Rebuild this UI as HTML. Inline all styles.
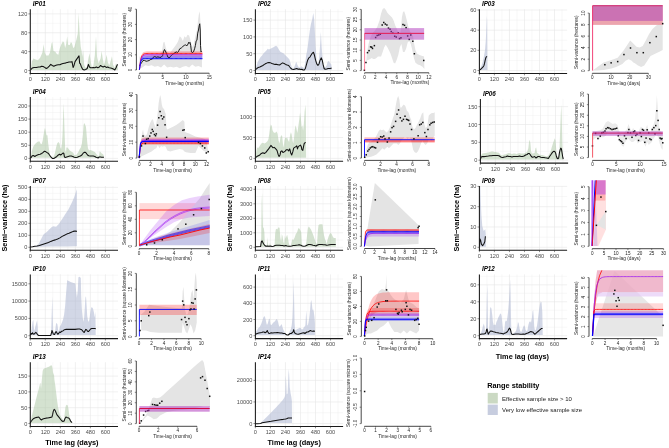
<!DOCTYPE html>
<html><head><meta charset="utf-8"><style>
html,body{margin:0;padding:0;background:#fff;overflow:hidden}
svg{display:block}
text{font-family:"Liberation Sans",sans-serif}
.gmaj{stroke:#e6e6e6;stroke-width:0.6}
.gmin{stroke:#f0f0f0;stroke-width:0.45}
.axl{stroke:#1a1a1a;stroke-width:1.05}
.tk{stroke:#333;stroke-width:0.55}
.tl{font-size:5.6px;fill:#4d4d4d}
.ttl{font-size:6.3px;font-weight:bold;font-style:italic;fill:#000}
.rax{stroke:#333;stroke-width:0.9}
.rtk{stroke:#333;stroke-width:0.6}
.rtl{font-size:4.6px;fill:#222}
.ral{font-size:4.8px;fill:#2a2a2a}
.big{font-size:7.35px;font-weight:bold;fill:#000}
.lgt{font-size:7.35px;font-weight:bold;fill:#000}
.lgl{font-size:6.0px;fill:#1a1a1a}
</style></head><body>
<svg width="669" height="448" viewBox="0 0 669 448" style="will-change:transform">
<rect width="669" height="448" fill="#fff"/>
<g>
<line x1="30.3" y1="61.07" x2="118" y2="61.07" class="gmin"/>
<line x1="30.3" y1="42.2" x2="118" y2="42.2" class="gmin"/>
<line x1="30.3" y1="23.33" x2="118" y2="23.33" class="gmin"/>
<line x1="37.81" y1="9.2" x2="37.81" y2="73.4" class="gmin"/>
<line x1="52.84" y1="9.2" x2="52.84" y2="73.4" class="gmin"/>
<line x1="67.86" y1="9.2" x2="67.86" y2="73.4" class="gmin"/>
<line x1="82.88" y1="9.2" x2="82.88" y2="73.4" class="gmin"/>
<line x1="97.91" y1="9.2" x2="97.91" y2="73.4" class="gmin"/>
<line x1="112.93" y1="9.2" x2="112.93" y2="73.4" class="gmin"/>
<line x1="30.3" y1="70.5" x2="118" y2="70.5" class="gmaj"/>
<line x1="30.3" y1="51.63" x2="118" y2="51.63" class="gmaj"/>
<line x1="30.3" y1="32.76" x2="118" y2="32.76" class="gmaj"/>
<line x1="30.3" y1="13.9" x2="118" y2="13.9" class="gmaj"/>
<line x1="30.3" y1="9.2" x2="30.3" y2="73.4" class="gmaj"/>
<line x1="45.32" y1="9.2" x2="45.32" y2="73.4" class="gmaj"/>
<line x1="60.35" y1="9.2" x2="60.35" y2="73.4" class="gmaj"/>
<line x1="75.37" y1="9.2" x2="75.37" y2="73.4" class="gmaj"/>
<line x1="90.4" y1="9.2" x2="90.4" y2="73.4" class="gmaj"/>
<line x1="105.42" y1="9.2" x2="105.42" y2="73.4" class="gmaj"/>
<polygon points="30.73,70 31.8,61.65 33.31,58.62 35.59,59.38 37.87,60.13 40.15,57.86 42.42,52.54 43.64,44.19 44.7,52.54 46.22,55.58 48.49,55.58 50.01,52.54 51.53,43.44 52.29,41.92 53.5,51.03 55.33,51.79 56.84,54.06 58.36,54.82 59.88,47.99 61.4,44.19 62.92,41.16 64.13,42.68 65.19,47.99 66.26,43.44 67.17,36.6 68.23,44.95 69.75,44.95 70.96,41.92 72.03,43.44 73.24,47.99 74.3,47.23 75.37,43.44 76.58,38.88 77.8,33.57 78.55,13.07 79.62,33.57 80.68,46.47 81.59,51.03 82.35,57.1 83.11,50.27 84.17,64.69 85.39,67.73 86.9,66.97 88.42,58.62 89.48,53.3 90.55,60.13 91.76,66.97 93.28,66.21 94.8,55.58 96.01,36.6 97.08,57.1 98.59,63.17 100.57,58.62 101.63,51.03 102.69,58.62 103.91,64.69 105.43,60.13 106.64,54.82 107.7,61.65 109.22,65.45 110.74,60.89 111.95,56.34 113.02,64.69 114.53,67.73 116.05,63.17 117.27,67.73 117.87,64.69 118.03,70 118.03,69.9 30.73,69.9" fill="#a9c5a1" fill-opacity="0.5"/>
<polyline points="30.73,69.55 32.25,68.03 34.07,67.42 36.35,67.42 38.63,66.97 40.15,66.97 41.66,66.21 43.18,66.51 44.7,67.42 46.22,68.48 47.74,67.73 49.25,66.21 50.77,64.39 52.29,65.45 53.81,66.21 55.33,65.45 56.84,64.99 58.36,64.69 59.88,64.69 61.4,63.93 62.92,63.47 64.44,63.17 65.95,62.87 67.47,62.41 68.99,61.96 70.51,61.96 72.03,61.65 73.09,67.42 74,65.45 75.06,61.65 76.58,59.38 78.1,57.1 79.01,55.88 79.62,63.17 80.38,63.93 81.13,66.21 81.89,67.73 82.65,69.24 84.17,70 85.69,69.55 87.21,68.48 88.42,64.39 89.48,66.97 90.55,67.73 91.76,67.73 93.28,67.42 94.8,67.73 96.32,66.97 97.83,67.73 99.35,66.97 100.57,65.45 101.63,66.21 103.15,66.97 104.67,66.21 106.18,67.42 107.7,66.97 109.22,67.73 110.74,68.03 112.26,68.48 113.78,69.24 114.84,70 116.05,67.73 117.27,64.69 117.87,64.99" fill="none" stroke="#111" stroke-width="1.05" stroke-linejoin="round"/>
<line x1="30.3" y1="9.2" x2="30.3" y2="73.9" class="axl"/>
<line x1="29.8" y1="73.4" x2="118" y2="73.4" class="axl"/>
<line x1="28.4" y1="70.5" x2="30.3" y2="70.5" class="tk"/>
<text x="27.3" y="72.5" class="tl" text-anchor="end">0</text>
<line x1="28.4" y1="51.63" x2="30.3" y2="51.63" class="tk"/>
<text x="27.3" y="53.63" class="tl" text-anchor="end">40</text>
<line x1="28.4" y1="32.76" x2="30.3" y2="32.76" class="tk"/>
<text x="27.3" y="34.76" class="tl" text-anchor="end">80</text>
<line x1="28.4" y1="13.9" x2="30.3" y2="13.9" class="tk"/>
<text x="27.3" y="15.9" class="tl" text-anchor="end">120</text>
<line x1="30.3" y1="73.4" x2="30.3" y2="75.3" class="tk"/>
<text x="30.3" y="81" class="tl" text-anchor="middle">0</text>
<line x1="45.32" y1="73.4" x2="45.32" y2="75.3" class="tk"/>
<text x="45.32" y="81" class="tl" text-anchor="middle">120</text>
<line x1="60.35" y1="73.4" x2="60.35" y2="75.3" class="tk"/>
<text x="60.35" y="81" class="tl" text-anchor="middle">240</text>
<line x1="75.37" y1="73.4" x2="75.37" y2="75.3" class="tk"/>
<text x="75.37" y="81" class="tl" text-anchor="middle">360</text>
<line x1="90.4" y1="73.4" x2="90.4" y2="75.3" class="tk"/>
<text x="90.4" y="81" class="tl" text-anchor="middle">480</text>
<line x1="105.42" y1="73.4" x2="105.42" y2="75.3" class="tk"/>
<text x="105.42" y="81" class="tl" text-anchor="middle">600</text>
<text x="32.8" y="5.8" class="ttl">IP01</text>
<polygon points="139.44,56.56 145.38,56.56 151.62,55 157.88,55 161.78,51.88 163.34,42.5 164.44,41.72 165.69,47.19 167.25,51.88 169.59,53.44 171.94,50.31 174.28,47.19 176.62,44.06 178.19,40.94 179.75,36.25 181.31,37.81 182.88,40.94 184.44,36.25 186,37.81 187.56,34.69 189.12,35.47 190.69,40.94 192.25,47.19 193.81,44.06 195.38,36.25 196.94,30 198.03,20.62 198.81,14.38 199.75,11.25 200.53,23.75 201.31,48.75 201.94,55 201.94,67.5 198.5,65.94 195.38,66.72 192.25,64.38 189.12,67.5 186,65.94 182.88,66.72 179.75,68.28 176.62,66.72 173.5,67.5 170.38,66.72 167.25,67.5 164.12,64.38 161,67.5 157.88,65.94 154.75,66.72 151.62,65.16 148.5,65.94 145.38,65.16 142.25,67.5 139.44,69.06" fill="#e4e4e4" />
<polygon points="139.4,69.8 140.66,58.32 141.92,53.96 143.18,52.31 144.44,51.68 145.7,51.45 146.96,51.36 148.22,51.32 149.48,51.31 150.74,51.3 152,51.3 153.26,51.3 154.52,51.3 155.78,51.3 157.04,51.3 158.3,51.3 159.56,51.3 160.82,51.3 162.08,51.3 163.34,51.3 164.6,51.3 165.86,51.3 167.12,51.3 168.38,51.3 169.64,51.3 170.9,51.3 172.16,51.3 173.42,51.3 174.68,51.3 175.94,51.3 177.2,51.3 178.46,51.3 179.72,51.3 180.98,51.3 182.24,51.3 183.5,51.3 184.76,51.3 186.02,51.3 187.28,51.3 188.54,51.3 189.8,51.3 191.06,51.3 192.32,51.3 193.58,51.3 194.84,51.3 196.1,51.3 197.36,51.3 198.62,51.3 199.88,51.3 201.14,51.3 202.4,51.3 202.4,55.5 201.14,55.5 199.88,55.5 198.62,55.5 197.36,55.5 196.1,55.5 194.84,55.5 193.58,55.5 192.32,55.5 191.06,55.5 189.8,55.5 188.54,55.5 187.28,55.5 186.02,55.5 184.76,55.5 183.5,55.5 182.24,55.5 180.98,55.5 179.72,55.5 178.46,55.5 177.2,55.5 175.94,55.5 174.68,55.5 173.42,55.5 172.16,55.5 170.9,55.5 169.64,55.5 168.38,55.5 167.12,55.5 165.86,55.5 164.6,55.5 163.34,55.5 162.08,55.5 160.82,55.5 159.56,55.5 158.3,55.5 157.04,55.5 155.78,55.5 154.52,55.5 153.26,55.5 152,55.5 150.74,55.5 149.48,55.51 148.22,55.52 146.96,55.54 145.7,55.61 144.44,55.8 143.18,56.28 141.92,57.56 140.66,60.93 139.4,69.8" fill="#ff0000" fill-opacity="0.22" />
<polygon points="139.4,69.8 140.66,59.93 141.92,56.19 143.18,54.77 144.44,54.23 145.7,54.02 146.96,53.95 148.22,53.92 149.48,53.91 150.74,53.9 152,53.9 153.26,53.9 154.52,53.9 155.78,53.9 157.04,53.9 158.3,53.9 159.56,53.9 160.82,53.9 162.08,53.9 163.34,53.9 164.6,53.9 165.86,53.9 167.12,53.9 168.38,53.9 169.64,53.9 170.9,53.9 172.16,53.9 173.42,53.9 174.68,53.9 175.94,53.9 177.2,53.9 178.46,53.9 179.72,53.9 180.98,53.9 182.24,53.9 183.5,53.9 184.76,53.9 186.02,53.9 187.28,53.9 188.54,53.9 189.8,53.9 191.06,53.9 192.32,53.9 193.58,53.9 194.84,53.9 196.1,53.9 197.36,53.9 198.62,53.9 199.88,53.9 201.14,53.9 202.4,53.9 202.4,57.1 201.14,57.1 199.88,57.1 198.62,57.1 197.36,57.1 196.1,57.1 194.84,57.1 193.58,57.1 192.32,57.1 191.06,57.1 189.8,57.1 188.54,57.1 187.28,57.1 186.02,57.1 184.76,57.1 183.5,57.1 182.24,57.1 180.98,57.1 179.72,57.1 178.46,57.1 177.2,57.1 175.94,57.1 174.68,57.1 173.42,57.1 172.16,57.1 170.9,57.1 169.64,57.1 168.38,57.1 167.12,57.1 165.86,57.1 164.6,57.1 163.34,57.1 162.08,57.1 160.82,57.1 159.56,57.1 158.3,57.1 157.04,57.1 155.78,57.1 154.52,57.1 153.26,57.1 152,57.1 150.74,57.1 149.48,57.11 148.22,57.11 146.96,57.14 145.7,57.2 144.44,57.36 143.18,57.79 141.92,58.93 140.66,61.92 139.4,69.8" fill="#a020f0" fill-opacity="0.3" />
<polygon points="139.4,69.8 140.66,60.06 141.92,57.29 143.18,56.51 144.44,56.29 145.7,56.22 146.96,56.21 148.22,56.2 149.48,56.2 150.74,56.2 152,56.2 153.26,56.2 154.52,56.2 155.78,56.2 157.04,56.2 158.3,56.2 159.56,56.2 160.82,56.2 162.08,56.2 163.34,56.2 164.6,56.2 165.86,56.2 167.12,56.2 168.38,56.2 169.64,56.2 170.9,56.2 172.16,56.2 173.42,56.2 174.68,56.2 175.94,56.2 177.2,56.2 178.46,56.2 179.72,56.2 180.98,56.2 182.24,56.2 183.5,56.2 184.76,56.2 186.02,56.2 187.28,56.2 188.54,56.2 189.8,56.2 191.06,56.2 192.32,56.2 193.58,56.2 194.84,56.2 196.1,56.2 197.36,56.2 198.62,56.2 199.88,56.2 201.14,56.2 202.4,56.2 202.4,59.7 201.14,59.7 199.88,59.7 198.62,59.7 197.36,59.7 196.1,59.7 194.84,59.7 193.58,59.7 192.32,59.7 191.06,59.7 189.8,59.7 188.54,59.7 187.28,59.7 186.02,59.7 184.76,59.7 183.5,59.7 182.24,59.7 180.98,59.7 179.72,59.7 178.46,59.7 177.2,59.7 175.94,59.7 174.68,59.7 173.42,59.7 172.16,59.7 170.9,59.7 169.64,59.7 168.38,59.7 167.12,59.7 165.86,59.7 164.6,59.7 163.34,59.7 162.08,59.7 160.82,59.7 159.56,59.7 158.3,59.7 157.04,59.7 155.78,59.7 154.52,59.7 153.26,59.7 152,59.7 150.74,59.7 149.48,59.7 148.22,59.7 146.96,59.71 145.7,59.72 144.44,59.77 143.18,59.93 141.92,60.51 140.66,62.56 139.4,69.8" fill="#0000ff" fill-opacity="0.3" />
<polyline points="139.44,65.94 140.38,64.38 141.47,62.81 143.03,60.47 144.59,60.47 146.16,61.25 147.72,60.94 149.28,60.47 150.84,59.38 152.41,58.91 153.19,57.34 154.75,56.56 156.31,57.34 157.88,56.88 159.44,57.34 161,57.34 162.56,55.78 163.5,51.88 164.44,49.53 165.38,51.09 166.47,53.44 168.03,57.34 169.12,58.12 170.38,56.56 171.94,54.69 173.5,53.75 175.06,52.66 176.31,51.88 177.41,52.66 178.19,51.88 178.97,50.31 179.75,48.75 181.31,47.97 182.88,46.41 184.44,45.31 185.69,44.84 186.78,45.94 188.03,44.06 188.81,42.19 189.44,43.28 190.06,42.5 190.69,45.62 191.47,51.88 192.25,52.66 193.5,51.88 194.59,48.75 195.38,45.62 196.16,40.94 196.94,40.16 197.72,33.12 198.5,30 199.28,25.31 199.75,23.75 200.22,30 200.53,45.62 201,51.88 201.62,51.09" fill="none" stroke="#111" stroke-width="0.95" stroke-linejoin="round"/>
<polyline points="139.4,69.8 140.66,59.62 141.92,55.76 143.18,54.3 144.44,53.74 145.7,53.53 146.96,53.45 148.22,53.42 149.48,53.41 150.74,53.4 152,53.4 153.26,53.4 154.52,53.4 155.78,53.4 157.04,53.4 158.3,53.4 159.56,53.4 160.82,53.4 162.08,53.4 163.34,53.4 164.6,53.4 165.86,53.4 167.12,53.4 168.38,53.4 169.64,53.4 170.9,53.4 172.16,53.4 173.42,53.4 174.68,53.4 175.94,53.4 177.2,53.4 178.46,53.4 179.72,53.4 180.98,53.4 182.24,53.4 183.5,53.4 184.76,53.4 186.02,53.4 187.28,53.4 188.54,53.4 189.8,53.4 191.06,53.4 192.32,53.4 193.58,53.4 194.84,53.4 196.1,53.4 197.36,53.4 198.62,53.4 199.88,53.4 201.14,53.4 202.4,53.4" fill="none" stroke="#ff0000" stroke-width="0.8" stroke-linejoin="round"/>
<polyline points="139.4,69.8 140.66,60.49 141.92,56.96 143.18,55.62 144.44,55.11 145.7,54.92 146.96,54.84 148.22,54.82 149.48,54.81 150.74,54.8 152,54.8 153.26,54.8 154.52,54.8 155.78,54.8 157.04,54.8 158.3,54.8 159.56,54.8 160.82,54.8 162.08,54.8 163.34,54.8 164.6,54.8 165.86,54.8 167.12,54.8 168.38,54.8 169.64,54.8 170.9,54.8 172.16,54.8 173.42,54.8 174.68,54.8 175.94,54.8 177.2,54.8 178.46,54.8 179.72,54.8 180.98,54.8 182.24,54.8 183.5,54.8 184.76,54.8 186.02,54.8 187.28,54.8 188.54,54.8 189.8,54.8 191.06,54.8 192.32,54.8 193.58,54.8 194.84,54.8 196.1,54.8 197.36,54.8 198.62,54.8 199.88,54.8 201.14,54.8 202.4,54.8" fill="none" stroke="#a020f0" stroke-width="0.8" stroke-linejoin="round"/>
<polyline points="139.4,69.8 140.66,61.63 141.92,59.32 143.18,58.66 144.44,58.47 145.7,58.42 146.96,58.41 148.22,58.4 149.48,58.4 150.74,58.4 152,58.4 153.26,58.4 154.52,58.4 155.78,58.4 157.04,58.4 158.3,58.4 159.56,58.4 160.82,58.4 162.08,58.4 163.34,58.4 164.6,58.4 165.86,58.4 167.12,58.4 168.38,58.4 169.64,58.4 170.9,58.4 172.16,58.4 173.42,58.4 174.68,58.4 175.94,58.4 177.2,58.4 178.46,58.4 179.72,58.4 180.98,58.4 182.24,58.4 183.5,58.4 184.76,58.4 186.02,58.4 187.28,58.4 188.54,58.4 189.8,58.4 191.06,58.4 192.32,58.4 193.58,58.4 194.84,58.4 196.1,58.4 197.36,58.4 198.62,58.4 199.88,58.4 201.14,58.4 202.4,58.4" fill="none" stroke="#0000ff" stroke-width="0.9" stroke-linejoin="round"/>
<line x1="136.4" y1="70" x2="136.4" y2="9.2" class="rax"/>
<line x1="134.9" y1="70" x2="136.4" y2="70" class="rtk"/>
<text transform="translate(132.1,70) rotate(-90)" class="rtl" text-anchor="middle">0</text>
<line x1="134.9" y1="54.8" x2="136.4" y2="54.8" class="rtk"/>
<text transform="translate(132.1,54.8) rotate(-90)" class="rtl" text-anchor="middle">10</text>
<line x1="134.9" y1="39.6" x2="136.4" y2="39.6" class="rtk"/>
<text transform="translate(132.1,39.6) rotate(-90)" class="rtl" text-anchor="middle">20</text>
<line x1="134.9" y1="24.4" x2="136.4" y2="24.4" class="rtk"/>
<text transform="translate(132.1,24.4) rotate(-90)" class="rtl" text-anchor="middle">30</text>
<line x1="134.9" y1="9.2" x2="136.4" y2="9.2" class="rtk"/>
<text transform="translate(132.1,9.2) rotate(-90)" class="rtl" text-anchor="middle">40</text>
<line x1="139.4" y1="73.2" x2="209.2" y2="73.2" class="rax"/>
<line x1="139.4" y1="73.2" x2="139.4" y2="74.6" class="rtk"/>
<text x="139.4" y="79.1" class="rtl" text-anchor="middle">0</text>
<line x1="162.67" y1="73.2" x2="162.67" y2="74.6" class="rtk"/>
<text x="162.67" y="79.1" class="rtl" text-anchor="middle">5</text>
<line x1="185.93" y1="73.2" x2="185.93" y2="74.6" class="rtk"/>
<text x="185.93" y="79.1" class="rtl" text-anchor="middle">10</text>
<line x1="209.2" y1="73.2" x2="209.2" y2="74.6" class="rtk"/>
<text x="209.2" y="79.1" class="rtl" text-anchor="middle">15</text>
<text x="184.7" y="84.6" class="ral" text-anchor="middle">Time-lag (months)</text>
<text transform="translate(125.6,39.7) rotate(-90)" class="ral" text-anchor="middle">Semi-variance (hectares)</text>
</g>
<g>
<line x1="255.4" y1="62.1" x2="343.1" y2="62.1" class="gmin"/>
<line x1="255.4" y1="45.3" x2="343.1" y2="45.3" class="gmin"/>
<line x1="255.4" y1="28.5" x2="343.1" y2="28.5" class="gmin"/>
<line x1="255.4" y1="11.7" x2="343.1" y2="11.7" class="gmin"/>
<line x1="262.91" y1="9.2" x2="262.91" y2="73.4" class="gmin"/>
<line x1="277.94" y1="9.2" x2="277.94" y2="73.4" class="gmin"/>
<line x1="292.96" y1="9.2" x2="292.96" y2="73.4" class="gmin"/>
<line x1="307.98" y1="9.2" x2="307.98" y2="73.4" class="gmin"/>
<line x1="323.01" y1="9.2" x2="323.01" y2="73.4" class="gmin"/>
<line x1="338.03" y1="9.2" x2="338.03" y2="73.4" class="gmin"/>
<line x1="255.4" y1="70.5" x2="343.1" y2="70.5" class="gmaj"/>
<line x1="255.4" y1="53.7" x2="343.1" y2="53.7" class="gmaj"/>
<line x1="255.4" y1="36.9" x2="343.1" y2="36.9" class="gmaj"/>
<line x1="255.4" y1="20.1" x2="343.1" y2="20.1" class="gmaj"/>
<line x1="255.4" y1="9.2" x2="255.4" y2="73.4" class="gmaj"/>
<line x1="270.42" y1="9.2" x2="270.42" y2="73.4" class="gmaj"/>
<line x1="285.45" y1="9.2" x2="285.45" y2="73.4" class="gmaj"/>
<line x1="300.47" y1="9.2" x2="300.47" y2="73.4" class="gmaj"/>
<line x1="315.5" y1="9.2" x2="315.5" y2="73.4" class="gmaj"/>
<line x1="330.52" y1="9.2" x2="330.52" y2="73.4" class="gmaj"/>
<polygon points="255.43,70 256.34,66.21 257.55,62.41 259.07,59.38 260.59,57.1 262.11,55.58 263.63,53.3 265.15,51.79 266.66,50.27 267.73,48.75 268.94,49.51 270.46,48.75 271.98,47.99 273.49,47.23 275.01,46.17 276.08,45.71 277.29,46.78 278.81,49.51 280.33,51.79 281.84,52.54 283.36,53.3 284.88,54.82 286.4,56.34 287.92,57.86 289.44,59.38 290.65,63.17 291.71,66.97 292.78,68.48 293.99,67.73 295.2,64.39 296.27,61.65 297.33,64.69 298.54,66.97 300.06,67.73 301.28,66.21 302.34,66.97 303.4,67.73 304.31,67.73 305.38,61.65 306.13,55.58 307.05,51.03 307.96,44.95 308.87,37.36 309.93,29.77 310.99,23.7 312.21,19.15 313.27,13.07 314.18,19.15 314.94,32.81 315.55,46.47 316.46,58.62 317.52,63.93 318.74,61.65 319.8,49.51 320.86,32.05 321.62,46.47 322.38,55.58 323.14,63.93 324.35,66.97 325.57,66.97 326.63,65.45 327.69,61.65 328.91,60.89 330.12,63.17 331.18,63.93 331.64,66.97 331.64,69.24 331.64,69.9 255.43,69.9" fill="#a5afcd" fill-opacity="0.5"/>
<polyline points="255.43,70 256.8,68.48 258.31,67.42 259.83,66.97 261.35,66.21 262.87,65.45 264.39,64.39 265.9,63.47 267.42,62.87 268.94,62.41 270.46,62.87 271.98,63.47 273.49,63.93 275.01,64.39 276.53,64.39 278.05,64.69 279.57,64.99 281.09,63.93 282.6,62.87 284.12,63.47 285.64,64.39 287.16,64.99 288.68,65.45 289.74,66.97 290.95,68.48 292.17,69.24 293.69,69.55 295.2,68.94 296.72,68.48 298.24,69.24 299.3,68.94 300.82,69.55 301.88,69.24 303.1,70 304.31,70 305.38,68.48 306.44,64.69 307.65,60.13 308.87,57.86 309.93,57.1 310.99,55.28 312.21,53.3 313.42,52.24 314.48,55.28 315.55,60.13 316.76,63.93 317.98,65.45 319.04,63.93 320.1,60.13 321.32,57.86 322.23,60.13 323.14,64.69 324.05,68.48 325.11,69.24 326.63,68.94 328.15,68.48 329.67,68.48 331.18,68.18 331.64,68.33" fill="none" stroke="#111" stroke-width="1.05" stroke-linejoin="round"/>
<line x1="255.4" y1="9.2" x2="255.4" y2="73.9" class="axl"/>
<line x1="254.9" y1="73.4" x2="343.1" y2="73.4" class="axl"/>
<line x1="253.5" y1="70.5" x2="255.4" y2="70.5" class="tk"/>
<text x="252.4" y="72.5" class="tl" text-anchor="end">0</text>
<line x1="253.5" y1="53.7" x2="255.4" y2="53.7" class="tk"/>
<text x="252.4" y="55.7" class="tl" text-anchor="end">50</text>
<line x1="253.5" y1="36.9" x2="255.4" y2="36.9" class="tk"/>
<text x="252.4" y="38.9" class="tl" text-anchor="end">100</text>
<line x1="253.5" y1="20.1" x2="255.4" y2="20.1" class="tk"/>
<text x="252.4" y="22.1" class="tl" text-anchor="end">150</text>
<line x1="255.4" y1="73.4" x2="255.4" y2="75.3" class="tk"/>
<text x="255.4" y="81" class="tl" text-anchor="middle">0</text>
<line x1="270.42" y1="73.4" x2="270.42" y2="75.3" class="tk"/>
<text x="270.42" y="81" class="tl" text-anchor="middle">120</text>
<line x1="285.45" y1="73.4" x2="285.45" y2="75.3" class="tk"/>
<text x="285.45" y="81" class="tl" text-anchor="middle">240</text>
<line x1="300.47" y1="73.4" x2="300.47" y2="75.3" class="tk"/>
<text x="300.47" y="81" class="tl" text-anchor="middle">360</text>
<line x1="315.5" y1="73.4" x2="315.5" y2="75.3" class="tk"/>
<text x="315.5" y="81" class="tl" text-anchor="middle">480</text>
<line x1="330.52" y1="73.4" x2="330.52" y2="75.3" class="tk"/>
<text x="330.52" y="81" class="tl" text-anchor="middle">600</text>
<text x="257.9" y="5.8" class="ttl">IP02</text>
<polygon points="366.25,61.25 367.03,51.88 368.59,44.06 369.69,39.38 370.94,36.25 372.5,33.12 374.84,30.78 377.19,26.88 379.53,20.62 381.09,13.59 382.66,8.91 384.22,8.12 385.78,9.69 387.34,12.81 388.91,14.38 390.47,15.94 392.03,17.5 393.59,20.62 395.16,25.31 396.72,28.44 398.28,32.34 399.84,36.25 400.94,28.44 401.88,17.5 402.97,12.03 404.22,11.25 405.31,14.38 406.88,20.62 408.44,26.88 410,31.56 411.56,33.12 413.12,36.25 413.91,42.5 415.47,50.31 417.03,53.44 419.38,55 421.72,55.78 424.06,56.56 424.38,67.5 424.38,69.06 422.5,66.72 420.16,65.16 417.81,64.38 415.47,62.81 413.91,58.12 412.34,50.31 410.78,44.06 409.22,40.94 407.66,42.5 406.09,48.75 404.53,51.88 402.97,51.88 401.41,44.06 399.84,47.19 398.28,55 396.72,59.69 395.16,63.59 393.59,62.81 392.03,58.12 390.47,53.44 388.91,50.31 387.34,47.19 385.78,44.84 384.22,47.19 382.66,51.88 381.09,56.56 379.53,56.56 377.97,56.56 376.41,58.12 374.84,58.91 373.28,58.91 371.72,58.12 370.16,58.91 368.59,59.69 367.03,60.47" fill="#e4e4e4" />
<rect x="363.62" y="69.56" width="1.5" height="1.5" fill="#111"/>
<rect x="365.19" y="61.75" width="1.5" height="1.5" fill="#111"/>
<rect x="366.75" y="51.91" width="1.5" height="1.5" fill="#111"/>
<rect x="368.31" y="49.88" width="1.5" height="1.5" fill="#111"/>
<rect x="369.88" y="46.12" width="1.5" height="1.5" fill="#111"/>
<rect x="370.97" y="46.44" width="1.5" height="1.5" fill="#111"/>
<rect x="371.75" y="47.69" width="1.5" height="1.5" fill="#111"/>
<rect x="373.62" y="44.88" width="1.5" height="1.5" fill="#111"/>
<rect x="374.88" y="36.75" width="1.5" height="1.5" fill="#111"/>
<rect x="376.44" y="34.72" width="1.5" height="1.5" fill="#111"/>
<rect x="378" y="34.25" width="1.5" height="1.5" fill="#111"/>
<rect x="379.56" y="33.47" width="1.5" height="1.5" fill="#111"/>
<rect x="381.44" y="24.25" width="1.5" height="1.5" fill="#111"/>
<rect x="383" y="21.75" width="1.5" height="1.5" fill="#111"/>
<rect x="384.56" y="23.31" width="1.5" height="1.5" fill="#111"/>
<rect x="386.12" y="24.25" width="1.5" height="1.5" fill="#111"/>
<rect x="387.69" y="27.38" width="1.5" height="1.5" fill="#111"/>
<rect x="389.25" y="28.47" width="1.5" height="1.5" fill="#111"/>
<rect x="390.5" y="30.81" width="1.5" height="1.5" fill="#111"/>
<rect x="392.06" y="32.38" width="1.5" height="1.5" fill="#111"/>
<rect x="393.94" y="35.5" width="1.5" height="1.5" fill="#111"/>
<rect x="395.5" y="36.28" width="1.5" height="1.5" fill="#111"/>
<rect x="397.53" y="32.06" width="1.5" height="1.5" fill="#111"/>
<rect x="398.78" y="37.84" width="1.5" height="1.5" fill="#111"/>
<rect x="400.19" y="37.06" width="1.5" height="1.5" fill="#111"/>
<rect x="402.22" y="23.78" width="1.5" height="1.5" fill="#111"/>
<rect x="403.78" y="24.56" width="1.5" height="1.5" fill="#111"/>
<rect x="405.34" y="26.91" width="1.5" height="1.5" fill="#111"/>
<rect x="406.91" y="35.19" width="1.5" height="1.5" fill="#111"/>
<rect x="408.47" y="38.62" width="1.5" height="1.5" fill="#111"/>
<rect x="410.03" y="34.25" width="1.5" height="1.5" fill="#111"/>
<rect x="412.06" y="40.5" width="1.5" height="1.5" fill="#111"/>
<rect x="413.62" y="53" width="1.5" height="1.5" fill="#111"/>
<rect x="423" y="59.72" width="1.5" height="1.5" fill="#111"/>
<rect x="364.4" y="28.1" width="59.7" height="11.6" fill="#b03cbe" fill-opacity="0.52"/>
<polyline points="364.6,70.6 364.6,33.4 424.1,33.4" fill="none" stroke="#ff2050" stroke-width="0.55" stroke-linejoin="round"/>
<polyline points="364.9,33.4 424.1,33.4" fill="none" stroke="#e0205a" stroke-width="0.9" stroke-linejoin="round"/>
<line x1="361.2" y1="70.6" x2="361.2" y2="9.4" class="rax"/>
<line x1="359.7" y1="70.6" x2="361.2" y2="70.6" class="rtk"/>
<text transform="translate(356.9,70.6) rotate(-90)" class="rtl" text-anchor="middle">0</text>
<line x1="359.7" y1="60.4" x2="361.2" y2="60.4" class="rtk"/>
<text transform="translate(356.9,60.4) rotate(-90)" class="rtl" text-anchor="middle">5</text>
<line x1="359.7" y1="50.2" x2="361.2" y2="50.2" class="rtk"/>
<text transform="translate(356.9,50.2) rotate(-90)" class="rtl" text-anchor="middle">10</text>
<line x1="359.7" y1="40" x2="361.2" y2="40" class="rtk"/>
<text transform="translate(356.9,40) rotate(-90)" class="rtl" text-anchor="middle">15</text>
<line x1="359.7" y1="29.8" x2="361.2" y2="29.8" class="rtk"/>
<text transform="translate(356.9,29.8) rotate(-90)" class="rtl" text-anchor="middle">20</text>
<line x1="359.7" y1="19.6" x2="361.2" y2="19.6" class="rtk"/>
<text transform="translate(356.9,19.6) rotate(-90)" class="rtl" text-anchor="middle">25</text>
<line x1="359.7" y1="9.4" x2="361.2" y2="9.4" class="rtk"/>
<text transform="translate(356.9,9.4) rotate(-90)" class="rtl" text-anchor="middle">30</text>
<line x1="364.6" y1="72.8" x2="428.9" y2="72.8" class="rax"/>
<line x1="364.6" y1="72.8" x2="364.6" y2="74.2" class="rtk"/>
<text x="364.6" y="78.7" class="rtl" text-anchor="middle">0</text>
<line x1="375.32" y1="72.8" x2="375.32" y2="74.2" class="rtk"/>
<text x="375.32" y="78.7" class="rtl" text-anchor="middle">2</text>
<line x1="386.03" y1="72.8" x2="386.03" y2="74.2" class="rtk"/>
<text x="386.03" y="78.7" class="rtl" text-anchor="middle">4</text>
<line x1="396.75" y1="72.8" x2="396.75" y2="74.2" class="rtk"/>
<text x="396.75" y="78.7" class="rtl" text-anchor="middle">6</text>
<line x1="407.47" y1="72.8" x2="407.47" y2="74.2" class="rtk"/>
<text x="407.47" y="78.7" class="rtl" text-anchor="middle">8</text>
<line x1="418.18" y1="72.8" x2="418.18" y2="74.2" class="rtk"/>
<text x="418.18" y="78.7" class="rtl" text-anchor="middle">10</text>
<line x1="428.9" y1="72.8" x2="428.9" y2="74.2" class="rtk"/>
<text x="428.9" y="78.7" class="rtl" text-anchor="middle">12</text>
<text x="409.9" y="84.2" class="ral" text-anchor="middle">Time-lag (months)</text>
<text transform="translate(350.4,43.7) rotate(-90)" class="ral" text-anchor="middle">Semi-variance (hectares)</text>
</g>
<g>
<line x1="479.4" y1="60.42" x2="567.1" y2="60.42" class="gmin"/>
<line x1="479.4" y1="40.26" x2="567.1" y2="40.26" class="gmin"/>
<line x1="479.4" y1="20.1" x2="567.1" y2="20.1" class="gmin"/>
<line x1="486.91" y1="9.2" x2="486.91" y2="73.4" class="gmin"/>
<line x1="501.94" y1="9.2" x2="501.94" y2="73.4" class="gmin"/>
<line x1="516.96" y1="9.2" x2="516.96" y2="73.4" class="gmin"/>
<line x1="531.98" y1="9.2" x2="531.98" y2="73.4" class="gmin"/>
<line x1="547.01" y1="9.2" x2="547.01" y2="73.4" class="gmin"/>
<line x1="562.03" y1="9.2" x2="562.03" y2="73.4" class="gmin"/>
<line x1="479.4" y1="70.5" x2="567.1" y2="70.5" class="gmaj"/>
<line x1="479.4" y1="50.34" x2="567.1" y2="50.34" class="gmaj"/>
<line x1="479.4" y1="30.18" x2="567.1" y2="30.18" class="gmaj"/>
<line x1="479.4" y1="10.02" x2="567.1" y2="10.02" class="gmaj"/>
<line x1="479.4" y1="9.2" x2="479.4" y2="73.4" class="gmaj"/>
<line x1="494.42" y1="9.2" x2="494.42" y2="73.4" class="gmaj"/>
<line x1="509.45" y1="9.2" x2="509.45" y2="73.4" class="gmaj"/>
<line x1="524.47" y1="9.2" x2="524.47" y2="73.4" class="gmaj"/>
<line x1="539.5" y1="9.2" x2="539.5" y2="73.4" class="gmaj"/>
<line x1="554.52" y1="9.2" x2="554.52" y2="73.4" class="gmaj"/>
<polygon points="479.43,70 480.34,68.48 481.55,65.45 482.77,61.65 483.83,57.1 484.89,51.03 485.81,40.4 486.41,26.74 486.87,16.11 487.17,20.66 487.32,44.95 487.48,69.24 487.48,69.9 479.43,69.9" fill="#a5afcd" fill-opacity="0.5"/>
<polyline points="479.43,70 480.8,69.24 481.86,68.03 483.07,66.97 483.98,65.45 484.59,63.17 485.2,60.13 485.81,57.86 486.41,56.8 487.02,56.34" fill="none" stroke="#111" stroke-width="1.05" stroke-linejoin="round"/>
<line x1="479.4" y1="9.2" x2="479.4" y2="73.9" class="axl"/>
<line x1="478.9" y1="73.4" x2="567.1" y2="73.4" class="axl"/>
<line x1="477.5" y1="70.5" x2="479.4" y2="70.5" class="tk"/>
<text x="476.4" y="72.5" class="tl" text-anchor="end">0</text>
<line x1="477.5" y1="50.34" x2="479.4" y2="50.34" class="tk"/>
<text x="476.4" y="52.34" class="tl" text-anchor="end">20</text>
<line x1="477.5" y1="30.18" x2="479.4" y2="30.18" class="tk"/>
<text x="476.4" y="32.18" class="tl" text-anchor="end">40</text>
<line x1="477.5" y1="10.02" x2="479.4" y2="10.02" class="tk"/>
<text x="476.4" y="12.02" class="tl" text-anchor="end">60</text>
<line x1="479.4" y1="73.4" x2="479.4" y2="75.3" class="tk"/>
<text x="479.4" y="81" class="tl" text-anchor="middle">0</text>
<line x1="494.42" y1="73.4" x2="494.42" y2="75.3" class="tk"/>
<text x="494.42" y="81" class="tl" text-anchor="middle">120</text>
<line x1="509.45" y1="73.4" x2="509.45" y2="75.3" class="tk"/>
<text x="509.45" y="81" class="tl" text-anchor="middle">240</text>
<line x1="524.47" y1="73.4" x2="524.47" y2="75.3" class="tk"/>
<text x="524.47" y="81" class="tl" text-anchor="middle">360</text>
<line x1="539.5" y1="73.4" x2="539.5" y2="75.3" class="tk"/>
<text x="539.5" y="81" class="tl" text-anchor="middle">480</text>
<line x1="554.52" y1="73.4" x2="554.52" y2="75.3" class="tk"/>
<text x="554.52" y="81" class="tl" text-anchor="middle">600</text>
<text x="481.9" y="5.8" class="ttl">IP03</text>
<polygon points="592.69,70.5 597.38,67.06 603.62,62.38 611.44,60.03 617.69,57.69 623.94,49.88 627.06,45.19 630.19,40.5 633.31,43.62 636.44,46.75 639.56,47.53 642.69,45.97 645.81,40.5 648.94,34.25 652.06,29.56 655.19,26.44 659.09,23.31 662.22,22.53 662.69,23.31 662.69,49.88 659.88,51.44 656.75,53 653.62,54.56 650.5,56.12 647.38,60.81 644.25,65.5 641.12,67.06 638,65.5 634.88,63.16 633.31,62.38 631.75,60.81 628.62,59.25 625.5,60.81 622.38,63.94 619.25,65.5 616.12,67.06 611.44,68.62 603.62,69.88 597.38,70.5" fill="#e4e4e4" />
<rect x="592.4" y="5.3" width="70.3" height="19.6" fill="#eba0aa" fill-opacity="0.95"/>
<rect x="592.4" y="6.2" width="70.3" height="14.7" fill="#c96fb3" fill-opacity="0.95"/>
<polyline points="592.6,70.6 592.6,5.8" fill="none" stroke="#f0306a" stroke-width="0.9" stroke-linejoin="round"/>
<polyline points="592.6,5.8 662.7,5.8" fill="none" stroke="#c8186a" stroke-width="1.1" stroke-linejoin="round"/>
<rect x="604.12" y="63.97" width="1.5" height="1.5" fill="#111"/>
<rect x="610.38" y="62.09" width="1.5" height="1.5" fill="#111"/>
<rect x="616.94" y="60.84" width="1.5" height="1.5" fill="#111"/>
<rect x="623.19" y="53.81" width="1.5" height="1.5" fill="#111"/>
<rect x="629.75" y="47.25" width="1.5" height="1.5" fill="#111"/>
<rect x="636.16" y="51.94" width="1.5" height="1.5" fill="#111"/>
<rect x="642.56" y="51.94" width="1.5" height="1.5" fill="#111"/>
<rect x="649.12" y="41.94" width="1.5" height="1.5" fill="#111"/>
<rect x="655.53" y="35.84" width="1.5" height="1.5" fill="#111"/>
<rect x="661.94" y="22.88" width="1.5" height="1.5" fill="#111"/>
<line x1="589.2" y1="70.7" x2="589.2" y2="13.1" class="rax"/>
<line x1="587.7" y1="70.7" x2="589.2" y2="70.7" class="rtk"/>
<text transform="translate(584.9,70.7) rotate(-90)" class="rtl" text-anchor="middle">0</text>
<line x1="587.7" y1="59.18" x2="589.2" y2="59.18" class="rtk"/>
<text transform="translate(584.9,59.18) rotate(-90)" class="rtl" text-anchor="middle">2</text>
<line x1="587.7" y1="47.66" x2="589.2" y2="47.66" class="rtk"/>
<text transform="translate(584.9,47.66) rotate(-90)" class="rtl" text-anchor="middle">4</text>
<line x1="587.7" y1="36.14" x2="589.2" y2="36.14" class="rtk"/>
<text transform="translate(584.9,36.14) rotate(-90)" class="rtl" text-anchor="middle">6</text>
<line x1="587.7" y1="24.62" x2="589.2" y2="24.62" class="rtk"/>
<text transform="translate(584.9,24.62) rotate(-90)" class="rtl" text-anchor="middle">8</text>
<line x1="587.7" y1="13.1" x2="589.2" y2="13.1" class="rtk"/>
<text transform="translate(584.9,13.1) rotate(-90)" class="rtl" text-anchor="middle">10</text>
<line x1="592.3" y1="73.3" x2="648.4" y2="73.3" class="rax"/>
<line x1="592.3" y1="73.3" x2="592.3" y2="74.7" class="rtk"/>
<text x="592.3" y="79.2" class="rtl" text-anchor="middle">0</text>
<line x1="611" y1="73.3" x2="611" y2="74.7" class="rtk"/>
<text x="611" y="79.2" class="rtl" text-anchor="middle">10</text>
<line x1="629.7" y1="73.3" x2="629.7" y2="74.7" class="rtk"/>
<text x="629.7" y="79.2" class="rtl" text-anchor="middle">20</text>
<line x1="648.4" y1="73.3" x2="648.4" y2="74.7" class="rtk"/>
<text x="648.4" y="79.2" class="rtl" text-anchor="middle">30</text>
<text x="623.9" y="84.7" class="ral" text-anchor="middle">Time-lag (days)</text>
<text transform="translate(578.4,42.2) rotate(-90)" class="ral" text-anchor="middle">Semi-variance (hectares)</text>
</g>
<g>
<line x1="30.3" y1="151.85" x2="118" y2="151.85" class="gmin"/>
<line x1="30.3" y1="138.75" x2="118" y2="138.75" class="gmin"/>
<line x1="30.3" y1="125.65" x2="118" y2="125.65" class="gmin"/>
<line x1="30.3" y1="112.55" x2="118" y2="112.55" class="gmin"/>
<line x1="30.3" y1="99.45" x2="118" y2="99.45" class="gmin"/>
<line x1="37.81" y1="97.1" x2="37.81" y2="161.3" class="gmin"/>
<line x1="52.84" y1="97.1" x2="52.84" y2="161.3" class="gmin"/>
<line x1="67.86" y1="97.1" x2="67.86" y2="161.3" class="gmin"/>
<line x1="82.88" y1="97.1" x2="82.88" y2="161.3" class="gmin"/>
<line x1="97.91" y1="97.1" x2="97.91" y2="161.3" class="gmin"/>
<line x1="112.93" y1="97.1" x2="112.93" y2="161.3" class="gmin"/>
<line x1="30.3" y1="158.4" x2="118" y2="158.4" class="gmaj"/>
<line x1="30.3" y1="145.3" x2="118" y2="145.3" class="gmaj"/>
<line x1="30.3" y1="132.2" x2="118" y2="132.2" class="gmaj"/>
<line x1="30.3" y1="119.1" x2="118" y2="119.1" class="gmaj"/>
<line x1="30.3" y1="106" x2="118" y2="106" class="gmaj"/>
<line x1="30.3" y1="97.1" x2="30.3" y2="161.3" class="gmaj"/>
<line x1="45.32" y1="97.1" x2="45.32" y2="161.3" class="gmaj"/>
<line x1="60.35" y1="97.1" x2="60.35" y2="161.3" class="gmaj"/>
<line x1="75.37" y1="97.1" x2="75.37" y2="161.3" class="gmaj"/>
<line x1="90.4" y1="97.1" x2="90.4" y2="161.3" class="gmaj"/>
<line x1="105.42" y1="97.1" x2="105.42" y2="161.3" class="gmaj"/>
<polygon points="30.43,158 31.34,154.21 32.25,149.65 33.31,146.62 34.83,144.34 36.35,142.82 37.87,141.76 39.39,141.3 40.45,143.58 41.66,144.34 42.73,140.54 43.64,134.47 44.4,129.92 45,127.64 45.76,131.44 46.52,135.23 47.43,135.23 48.19,143.58 49.25,151.17 50.01,154.97 50.77,156.48 52.29,156.94 53.81,156.48 55.02,152.69 56.09,147.38 57.15,143.58 58.36,142.06 59.43,143.28 60.18,147.38 61.1,148.89 62.01,143.58 62.61,132.95 63.22,113.22 63.68,103.35 64.13,119.29 64.74,137.51 65.19,149.65 65.95,152.69 66.41,147.38 67.47,147.38 68.69,148.89 69.75,150.41 70.81,151.17 72.03,151.93 73.24,152.69 74.3,154.97 75.37,154.97 76.28,154.97 77.34,153.45 78.4,151.93 79.62,149.35 80.83,147.38 81.89,143.58 82.96,134.47 83.56,125.36 84.17,123.09 85.08,124.6 85.99,126.88 86.6,134.47 87.21,142.06 87.97,148.13 89.03,150.41 90.24,149.96 91.76,150.41 93.28,151.17 94.8,151.93 96.01,153.45 97.08,154.97 98.14,156.03 99.05,155.73 99.66,151.17 100.57,151.93 101.63,153.45 102.84,153.9 103.6,154.97 103.91,157.24 103.91,157.8 30.43,157.8" fill="#a9c5a1" fill-opacity="0.5"/>
<polyline points="30.43,158 31.34,157.24 32.25,155.73 33.31,155.42 34.83,156.48 36.35,155.42 37.41,154.97 38.63,154.51 40.15,154.21 41.66,153.45 43.18,152.39 44.4,151.17 45.46,151.47 46.52,152.39 47.74,152.99 48.95,154.21 50.01,155.73 51.08,157.24 52.29,158.46 53.81,158.46 55.33,157.55 56.84,156.48 58.36,154.97 59.58,154.21 60.64,154.97 61.7,154.21 62.61,153.45 63.22,152.99 63.83,153.45 64.44,156.94 65.19,157.55 66.71,156.94 68.23,156.48 69.75,156.03 71.27,156.03 72.79,156.48 74.3,157.24 75.82,157.55 77.34,157.24 78.86,156.48 80.38,156.03 81.89,154.97 82.96,153.45 84.17,152.39 85.39,152.39 86.45,153.45 87.51,154.97 88.73,155.73 90.24,156.03 91.76,156.03 93.28,156.03 94.8,156.48 96.01,157.24 97.08,157.55 98.14,158 99.35,156.94 100.57,156.94 101.63,157.24 103.15,157.24 103.91,157.24" fill="none" stroke="#111" stroke-width="1.05" stroke-linejoin="round"/>
<line x1="30.3" y1="97.1" x2="30.3" y2="161.8" class="axl"/>
<line x1="29.8" y1="161.3" x2="118" y2="161.3" class="axl"/>
<line x1="28.4" y1="158.4" x2="30.3" y2="158.4" class="tk"/>
<text x="27.3" y="160.4" class="tl" text-anchor="end">0</text>
<line x1="28.4" y1="145.3" x2="30.3" y2="145.3" class="tk"/>
<text x="27.3" y="147.3" class="tl" text-anchor="end">50</text>
<line x1="28.4" y1="132.2" x2="30.3" y2="132.2" class="tk"/>
<text x="27.3" y="134.2" class="tl" text-anchor="end">100</text>
<line x1="28.4" y1="119.1" x2="30.3" y2="119.1" class="tk"/>
<text x="27.3" y="121.1" class="tl" text-anchor="end">150</text>
<line x1="28.4" y1="106" x2="30.3" y2="106" class="tk"/>
<text x="27.3" y="108" class="tl" text-anchor="end">200</text>
<line x1="30.3" y1="161.3" x2="30.3" y2="163.2" class="tk"/>
<text x="30.3" y="168.9" class="tl" text-anchor="middle">0</text>
<line x1="45.32" y1="161.3" x2="45.32" y2="163.2" class="tk"/>
<text x="45.32" y="168.9" class="tl" text-anchor="middle">120</text>
<line x1="60.35" y1="161.3" x2="60.35" y2="163.2" class="tk"/>
<text x="60.35" y="168.9" class="tl" text-anchor="middle">240</text>
<line x1="75.37" y1="161.3" x2="75.37" y2="163.2" class="tk"/>
<text x="75.37" y="168.9" class="tl" text-anchor="middle">360</text>
<line x1="90.4" y1="161.3" x2="90.4" y2="163.2" class="tk"/>
<text x="90.4" y="168.9" class="tl" text-anchor="middle">480</text>
<line x1="105.42" y1="161.3" x2="105.42" y2="163.2" class="tk"/>
<text x="105.42" y="168.9" class="tl" text-anchor="middle">600</text>
<text x="32.8" y="93.7" class="ttl">IP04</text>
<polygon points="139.44,157.62 140.69,142 142.25,132.62 143.03,129.5 143.81,134.19 145.38,135.75 146.94,134.19 148.5,127.94 150.06,123.25 151.62,120.12 152.88,119.34 153.97,123.25 155.53,127.94 157.09,118.56 157.88,110.75 158.66,102.94 159.44,98.25 160.22,95.12 161,98.25 161.78,104.5 162.56,107.62 164.12,109.19 165.69,113.88 166.47,127.94 167.25,129.5 170.38,127.94 173.5,126.38 176.62,124.81 179.75,122.47 182.88,120.12 184.44,121.69 184.75,131.84 186,132.62 189.12,133.41 192.25,134.97 195.38,136.53 198.5,137.31 201.62,138.09 204.75,138.88 206.31,140.44 207.09,143.56 207.88,149.81 208.81,151.38 208.81,152.94 206.31,152.16 203.19,150.59 198.5,145.91 195.38,152.94 190.69,152.94 186,152.16 184.44,151.38 182.88,149.81 179.75,149.03 176.62,149.81 173.5,150.59 170.38,151.38 167.25,150.59 165.69,146.69 164.12,145.91 162.56,146.69 161,145.91 159.44,148.25 157.88,145.12 156.31,148.25 154.75,149.03 151.62,151.38 148.5,152.94 145.38,154.5 142.25,156.06 139.44,157.62" fill="#e4e4e4" />
<polygon points="139.1,158.1 140.49,141.19 141.89,138.23 143.28,137.71 144.68,137.62 146.07,137.6 147.46,137.6 148.86,137.6 150.25,137.6 151.65,137.6 153.04,137.6 154.43,137.6 155.83,137.6 157.22,137.6 158.62,137.6 160.01,137.6 161.4,137.6 162.8,137.6 164.19,137.6 165.59,137.6 166.98,137.6 168.37,137.6 169.77,137.6 171.16,137.6 172.56,137.6 173.95,137.6 175.34,137.6 176.74,137.6 178.13,137.6 179.53,137.6 180.92,137.6 182.31,137.6 183.71,137.6 185.1,137.6 186.5,137.6 187.89,137.6 189.28,137.6 190.68,137.6 192.07,137.6 193.47,137.6 194.86,137.6 196.25,137.6 197.65,137.6 199.04,137.6 200.44,137.6 201.83,137.6 203.22,137.6 204.62,137.6 206.01,137.6 207.41,137.6 208.8,137.6 208.8,144.8 207.41,144.8 206.01,144.8 204.62,144.8 203.22,144.8 201.83,144.8 200.44,144.8 199.04,144.8 197.65,144.8 196.25,144.8 194.86,144.8 193.47,144.8 192.07,144.8 190.68,144.8 189.28,144.8 187.89,144.8 186.5,144.8 185.1,144.8 183.71,144.8 182.31,144.8 180.92,144.8 179.53,144.8 178.13,144.8 176.74,144.8 175.34,144.8 173.95,144.8 172.56,144.8 171.16,144.8 169.77,144.8 168.37,144.8 166.98,144.8 165.59,144.8 164.19,144.8 162.8,144.8 161.4,144.8 160.01,144.8 158.62,144.8 157.22,144.8 155.83,144.8 154.43,144.8 153.04,144.8 151.65,144.8 150.25,144.8 148.86,144.8 147.46,144.8 146.07,144.8 144.68,144.81 143.28,144.87 141.89,145.21 140.49,147.13 139.1,158.1" fill="#ff0000" fill-opacity="0.25" />
<polygon points="139.1,158.1 140.49,142.1 141.89,139.29 143.28,138.8 144.68,138.72 146.07,138.7 147.46,138.7 148.86,138.7 150.25,138.7 151.65,138.7 153.04,138.7 154.43,138.7 155.83,138.7 157.22,138.7 158.62,138.7 160.01,138.7 161.4,138.7 162.8,138.7 164.19,138.7 165.59,138.7 166.98,138.7 168.37,138.7 169.77,138.7 171.16,138.7 172.56,138.7 173.95,138.7 175.34,138.7 176.74,138.7 178.13,138.7 179.53,138.7 180.92,138.7 182.31,138.7 183.71,138.7 185.1,138.7 186.5,138.7 187.89,138.7 189.28,138.7 190.68,138.7 192.07,138.7 193.47,138.7 194.86,138.7 196.25,138.7 197.65,138.7 199.04,138.7 200.44,138.7 201.83,138.7 203.22,138.7 204.62,138.7 206.01,138.7 207.41,138.7 208.8,138.7 208.8,142.6 207.41,142.6 206.01,142.6 204.62,142.6 203.22,142.6 201.83,142.6 200.44,142.6 199.04,142.6 197.65,142.6 196.25,142.6 194.86,142.6 193.47,142.6 192.07,142.6 190.68,142.6 189.28,142.6 187.89,142.6 186.5,142.6 185.1,142.6 183.71,142.6 182.31,142.6 180.92,142.6 179.53,142.6 178.13,142.6 176.74,142.6 175.34,142.6 173.95,142.6 172.56,142.6 171.16,142.6 169.77,142.6 168.37,142.6 166.98,142.6 165.59,142.6 164.19,142.6 162.8,142.6 161.4,142.6 160.01,142.6 158.62,142.6 157.22,142.6 155.83,142.6 154.43,142.6 153.04,142.6 151.65,142.6 150.25,142.6 148.86,142.6 147.46,142.6 146.07,142.6 144.68,142.61 143.28,142.68 141.89,143.08 140.49,145.31 139.1,158.1" fill="#a020f0" fill-opacity="0.3" />
<polygon points="139.1,158.1 140.49,142.82 141.89,140.73 143.28,140.45 144.68,140.41 146.07,140.4 147.46,140.4 148.86,140.4 150.25,140.4 151.65,140.4 153.04,140.4 154.43,140.4 155.83,140.4 157.22,140.4 158.62,140.4 160.01,140.4 161.4,140.4 162.8,140.4 164.19,140.4 165.59,140.4 166.98,140.4 168.37,140.4 169.77,140.4 171.16,140.4 172.56,140.4 173.95,140.4 175.34,140.4 176.74,140.4 178.13,140.4 179.53,140.4 180.92,140.4 182.31,140.4 183.71,140.4 185.1,140.4 186.5,140.4 187.89,140.4 189.28,140.4 190.68,140.4 192.07,140.4 193.47,140.4 194.86,140.4 196.25,140.4 197.65,140.4 199.04,140.4 200.44,140.4 201.83,140.4 203.22,140.4 204.62,140.4 206.01,140.4 207.41,140.4 208.8,140.4 208.8,142.3 207.41,142.3 206.01,142.3 204.62,142.3 203.22,142.3 201.83,142.3 200.44,142.3 199.04,142.3 197.65,142.3 196.25,142.3 194.86,142.3 193.47,142.3 192.07,142.3 190.68,142.3 189.28,142.3 187.89,142.3 186.5,142.3 185.1,142.3 183.71,142.3 182.31,142.3 180.92,142.3 179.53,142.3 178.13,142.3 176.74,142.3 175.34,142.3 173.95,142.3 172.56,142.3 171.16,142.3 169.77,142.3 168.37,142.3 166.98,142.3 165.59,142.3 164.19,142.3 162.8,142.3 161.4,142.3 160.01,142.3 158.62,142.3 157.22,142.3 155.83,142.3 154.43,142.3 153.04,142.3 151.65,142.3 150.25,142.3 148.86,142.3 147.46,142.3 146.07,142.3 144.68,142.31 143.28,142.34 141.89,142.59 140.49,144.46 139.1,158.1" fill="#0000ff" fill-opacity="0.3" />
<polyline points="139.1,158.1 140.49,145.73 141.89,143.56 143.28,143.18 144.68,143.11 146.07,143.1 147.46,143.1 148.86,143.1 150.25,143.1 151.65,143.1 153.04,143.1 154.43,143.1 155.83,143.1 157.22,143.1 158.62,143.1 160.01,143.1 161.4,143.1 162.8,143.1 164.19,143.1 165.59,143.1 166.98,143.1 168.37,143.1 169.77,143.1 171.16,143.1 172.56,143.1 173.95,143.1 175.34,143.1 176.74,143.1 178.13,143.1 179.53,143.1 180.92,143.1 182.31,143.1 183.71,143.1 185.1,143.1 186.5,143.1 187.89,143.1 189.28,143.1 190.68,143.1 192.07,143.1 193.47,143.1 194.86,143.1 196.25,143.1 197.65,143.1 199.04,143.1 200.44,143.1 201.83,143.1 203.22,143.1 204.62,143.1 206.01,143.1 207.41,143.1 208.8,143.1" fill="none" stroke="#ff0000" stroke-width="0.9" stroke-linejoin="round"/>
<polyline points="139.1,158.1 140.49,143.33 141.89,140.75 143.28,140.3 144.68,140.22 146.07,140.2 147.46,140.2 148.86,140.2 150.25,140.2 151.65,140.2 153.04,140.2 154.43,140.2 155.83,140.2 157.22,140.2 158.62,140.2 160.01,140.2 161.4,140.2 162.8,140.2 164.19,140.2 165.59,140.2 166.98,140.2 168.37,140.2 169.77,140.2 171.16,140.2 172.56,140.2 173.95,140.2 175.34,140.2 176.74,140.2 178.13,140.2 179.53,140.2 180.92,140.2 182.31,140.2 183.71,140.2 185.1,140.2 186.5,140.2 187.89,140.2 189.28,140.2 190.68,140.2 192.07,140.2 193.47,140.2 194.86,140.2 196.25,140.2 197.65,140.2 199.04,140.2 200.44,140.2 201.83,140.2 203.22,140.2 204.62,140.2 206.01,140.2 207.41,140.2 208.8,140.2" fill="none" stroke="#a020f0" stroke-width="0.8" stroke-linejoin="round"/>
<polyline points="139.1,158.1 140.49,143.68 141.89,141.71 143.28,141.44 144.68,141.41 146.07,141.4 147.46,141.4 148.86,141.4 150.25,141.4 151.65,141.4 153.04,141.4 154.43,141.4 155.83,141.4 157.22,141.4 158.62,141.4 160.01,141.4 161.4,141.4 162.8,141.4 164.19,141.4 165.59,141.4 166.98,141.4 168.37,141.4 169.77,141.4 171.16,141.4 172.56,141.4 173.95,141.4 175.34,141.4 176.74,141.4 178.13,141.4 179.53,141.4 180.92,141.4 182.31,141.4 183.71,141.4 185.1,141.4 186.5,141.4 187.89,141.4 189.28,141.4 190.68,141.4 192.07,141.4 193.47,141.4 194.86,141.4 196.25,141.4 197.65,141.4 199.04,141.4 200.44,141.4 201.83,141.4 203.22,141.4 204.62,141.4 206.01,141.4 207.41,141.4 208.8,141.4" fill="none" stroke="#0000ff" stroke-width="1.1" stroke-linejoin="round"/>
<rect x="138.69" y="156.09" width="1.5" height="1.5" fill="#111"/>
<rect x="140.72" y="145.16" width="1.5" height="1.5" fill="#111"/>
<rect x="142.28" y="135.31" width="1.5" height="1.5" fill="#111"/>
<rect x="144.62" y="142.81" width="1.5" height="1.5" fill="#111"/>
<rect x="145.88" y="138.44" width="1.5" height="1.5" fill="#111"/>
<rect x="147.44" y="137.81" width="1.5" height="1.5" fill="#111"/>
<rect x="149" y="135.31" width="1.5" height="1.5" fill="#111"/>
<rect x="150.25" y="132.19" width="1.5" height="1.5" fill="#111"/>
<rect x="151.5" y="128.75" width="1.5" height="1.5" fill="#111"/>
<rect x="152.44" y="130.62" width="1.5" height="1.5" fill="#111"/>
<rect x="153.69" y="133.75" width="1.5" height="1.5" fill="#111"/>
<rect x="154.78" y="135" width="1.5" height="1.5" fill="#111"/>
<rect x="155.56" y="133.12" width="1.5" height="1.5" fill="#111"/>
<rect x="156.81" y="124.38" width="1.5" height="1.5" fill="#111"/>
<rect x="158.06" y="117.03" width="1.5" height="1.5" fill="#111"/>
<rect x="159.31" y="110.78" width="1.5" height="1.5" fill="#111"/>
<rect x="160.56" y="115" width="1.5" height="1.5" fill="#111"/>
<rect x="161.81" y="118.12" width="1.5" height="1.5" fill="#111"/>
<rect x="163.06" y="116.25" width="1.5" height="1.5" fill="#111"/>
<rect x="164.31" y="124.06" width="1.5" height="1.5" fill="#111"/>
<rect x="165.88" y="136.56" width="1.5" height="1.5" fill="#111"/>
<rect x="182.12" y="129.53" width="1.5" height="1.5" fill="#111"/>
<rect x="183.38" y="129.06" width="1.5" height="1.5" fill="#111"/>
<rect x="184.47" y="136.88" width="1.5" height="1.5" fill="#111"/>
<rect x="197.75" y="141.56" width="1.5" height="1.5" fill="#111"/>
<rect x="199.62" y="142.81" width="1.5" height="1.5" fill="#111"/>
<rect x="201.66" y="145.16" width="1.5" height="1.5" fill="#111"/>
<rect x="204" y="147.19" width="1.5" height="1.5" fill="#111"/>
<rect x="205.56" y="152.19" width="1.5" height="1.5" fill="#111"/>
<rect x="207.44" y="150.94" width="1.5" height="1.5" fill="#111"/>
<line x1="136.9" y1="158.1" x2="136.9" y2="94.5" class="rax"/>
<line x1="135.4" y1="158.1" x2="136.9" y2="158.1" class="rtk"/>
<text transform="translate(132.6,158.1) rotate(-90)" class="rtl" text-anchor="middle">0</text>
<line x1="135.4" y1="142.2" x2="136.9" y2="142.2" class="rtk"/>
<text transform="translate(132.6,142.2) rotate(-90)" class="rtl" text-anchor="middle">10</text>
<line x1="135.4" y1="126.3" x2="136.9" y2="126.3" class="rtk"/>
<text transform="translate(132.6,126.3) rotate(-90)" class="rtl" text-anchor="middle">20</text>
<line x1="135.4" y1="110.4" x2="136.9" y2="110.4" class="rtk"/>
<text transform="translate(132.6,110.4) rotate(-90)" class="rtl" text-anchor="middle">30</text>
<line x1="135.4" y1="94.5" x2="136.9" y2="94.5" class="rtk"/>
<text transform="translate(132.6,94.5) rotate(-90)" class="rtl" text-anchor="middle">40</text>
<line x1="139.3" y1="160.4" x2="206.5" y2="160.4" class="rax"/>
<line x1="139.3" y1="160.4" x2="139.3" y2="161.8" class="rtk"/>
<text x="139.3" y="166.3" class="rtl" text-anchor="middle">0</text>
<line x1="150.5" y1="160.4" x2="150.5" y2="161.8" class="rtk"/>
<text x="150.5" y="166.3" class="rtl" text-anchor="middle">2</text>
<line x1="161.7" y1="160.4" x2="161.7" y2="161.8" class="rtk"/>
<text x="161.7" y="166.3" class="rtl" text-anchor="middle">4</text>
<line x1="172.9" y1="160.4" x2="172.9" y2="161.8" class="rtk"/>
<text x="172.9" y="166.3" class="rtl" text-anchor="middle">6</text>
<line x1="184.1" y1="160.4" x2="184.1" y2="161.8" class="rtk"/>
<text x="184.1" y="166.3" class="rtl" text-anchor="middle">8</text>
<line x1="195.3" y1="160.4" x2="195.3" y2="161.8" class="rtk"/>
<text x="195.3" y="166.3" class="rtl" text-anchor="middle">10</text>
<line x1="206.5" y1="160.4" x2="206.5" y2="161.8" class="rtk"/>
<text x="206.5" y="166.3" class="rtl" text-anchor="middle">12</text>
<text x="172.6" y="171.8" class="ral" text-anchor="middle">Time-lag (months)</text>
<text transform="translate(126.1,129.4) rotate(-90)" class="ral" text-anchor="middle">Semi-variance (hectares)</text>
</g>
<g>
<line x1="255.4" y1="147.95" x2="343.1" y2="147.95" class="gmin"/>
<line x1="255.4" y1="127.05" x2="343.1" y2="127.05" class="gmin"/>
<line x1="255.4" y1="106.15" x2="343.1" y2="106.15" class="gmin"/>
<line x1="262.91" y1="97.1" x2="262.91" y2="161.3" class="gmin"/>
<line x1="277.94" y1="97.1" x2="277.94" y2="161.3" class="gmin"/>
<line x1="292.96" y1="97.1" x2="292.96" y2="161.3" class="gmin"/>
<line x1="307.98" y1="97.1" x2="307.98" y2="161.3" class="gmin"/>
<line x1="323.01" y1="97.1" x2="323.01" y2="161.3" class="gmin"/>
<line x1="338.03" y1="97.1" x2="338.03" y2="161.3" class="gmin"/>
<line x1="255.4" y1="158.4" x2="343.1" y2="158.4" class="gmaj"/>
<line x1="255.4" y1="137.5" x2="343.1" y2="137.5" class="gmaj"/>
<line x1="255.4" y1="116.6" x2="343.1" y2="116.6" class="gmaj"/>
<line x1="255.4" y1="97.1" x2="255.4" y2="161.3" class="gmaj"/>
<line x1="270.42" y1="97.1" x2="270.42" y2="161.3" class="gmaj"/>
<line x1="285.45" y1="97.1" x2="285.45" y2="161.3" class="gmaj"/>
<line x1="300.47" y1="97.1" x2="300.47" y2="161.3" class="gmaj"/>
<line x1="315.5" y1="97.1" x2="315.5" y2="161.3" class="gmaj"/>
<line x1="330.52" y1="97.1" x2="330.52" y2="161.3" class="gmaj"/>
<polygon points="255.43,158 256.34,151.17 257.25,147.38 258.31,148.13 259.83,145.86 261.35,143.58 262.87,142.82 264.39,143.58 265.9,142.82 267.42,141.3 268.49,139.03 269.4,132.95 270.16,126.88 270.91,124.6 271.82,126.12 272.43,129.92 273.49,132.19 275.01,132.95 276.53,131.44 277.59,133.71 278.5,140.54 279.57,143.58 280.33,138.27 281.09,135.23 282.15,135.99 282.91,143.58 283.67,147.38 284.43,140.54 285.18,137.51 286.1,138.27 287.16,137.51 288.22,140.54 289.13,142.06 290.19,134.47 290.95,132.19 291.71,134.47 292.47,140.54 293.23,143.58 293.99,139.03 294.75,129.92 295.51,125.36 296.27,127.64 297.33,132.95 298.24,126.88 299.3,119.29 300.06,112.46 300.82,117.77 301.58,126.88 302.34,125.36 303.1,130.68 303.86,123.84 304.62,111.7 305.38,104.87 305.83,111.7 306.13,157.24 306.13,157.8 255.43,157.8" fill="#a9c5a1" fill-opacity="0.5"/>
<polyline points="255.43,158 256.8,156.48 258.31,155.73 259.83,154.97 261.35,153.45 262.87,152.69 264.39,153.45 265.9,152.39 267.42,150.41 268.64,148.89 269.7,147.38 270.91,145.4 271.98,146.62 273.04,147.83 274.25,147.38 275.77,148.89 276.99,150.41 278.05,154.21 279.11,156.48 280.02,154.97 280.78,151.47 281.84,150.87 282.91,152.39 284.12,151.93 285.18,151.17 286.4,149.65 287.61,149.65 288.68,150.87 289.74,148.89 290.65,152.69 291.71,154.97 292.78,151.93 293.69,148.13 294.75,147.38 295.81,146.62 296.72,145.86 297.48,148.89 298.24,146.62 299.3,145.86 300.37,145.1 301.28,146.62 301.88,149.65 302.8,150.41 303.4,147.38 304.16,143.58 304.92,142.82 305.68,142.37" fill="none" stroke="#111" stroke-width="1.05" stroke-linejoin="round"/>
<line x1="255.4" y1="97.1" x2="255.4" y2="161.8" class="axl"/>
<line x1="254.9" y1="161.3" x2="343.1" y2="161.3" class="axl"/>
<line x1="253.5" y1="158.4" x2="255.4" y2="158.4" class="tk"/>
<text x="252.4" y="160.4" class="tl" text-anchor="end">0</text>
<line x1="253.5" y1="137.5" x2="255.4" y2="137.5" class="tk"/>
<text x="252.4" y="139.5" class="tl" text-anchor="end">500</text>
<line x1="253.5" y1="116.6" x2="255.4" y2="116.6" class="tk"/>
<text x="252.4" y="118.6" class="tl" text-anchor="end">1000</text>
<line x1="255.4" y1="161.3" x2="255.4" y2="163.2" class="tk"/>
<text x="255.4" y="168.9" class="tl" text-anchor="middle">0</text>
<line x1="270.42" y1="161.3" x2="270.42" y2="163.2" class="tk"/>
<text x="270.42" y="168.9" class="tl" text-anchor="middle">120</text>
<line x1="285.45" y1="161.3" x2="285.45" y2="163.2" class="tk"/>
<text x="285.45" y="168.9" class="tl" text-anchor="middle">240</text>
<line x1="300.47" y1="161.3" x2="300.47" y2="163.2" class="tk"/>
<text x="300.47" y="168.9" class="tl" text-anchor="middle">360</text>
<line x1="315.5" y1="161.3" x2="315.5" y2="163.2" class="tk"/>
<text x="315.5" y="168.9" class="tl" text-anchor="middle">480</text>
<line x1="330.52" y1="161.3" x2="330.52" y2="163.2" class="tk"/>
<text x="330.52" y="168.9" class="tl" text-anchor="middle">600</text>
<text x="257.9" y="93.7" class="ttl">IP05</text>
<polygon points="364.69,156.06 366.25,149.81 367.81,145.12 369.38,142 370.94,142 372.5,140.44 374.06,138.88 375.62,137.31 377.19,134.19 378.75,131.06 380.31,129.5 381.88,130.28 383.44,129.5 385,131.06 386.56,132.62 388.12,131.06 389.69,127.94 391.25,123.25 392.81,118.56 394.38,113.88 395.94,104.5 397.19,98.25 398.28,95.91 399.38,99.81 400.31,107.62 401.41,107.62 402.5,106.06 403.75,104.5 405.31,106.06 406.88,110.75 408.44,112.31 410,117 411.25,120.12 412.34,126.38 413.91,129.5 415.47,127.94 417.03,124.81 418.59,121.69 420.16,118.56 421.72,113.88 423.28,112.31 424.06,123.25 425.62,127.94 427.19,126.38 428.75,115.44 430.31,113.88 431.88,113.09 433.44,113.09 434.69,112.31 434.69,135.75 433.44,137.31 431.88,140.44 430.31,138.88 428.75,138.88 427.19,143.56 425.62,145.12 424.06,143.56 422.5,140.44 420.94,143.56 419.38,148.25 417.81,151.38 416.25,152.94 414.69,152.16 413.12,149.81 411.88,143.56 410.78,138.88 409.22,137.31 407.66,138.88 406.09,137.31 404.53,137.31 402.97,138.88 401.41,140.44 399.84,143.56 398.28,145.12 396.72,143.56 395.16,143.56 393.59,143.56 392.03,145.12 390.47,146.69 388.91,148.25 387.34,146.69 385.78,148.25 384.22,149.81 382.66,148.25 381.09,149.81 379.53,151.38 377.97,152.94 376.41,154.5 374.84,155.28 373.28,156.06 370.94,156.84 368.59,157.31 366.25,157.62 364.69,157.62" fill="#e4e4e4" />
<rect x="364.4" y="137.3" width="70.3" height="5.5" fill="#ff0000" fill-opacity="0.25"/>
<polyline points="364.4,141 434.7,141" fill="none" stroke="#ff0000" stroke-width="0.7" stroke-linejoin="round"/>
<polyline points="364.5,157.6 364.5,139.7 434.7,139.7" fill="none" stroke="#0000ff" stroke-width="0.9" stroke-linejoin="round"/>
<rect x="363.94" y="156.56" width="1.5" height="1.5" fill="#111"/>
<rect x="365.5" y="154.06" width="1.5" height="1.5" fill="#111"/>
<rect x="367.06" y="150.31" width="1.5" height="1.5" fill="#111"/>
<rect x="368.31" y="148.75" width="1.5" height="1.5" fill="#111"/>
<rect x="369.56" y="147.19" width="1.5" height="1.5" fill="#111"/>
<rect x="370.81" y="146.25" width="1.5" height="1.5" fill="#111"/>
<rect x="372.06" y="145.94" width="1.5" height="1.5" fill="#111"/>
<rect x="373.62" y="146.72" width="1.5" height="1.5" fill="#111"/>
<rect x="374.88" y="147.19" width="1.5" height="1.5" fill="#111"/>
<rect x="376.75" y="141.56" width="1.5" height="1.5" fill="#111"/>
<rect x="378.31" y="138.12" width="1.5" height="1.5" fill="#111"/>
<rect x="379.88" y="135.94" width="1.5" height="1.5" fill="#111"/>
<rect x="381.44" y="136.25" width="1.5" height="1.5" fill="#111"/>
<rect x="383" y="135.31" width="1.5" height="1.5" fill="#111"/>
<rect x="384.25" y="138.12" width="1.5" height="1.5" fill="#111"/>
<rect x="386.59" y="141.25" width="1.5" height="1.5" fill="#111"/>
<rect x="388.31" y="137.34" width="1.5" height="1.5" fill="#111"/>
<rect x="389.88" y="131.09" width="1.5" height="1.5" fill="#111"/>
<rect x="391.28" y="126.88" width="1.5" height="1.5" fill="#111"/>
<rect x="392.84" y="125.62" width="1.5" height="1.5" fill="#111"/>
<rect x="394.88" y="120.62" width="1.5" height="1.5" fill="#111"/>
<rect x="396.28" y="113.44" width="1.5" height="1.5" fill="#111"/>
<rect x="397.84" y="109.22" width="1.5" height="1.5" fill="#111"/>
<rect x="399.56" y="117.03" width="1.5" height="1.5" fill="#111"/>
<rect x="401.12" y="120.16" width="1.5" height="1.5" fill="#111"/>
<rect x="402.69" y="118.59" width="1.5" height="1.5" fill="#111"/>
<rect x="404.25" y="115.47" width="1.5" height="1.5" fill="#111"/>
<rect x="405.81" y="118.59" width="1.5" height="1.5" fill="#111"/>
<rect x="406.91" y="119.06" width="1.5" height="1.5" fill="#111"/>
<rect x="408" y="119.69" width="1.5" height="1.5" fill="#111"/>
<rect x="409.25" y="123.28" width="1.5" height="1.5" fill="#111"/>
<rect x="410.81" y="128.75" width="1.5" height="1.5" fill="#111"/>
<rect x="413.16" y="138.12" width="1.5" height="1.5" fill="#111"/>
<rect x="417.38" y="135" width="1.5" height="1.5" fill="#111"/>
<rect x="418.94" y="124.06" width="1.5" height="1.5" fill="#111"/>
<rect x="420.5" y="123.28" width="1.5" height="1.5" fill="#111"/>
<rect x="422.06" y="121.72" width="1.5" height="1.5" fill="#111"/>
<rect x="424.09" y="131.88" width="1.5" height="1.5" fill="#111"/>
<rect x="425.66" y="135.78" width="1.5" height="1.5" fill="#111"/>
<rect x="427.22" y="128.75" width="1.5" height="1.5" fill="#111"/>
<rect x="429.09" y="124.06" width="1.5" height="1.5" fill="#111"/>
<rect x="430.34" y="122.5" width="1.5" height="1.5" fill="#111"/>
<rect x="431.91" y="121.72" width="1.5" height="1.5" fill="#111"/>
<rect x="433.47" y="121.25" width="1.5" height="1.5" fill="#111"/>
<line x1="361.4" y1="158.1" x2="361.4" y2="96.7" class="rax"/>
<line x1="359.9" y1="158.1" x2="361.4" y2="158.1" class="rtk"/>
<text transform="translate(357.1,158.1) rotate(-90)" class="rtl" text-anchor="middle">0</text>
<line x1="359.9" y1="142.75" x2="361.4" y2="142.75" class="rtk"/>
<text transform="translate(357.1,142.75) rotate(-90)" class="rtl" text-anchor="middle">1</text>
<line x1="359.9" y1="127.4" x2="361.4" y2="127.4" class="rtk"/>
<text transform="translate(357.1,127.4) rotate(-90)" class="rtl" text-anchor="middle">2</text>
<line x1="359.9" y1="112.05" x2="361.4" y2="112.05" class="rtk"/>
<text transform="translate(357.1,112.05) rotate(-90)" class="rtl" text-anchor="middle">3</text>
<line x1="359.9" y1="96.7" x2="361.4" y2="96.7" class="rtk"/>
<text transform="translate(357.1,96.7) rotate(-90)" class="rtl" text-anchor="middle">4</text>
<line x1="364.5" y1="160.4" x2="428.7" y2="160.4" class="rax"/>
<line x1="364.5" y1="160.4" x2="364.5" y2="161.8" class="rtk"/>
<text x="364.5" y="166.3" class="rtl" text-anchor="middle">0</text>
<line x1="380.55" y1="160.4" x2="380.55" y2="161.8" class="rtk"/>
<text x="380.55" y="166.3" class="rtl" text-anchor="middle">2</text>
<line x1="396.6" y1="160.4" x2="396.6" y2="161.8" class="rtk"/>
<text x="396.6" y="166.3" class="rtl" text-anchor="middle">4</text>
<line x1="412.65" y1="160.4" x2="412.65" y2="161.8" class="rtk"/>
<text x="412.65" y="166.3" class="rtl" text-anchor="middle">6</text>
<line x1="428.7" y1="160.4" x2="428.7" y2="161.8" class="rtk"/>
<text x="428.7" y="166.3" class="rtl" text-anchor="middle">8</text>
<text x="396.8" y="171.8" class="ral" text-anchor="middle">Time-lag (months)</text>
<text transform="translate(350.6,125.3) rotate(-90)" class="ral" text-anchor="middle">Semi-variance (square kilometers)</text>
</g>
<g>
<line x1="480.4" y1="151.27" x2="568.1" y2="151.27" class="gmin"/>
<line x1="480.4" y1="133.42" x2="568.1" y2="133.42" class="gmin"/>
<line x1="480.4" y1="115.57" x2="568.1" y2="115.57" class="gmin"/>
<line x1="487.91" y1="98.9" x2="487.91" y2="163.1" class="gmin"/>
<line x1="502.94" y1="98.9" x2="502.94" y2="163.1" class="gmin"/>
<line x1="517.96" y1="98.9" x2="517.96" y2="163.1" class="gmin"/>
<line x1="532.98" y1="98.9" x2="532.98" y2="163.1" class="gmin"/>
<line x1="548.01" y1="98.9" x2="548.01" y2="163.1" class="gmin"/>
<line x1="563.03" y1="98.9" x2="563.03" y2="163.1" class="gmin"/>
<line x1="480.4" y1="160.2" x2="568.1" y2="160.2" class="gmaj"/>
<line x1="480.4" y1="142.35" x2="568.1" y2="142.35" class="gmaj"/>
<line x1="480.4" y1="124.5" x2="568.1" y2="124.5" class="gmaj"/>
<line x1="480.4" y1="106.65" x2="568.1" y2="106.65" class="gmaj"/>
<line x1="480.4" y1="98.9" x2="480.4" y2="163.1" class="gmaj"/>
<line x1="495.42" y1="98.9" x2="495.42" y2="163.1" class="gmaj"/>
<line x1="510.45" y1="98.9" x2="510.45" y2="163.1" class="gmaj"/>
<line x1="525.47" y1="98.9" x2="525.47" y2="163.1" class="gmaj"/>
<line x1="540.5" y1="98.9" x2="540.5" y2="163.1" class="gmaj"/>
<line x1="555.52" y1="98.9" x2="555.52" y2="163.1" class="gmaj"/>
<polygon points="480.34,158 481.25,154.97 482.31,153.45 483.83,153.14 485.35,152.99 486.87,152.69 488.39,152.39 489.9,151.93 491.42,151.47 492.94,151.47 494.46,151.93 495.98,151.93 497.49,152.39 499.01,152.69 500.08,154.21 500.99,154.97 502.05,155.42 503.11,154.97 504.33,154.51 505.84,154.21 507.36,153.45 508.88,152.99 510.4,153.45 511.92,153.9 513.44,153.45 514.95,153.45 516.47,153.9 517.99,153.45 519.51,152.99 521.03,153.45 522.54,153.45 524.06,153.45 525.58,152.69 527.1,151.93 528.31,148.13 529.07,142.06 529.68,139.79 530.44,143.58 531.05,151.17 531.96,153.45 533.17,153.45 534.69,152.69 535.45,148.13 536.21,147.38 536.97,152.69 538.03,153.45 539.24,154.51 540.76,154.97 542.28,154.97 543.8,155.42 545.32,156.03 546.83,156.48 548.35,155.73 549.57,153.45 550.63,151.17 551.69,147.38 552.91,143.58 553.97,140.54 554.73,138.27 555.49,140.54 556.25,149.65 557.01,156.48 557.77,156.94 558.68,155.73 559.44,149.65 560.19,129.92 560.8,114.74 561.26,104.87 561.71,116.25 562.32,143.58 562.93,156.48 563.23,159.52 563.23,159.6 480.34,159.6" fill="#a9c5a1" fill-opacity="0.5"/>
<polyline points="480.34,159.52 481.25,156.94 482.31,156.48 483.83,156.64 485.35,156.48 486.87,156.18 488.39,156.03 489.9,155.73 491.42,155.73 492.94,155.42 494.46,155.42 495.98,155.42 497.49,155.42 499.01,155.73 500.08,156.48 501.29,157.24 502.81,157.55 504.33,156.94 505.84,156.64 507.36,156.03 508.88,156.48 510.4,156.48 511.92,156.94 513.44,156.48 514.95,156.48 516.47,156.48 517.99,156.48 519.51,156.03 521.03,156.48 522.54,156.48 524.06,156.03 525.58,154.97 527.1,154.51 528.31,153.45 529.38,153.45 530.44,154.97 531.35,156.48 532.41,157.24 533.47,156.94 534.69,156.48 535.9,158 536.97,157.24 538.03,156.48 539.24,156.48 540.76,157.24 542.28,157.55 543.8,157.55 545.32,157.85 546.83,158 548.35,158.46 549.57,156.48 550.63,154.97 551.69,153.45 552.91,151.93 553.97,151.17 554.73,151.47 555.49,152.69 556.25,155.73 557.01,158 557.92,158.76 558.68,158 559.44,152.69 560.19,149.65 560.8,148.13 561.41,148.89 562.02,152.69 562.78,157.24 563.23,159.07" fill="none" stroke="#111" stroke-width="1.05" stroke-linejoin="round"/>
<line x1="480.4" y1="98.9" x2="480.4" y2="163.6" class="axl"/>
<line x1="479.9" y1="163.1" x2="568.1" y2="163.1" class="axl"/>
<line x1="478.5" y1="160.2" x2="480.4" y2="160.2" class="tk"/>
<text x="477.4" y="162.2" class="tl" text-anchor="end">0</text>
<line x1="478.5" y1="142.35" x2="480.4" y2="142.35" class="tk"/>
<text x="477.4" y="144.35" class="tl" text-anchor="end">50</text>
<line x1="478.5" y1="124.5" x2="480.4" y2="124.5" class="tk"/>
<text x="477.4" y="126.5" class="tl" text-anchor="end">100</text>
<line x1="478.5" y1="106.65" x2="480.4" y2="106.65" class="tk"/>
<text x="477.4" y="108.65" class="tl" text-anchor="end">150</text>
<line x1="480.4" y1="163.1" x2="480.4" y2="165" class="tk"/>
<text x="480.4" y="170.7" class="tl" text-anchor="middle">0</text>
<line x1="495.42" y1="163.1" x2="495.42" y2="165" class="tk"/>
<text x="495.42" y="170.7" class="tl" text-anchor="middle">120</text>
<line x1="510.45" y1="163.1" x2="510.45" y2="165" class="tk"/>
<text x="510.45" y="170.7" class="tl" text-anchor="middle">240</text>
<line x1="525.47" y1="163.1" x2="525.47" y2="165" class="tk"/>
<text x="525.47" y="170.7" class="tl" text-anchor="middle">360</text>
<line x1="540.5" y1="163.1" x2="540.5" y2="165" class="tk"/>
<text x="540.5" y="170.7" class="tl" text-anchor="middle">480</text>
<line x1="555.52" y1="163.1" x2="555.52" y2="165" class="tk"/>
<text x="555.52" y="170.7" class="tl" text-anchor="middle">600</text>
<text x="482.9" y="95.5" class="ttl">IP06</text>
<polygon points="592.47,131.06 596.38,131.06 599.5,130.28 602.62,128.72 605.75,122.47 608.09,120.91 610.44,122.47 612.78,124.03 615.12,123.25 617.47,124.81 619.03,131.06 620.59,134.19 622.16,135.75 623.72,134.19 625.28,131.06 626.84,129.5 628.41,124.03 629.97,127.94 631.53,131.06 633.09,127.94 634.66,130.28 636.22,131.06 637.78,134.19 639.34,129.5 640.91,126.38 642.47,127.94 644.03,131.06 645.59,128.72 647.16,124.81 648.72,131.06 650.28,132.62 651.84,127.94 653.41,124.81 654.97,120.12 656.06,107.62 656.84,95.12 657.62,104.5 658.56,121.69 659.66,129.5 661.22,132.62 662.78,134.19 662.78,149.81 661.22,148.25 659.66,143.56 658.09,137.31 656.53,134.19 654.97,136.53 653.41,138.88 651.84,142 650.28,143.56 648.72,145.12 647.16,142 645.59,146.69 644.03,143.56 642.47,140.44 640.91,142 639.34,142 637.78,143.56 636.22,139.66 634.66,140.44 633.09,142 631.53,142 629.97,140.44 628.41,138.88 626.84,139.66 625.28,142 623.72,146.69 622.16,145.91 620.59,143.56 619.03,140.44 617.47,132.62 615.91,131.84 614.34,131.84 612.78,131.84 611.22,131.06 609.66,131.84 608.09,131.84 605.75,135.75 603.41,137.31 601.06,137.31 598.72,139.66 596.38,137.31 594.03,138.88 592.47,140.44" fill="#ebebeb" />
<rect x="591.72" y="145.16" width="1.5" height="1.5" fill="#111"/>
<rect x="594.84" y="132.66" width="1.5" height="1.5" fill="#111"/>
<rect x="597.19" y="137.81" width="1.5" height="1.5" fill="#111"/>
<rect x="599.53" y="135.31" width="1.5" height="1.5" fill="#111"/>
<rect x="601.09" y="132.19" width="1.5" height="1.5" fill="#111"/>
<rect x="602.66" y="131.56" width="1.5" height="1.5" fill="#111"/>
<rect x="604.22" y="130.31" width="1.5" height="1.5" fill="#111"/>
<rect x="605.31" y="127.97" width="1.5" height="1.5" fill="#111"/>
<rect x="606.88" y="126.88" width="1.5" height="1.5" fill="#111"/>
<rect x="608.12" y="127.19" width="1.5" height="1.5" fill="#111"/>
<rect x="609.69" y="127.97" width="1.5" height="1.5" fill="#111"/>
<rect x="611.25" y="128.75" width="1.5" height="1.5" fill="#111"/>
<rect x="612.81" y="128.44" width="1.5" height="1.5" fill="#111"/>
<rect x="614.38" y="127.97" width="1.5" height="1.5" fill="#111"/>
<rect x="615.94" y="127.5" width="1.5" height="1.5" fill="#111"/>
<rect x="617.5" y="135" width="1.5" height="1.5" fill="#111"/>
<rect x="618.59" y="138.91" width="1.5" height="1.5" fill="#111"/>
<rect x="619.84" y="140" width="1.5" height="1.5" fill="#111"/>
<rect x="620.94" y="140.94" width="1.5" height="1.5" fill="#111"/>
<rect x="622.19" y="142.5" width="1.5" height="1.5" fill="#111"/>
<rect x="623.75" y="135" width="1.5" height="1.5" fill="#111"/>
<rect x="625.31" y="137.81" width="1.5" height="1.5" fill="#111"/>
<rect x="627.19" y="131.88" width="1.5" height="1.5" fill="#111"/>
<rect x="628.12" y="128.75" width="1.5" height="1.5" fill="#111"/>
<rect x="629.69" y="132.19" width="1.5" height="1.5" fill="#111"/>
<rect x="631.25" y="136.56" width="1.5" height="1.5" fill="#111"/>
<rect x="632.81" y="131.09" width="1.5" height="1.5" fill="#111"/>
<rect x="633.91" y="130.31" width="1.5" height="1.5" fill="#111"/>
<rect x="635" y="134.69" width="1.5" height="1.5" fill="#111"/>
<rect x="636.25" y="133.44" width="1.5" height="1.5" fill="#111"/>
<rect x="637.81" y="139.69" width="1.5" height="1.5" fill="#111"/>
<rect x="639.38" y="132.19" width="1.5" height="1.5" fill="#111"/>
<rect x="640.62" y="135.78" width="1.5" height="1.5" fill="#111"/>
<rect x="641.72" y="128.75" width="1.5" height="1.5" fill="#111"/>
<rect x="642.81" y="129.53" width="1.5" height="1.5" fill="#111"/>
<rect x="644.06" y="141.56" width="1.5" height="1.5" fill="#111"/>
<rect x="645.31" y="137.34" width="1.5" height="1.5" fill="#111"/>
<rect x="646.41" y="129.06" width="1.5" height="1.5" fill="#111"/>
<rect x="647.97" y="132.19" width="1.5" height="1.5" fill="#111"/>
<rect x="649.06" y="138.12" width="1.5" height="1.5" fill="#111"/>
<rect x="650.31" y="138.91" width="1.5" height="1.5" fill="#111"/>
<rect x="651.56" y="128.75" width="1.5" height="1.5" fill="#111"/>
<rect x="653.12" y="126.88" width="1.5" height="1.5" fill="#111"/>
<rect x="654.22" y="133.12" width="1.5" height="1.5" fill="#111"/>
<rect x="655" y="124.84" width="1.5" height="1.5" fill="#111"/>
<rect x="656.09" y="110" width="1.5" height="1.5" fill="#111"/>
<rect x="657.34" y="119.69" width="1.5" height="1.5" fill="#111"/>
<rect x="658.44" y="128.75" width="1.5" height="1.5" fill="#111"/>
<rect x="659.38" y="137.34" width="1.5" height="1.5" fill="#111"/>
<rect x="660.47" y="138.12" width="1.5" height="1.5" fill="#111"/>
<rect x="661.25" y="137.81" width="1.5" height="1.5" fill="#111"/>
<rect x="662.03" y="142.03" width="1.5" height="1.5" fill="#111"/>
<rect x="592.5" y="131.3" width="70.3" height="4.5" fill="#b03cbe" fill-opacity="0.52"/>
<polyline points="592.6,157.6 592.6,133.1" fill="none" stroke="#f03040" stroke-width="0.8" stroke-linejoin="round"/>
<polyline points="592.6,133.1 662.8,133.1" fill="none" stroke="#c8145a" stroke-width="0.95" stroke-linejoin="round"/>
<line x1="588.4" y1="157.6" x2="588.4" y2="94.1" class="rax"/>
<line x1="586.9" y1="157.6" x2="588.4" y2="157.6" class="rtk"/>
<text transform="translate(584.1,157.6) rotate(-90)" class="rtl" text-anchor="middle">0</text>
<line x1="586.9" y1="147.02" x2="588.4" y2="147.02" class="rtk"/>
<text transform="translate(584.1,147.02) rotate(-90)" class="rtl" text-anchor="middle">5</text>
<line x1="586.9" y1="136.43" x2="588.4" y2="136.43" class="rtk"/>
<text transform="translate(584.1,136.43) rotate(-90)" class="rtl" text-anchor="middle">10</text>
<line x1="586.9" y1="125.85" x2="588.4" y2="125.85" class="rtk"/>
<text transform="translate(584.1,125.85) rotate(-90)" class="rtl" text-anchor="middle">15</text>
<line x1="586.9" y1="115.27" x2="588.4" y2="115.27" class="rtk"/>
<text transform="translate(584.1,115.27) rotate(-90)" class="rtl" text-anchor="middle">20</text>
<line x1="586.9" y1="104.68" x2="588.4" y2="104.68" class="rtk"/>
<text transform="translate(584.1,104.68) rotate(-90)" class="rtl" text-anchor="middle">25</text>
<line x1="586.9" y1="94.1" x2="588.4" y2="94.1" class="rtk"/>
<text transform="translate(584.1,94.1) rotate(-90)" class="rtl" text-anchor="middle">30</text>
<line x1="592.5" y1="160.4" x2="664" y2="160.4" class="rax"/>
<line x1="592.5" y1="160.4" x2="592.5" y2="161.8" class="rtk"/>
<text x="592.5" y="166.3" class="rtl" text-anchor="middle">0</text>
<line x1="616.33" y1="160.4" x2="616.33" y2="161.8" class="rtk"/>
<text x="616.33" y="166.3" class="rtl" text-anchor="middle">5</text>
<line x1="640.17" y1="160.4" x2="640.17" y2="161.8" class="rtk"/>
<text x="640.17" y="166.3" class="rtl" text-anchor="middle">10</text>
<line x1="664" y1="160.4" x2="664" y2="161.8" class="rtk"/>
<text x="664" y="166.3" class="rtl" text-anchor="middle">15</text>
<text x="625.6" y="171.8" class="ral" text-anchor="middle">Time-lag (months)</text>
<text transform="translate(577.6,129.2) rotate(-90)" class="ral" text-anchor="middle">Semi-variance (hectares)</text>
</g>
<g>
<line x1="30.3" y1="241.31" x2="118" y2="241.31" class="gmin"/>
<line x1="30.3" y1="229.33" x2="118" y2="229.33" class="gmin"/>
<line x1="30.3" y1="217.35" x2="118" y2="217.35" class="gmin"/>
<line x1="30.3" y1="205.37" x2="118" y2="205.37" class="gmin"/>
<line x1="30.3" y1="193.39" x2="118" y2="193.39" class="gmin"/>
<line x1="37.81" y1="186" x2="37.81" y2="250.2" class="gmin"/>
<line x1="52.84" y1="186" x2="52.84" y2="250.2" class="gmin"/>
<line x1="67.86" y1="186" x2="67.86" y2="250.2" class="gmin"/>
<line x1="82.88" y1="186" x2="82.88" y2="250.2" class="gmin"/>
<line x1="97.91" y1="186" x2="97.91" y2="250.2" class="gmin"/>
<line x1="112.93" y1="186" x2="112.93" y2="250.2" class="gmin"/>
<line x1="30.3" y1="247.3" x2="118" y2="247.3" class="gmaj"/>
<line x1="30.3" y1="235.32" x2="118" y2="235.32" class="gmaj"/>
<line x1="30.3" y1="223.34" x2="118" y2="223.34" class="gmaj"/>
<line x1="30.3" y1="211.36" x2="118" y2="211.36" class="gmaj"/>
<line x1="30.3" y1="199.38" x2="118" y2="199.38" class="gmaj"/>
<line x1="30.3" y1="187.4" x2="118" y2="187.4" class="gmaj"/>
<line x1="30.3" y1="186" x2="30.3" y2="250.2" class="gmaj"/>
<line x1="45.32" y1="186" x2="45.32" y2="250.2" class="gmaj"/>
<line x1="60.35" y1="186" x2="60.35" y2="250.2" class="gmaj"/>
<line x1="75.37" y1="186" x2="75.37" y2="250.2" class="gmaj"/>
<line x1="90.4" y1="186" x2="90.4" y2="250.2" class="gmaj"/>
<line x1="105.42" y1="186" x2="105.42" y2="250.2" class="gmaj"/>
<polygon points="30.13,247 32.55,246.7 35.59,245.94 37.87,244.73 39.39,242.45 40.9,239.41 42.42,236.38 43.94,234.1 45.46,232.88 46.98,231.82 48.49,230.3 50.01,228.79 51.53,227.27 53.05,226.2 54.57,226.51 56.09,226.81 57.6,225.29 59.12,223.78 60.64,221.19 62.16,218.92 63.68,216.64 65.19,214.36 66.71,212.09 68.23,209.81 69.75,206.77 71.27,203.74 72.79,200.4 74.3,196.9 75.82,192.35 76.58,189.31 76.88,193.11 76.88,246.24 65.95,246.4 50.77,246.55 40.15,246.85 30.13,247" fill="#a5afcd" fill-opacity="0.5"/>
<polyline points="30.13,247 32.55,246.7 34.83,246.24 37.11,245.94 39.39,245.48 41.66,244.73 43.94,243.97 46.22,243.21 48.49,242.45 50.77,241.39 53.05,240.47 55.33,239.87 57.6,238.96 59.88,237.89 62.16,236.38 64.44,235.31 66.71,234.1 68.99,233.34 71.27,232.28 73.24,231.37 75.06,231.06 76.88,231.37" fill="none" stroke="#111" stroke-width="1.05" stroke-linejoin="round"/>
<line x1="30.3" y1="186" x2="30.3" y2="250.7" class="axl"/>
<line x1="29.8" y1="250.2" x2="118" y2="250.2" class="axl"/>
<line x1="28.4" y1="247.3" x2="30.3" y2="247.3" class="tk"/>
<text x="27.3" y="249.3" class="tl" text-anchor="end">0</text>
<line x1="28.4" y1="235.32" x2="30.3" y2="235.32" class="tk"/>
<text x="27.3" y="237.32" class="tl" text-anchor="end">100</text>
<line x1="28.4" y1="223.34" x2="30.3" y2="223.34" class="tk"/>
<text x="27.3" y="225.34" class="tl" text-anchor="end">200</text>
<line x1="28.4" y1="211.36" x2="30.3" y2="211.36" class="tk"/>
<text x="27.3" y="213.36" class="tl" text-anchor="end">300</text>
<line x1="28.4" y1="199.38" x2="30.3" y2="199.38" class="tk"/>
<text x="27.3" y="201.38" class="tl" text-anchor="end">400</text>
<line x1="28.4" y1="187.4" x2="30.3" y2="187.4" class="tk"/>
<text x="27.3" y="189.4" class="tl" text-anchor="end">500</text>
<line x1="30.3" y1="250.2" x2="30.3" y2="252.1" class="tk"/>
<text x="30.3" y="257.8" class="tl" text-anchor="middle">0</text>
<line x1="45.32" y1="250.2" x2="45.32" y2="252.1" class="tk"/>
<text x="45.32" y="257.8" class="tl" text-anchor="middle">120</text>
<line x1="60.35" y1="250.2" x2="60.35" y2="252.1" class="tk"/>
<text x="60.35" y="257.8" class="tl" text-anchor="middle">240</text>
<line x1="75.37" y1="250.2" x2="75.37" y2="252.1" class="tk"/>
<text x="75.37" y="257.8" class="tl" text-anchor="middle">360</text>
<line x1="90.4" y1="250.2" x2="90.4" y2="252.1" class="tk"/>
<text x="90.4" y="257.8" class="tl" text-anchor="middle">480</text>
<line x1="105.42" y1="250.2" x2="105.42" y2="252.1" class="tk"/>
<text x="105.42" y="257.8" class="tl" text-anchor="middle">600</text>
<text x="32.8" y="182.6" class="ttl">IP07</text>
<rect x="139.4" y="203.1" width="70.3" height="16" fill="#ff0000" fill-opacity="0.15"/>
<polygon points="145,245.3 160,238 170,232 180,222 190,210 200,198 205,190 209.7,183 209.7,245.3" fill="#e4e4e4" />
<polygon points="139.38,245.31 150.62,230 158.44,220.62 166.25,211.25 174.06,205 181.88,200.31 189.69,197.97 197.5,196.41 209.69,194.84 209.69,215.94 197.5,216.72 189.69,217.5 181.88,219.06 174.06,222.19 166.25,226.88 158.44,232.34 150.62,237.81" fill="#a020f0" fill-opacity="0.2" />
<polygon points="139.4,245.3 150,239 170,232 190,226 209.7,220 209.7,245.3" fill="#0000ff" fill-opacity="0.13" />
<polygon points="139.4,245.3 160,236 180,231 209.7,224 209.7,233 180,239 160,242" fill="#ff0000" fill-opacity="0.2" />
<polyline points="139.4,245.3 145,241 150,236 155,231 160,226.5 165,222 170,218.5 175,215.5 180,213 185,211 190,209.5 195,208.5 200,207.8 205,207.3 209.7,207" fill="none" stroke="#a020f0" stroke-width="0.6" stroke-linejoin="round"/>
<polyline points="145,242.1 150,237.1 155,232.1 160,227.6 165,223.1 170,219.6 175,216.6 180,214.1 185,212.1 190,210.6 195,209.6 200,208.9 205,208.4 209.7,208.1" fill="none" stroke="#a020f0" stroke-width="0.6" stroke-linejoin="round"/>
<polyline points="139.4,244.4 150,240.6 160,237.6 170,234.6 180,232.1 190,229.6 200,227.6 209.7,225.6" fill="none" stroke="#0000ff" stroke-width="0.5" stroke-linejoin="round"/>
<polyline points="139.4,245.3 150,241.5 160,238.5 170,235.5 180,233 190,230.5 200,228.5 209.7,226.5" fill="none" stroke="#0000ff" stroke-width="0.5" stroke-linejoin="round"/>
<polyline points="139.4,246.2 150,242.4 160,239.4 170,236.4 180,233.9 190,231.4 200,229.4 209.7,227.4" fill="none" stroke="#0000ff" stroke-width="0.5" stroke-linejoin="round"/>
<polyline points="139.4,245.3 150,242 160,239.5 170,237 180,235 190,232.5 200,230 209.7,228" fill="none" stroke="#ff0000" stroke-width="0.9" stroke-linejoin="round"/>
<polyline points="139.4,245.6 139.4,210 209.7,210" fill="none" stroke="#ff0000" stroke-width="0.8" stroke-linejoin="round"/>
<rect x="145.95" y="244.05" width="1.5" height="1.5" fill="#111"/>
<rect x="153.75" y="242.25" width="1.5" height="1.5" fill="#111"/>
<rect x="161.55" y="239.05" width="1.5" height="1.5" fill="#111"/>
<rect x="177.25" y="228.15" width="1.5" height="1.5" fill="#111"/>
<rect x="185.05" y="223.45" width="1.5" height="1.5" fill="#111"/>
<rect x="192.85" y="214.05" width="1.5" height="1.5" fill="#111"/>
<rect x="200.65" y="207.85" width="1.5" height="1.5" fill="#111"/>
<rect x="208.45" y="198.75" width="1.5" height="1.5" fill="#111"/>
<line x1="136.3" y1="246.3" x2="136.3" y2="192.3" class="rax"/>
<line x1="134.8" y1="246.3" x2="136.3" y2="246.3" class="rtk"/>
<text transform="translate(132,246.3) rotate(-90)" class="rtl" text-anchor="middle">0</text>
<line x1="134.8" y1="232.8" x2="136.3" y2="232.8" class="rtk"/>
<text transform="translate(132,232.8) rotate(-90)" class="rtl" text-anchor="middle">20</text>
<line x1="134.8" y1="219.3" x2="136.3" y2="219.3" class="rtk"/>
<text transform="translate(132,219.3) rotate(-90)" class="rtl" text-anchor="middle">40</text>
<line x1="134.8" y1="205.8" x2="136.3" y2="205.8" class="rtk"/>
<text transform="translate(132,205.8) rotate(-90)" class="rtl" text-anchor="middle">60</text>
<line x1="134.8" y1="192.3" x2="136.3" y2="192.3" class="rtk"/>
<text transform="translate(132,192.3) rotate(-90)" class="rtl" text-anchor="middle">80</text>
<line x1="139.1" y1="248.7" x2="208.8" y2="248.7" class="rax"/>
<line x1="139.1" y1="248.7" x2="139.1" y2="250.1" class="rtk"/>
<text x="139.1" y="254.6" class="rtl" text-anchor="middle">0</text>
<line x1="156.53" y1="248.7" x2="156.53" y2="250.1" class="rtk"/>
<text x="156.53" y="254.6" class="rtl" text-anchor="middle">2</text>
<line x1="173.95" y1="248.7" x2="173.95" y2="250.1" class="rtk"/>
<text x="173.95" y="254.6" class="rtl" text-anchor="middle">4</text>
<line x1="191.38" y1="248.7" x2="191.38" y2="250.1" class="rtk"/>
<text x="191.38" y="254.6" class="rtl" text-anchor="middle">6</text>
<line x1="208.8" y1="248.7" x2="208.8" y2="250.1" class="rtk"/>
<text x="208.8" y="254.6" class="rtl" text-anchor="middle">8</text>
<text x="172.5" y="260.1" class="ral" text-anchor="middle">Time-lag (months)</text>
<text transform="translate(125.5,218.2) rotate(-90)" class="ral" text-anchor="middle">Semi-variance (hectares)</text>
</g>
<g>
<line x1="255.4" y1="240.05" x2="343.1" y2="240.05" class="gmin"/>
<line x1="255.4" y1="225.55" x2="343.1" y2="225.55" class="gmin"/>
<line x1="255.4" y1="211.05" x2="343.1" y2="211.05" class="gmin"/>
<line x1="255.4" y1="196.55" x2="343.1" y2="196.55" class="gmin"/>
<line x1="262.91" y1="186" x2="262.91" y2="250.2" class="gmin"/>
<line x1="277.94" y1="186" x2="277.94" y2="250.2" class="gmin"/>
<line x1="292.96" y1="186" x2="292.96" y2="250.2" class="gmin"/>
<line x1="307.98" y1="186" x2="307.98" y2="250.2" class="gmin"/>
<line x1="323.01" y1="186" x2="323.01" y2="250.2" class="gmin"/>
<line x1="338.03" y1="186" x2="338.03" y2="250.2" class="gmin"/>
<line x1="255.4" y1="247.3" x2="343.1" y2="247.3" class="gmaj"/>
<line x1="255.4" y1="232.8" x2="343.1" y2="232.8" class="gmaj"/>
<line x1="255.4" y1="218.3" x2="343.1" y2="218.3" class="gmaj"/>
<line x1="255.4" y1="203.8" x2="343.1" y2="203.8" class="gmaj"/>
<line x1="255.4" y1="189.3" x2="343.1" y2="189.3" class="gmaj"/>
<line x1="255.4" y1="186" x2="255.4" y2="250.2" class="gmaj"/>
<line x1="270.42" y1="186" x2="270.42" y2="250.2" class="gmaj"/>
<line x1="285.45" y1="186" x2="285.45" y2="250.2" class="gmaj"/>
<line x1="300.47" y1="186" x2="300.47" y2="250.2" class="gmaj"/>
<line x1="315.5" y1="186" x2="315.5" y2="250.2" class="gmaj"/>
<line x1="330.52" y1="186" x2="330.52" y2="250.2" class="gmaj"/>
<polygon points="255.13,246.7 260.59,246.55 261.2,237.13 261.65,202.22 262.11,193.11 262.56,214.36 263.02,228.03 263.63,227.27 264.39,232.58 264.84,244.73 265.9,246.24 266.97,244.73 267.42,237.13 267.88,243.21 268.49,246.24 269.4,245.48 270,242.45 270.61,246.24 271.52,246.55 273.49,246.55 274.56,245.48 275.16,234.1 275.77,229.54 276.53,228.79 277.29,229.54 278.05,228.03 278.81,227.27 279.57,228.03 280.33,237.13 281.09,241.69 281.84,234.1 282.6,236.38 283.36,241.69 284.12,243.97 284.88,235.62 285.64,238.65 286.4,236.38 287.16,234.86 287.92,237.89 288.68,242.45 289.44,245.48 290.65,246.24 291.71,241.69 292.17,238.65 292.78,240.17 293.69,239.41 294.75,237.13 295.81,234.1 297.03,232.58 297.94,229.54 298.54,228.03 299.46,228.79 300.37,230.3 301.28,232.58 301.88,243.97 303.1,246.24 305.38,246.24 306.44,241.69 307.35,232.58 307.96,228.03 308.87,226.51 309.93,228.03 310.99,229.54 312.21,232.58 313.42,235.62 314.48,238.65 315.55,241.69 316.46,243.97 317.07,243.21 317.98,229.54 318.58,224.99 319.8,224.23 321.32,224.23 322.53,224.23 323.14,229.54 324.05,235.62 325.11,239.41 325.87,240.93 326.63,243.97 327.39,240.17 328.6,236.38 329.67,234.1 330.73,232.88 331.64,234.1 332.7,236.38 333.77,237.89 334.98,237.89 335.74,237.89 335.89,246.55 335.89,246.7 255.13,246.7" fill="#a9c5a1" fill-opacity="0.5"/>
<polyline points="255.13,246.7 260.59,246.55 261.35,241.69 262.11,240.93 262.87,242.45 263.63,243.97 264.84,245.48 265.9,246.24 267.42,245.94 268.94,246.24 270.46,245.94 271.98,246.55 273.49,246.24 275.01,245.48 276.53,245.18 278.05,245.18 279.57,245.18 281.09,245.48 282.6,245.48 284.12,245.94 285.64,245.48 287.16,245.94 288.68,246.24 290.19,246.24 291.71,245.94 293.23,245.48 294.75,245.48 296.27,245.18 297.79,245.03 299.3,244.73 300.82,245.18 302.34,245.94 303.86,246.24 305.38,245.94 306.89,245.18 308.41,244.42 309.93,244.42 311.45,244.73 312.97,245.18 314.48,245.48 316,245.94 317.52,245.03 319.04,244.42 320.56,244.42 322.08,244.42 323.59,244.73 325.11,244.73 326.63,245.18 328.15,245.03 329.67,244.73 331.18,244.42 332.7,244.42 334.22,244.42 335.74,244.42" fill="none" stroke="#111" stroke-width="1.05" stroke-linejoin="round"/>
<line x1="255.4" y1="186" x2="255.4" y2="250.7" class="axl"/>
<line x1="254.9" y1="250.2" x2="343.1" y2="250.2" class="axl"/>
<line x1="253.5" y1="247.3" x2="255.4" y2="247.3" class="tk"/>
<text x="252.4" y="249.3" class="tl" text-anchor="end">0</text>
<line x1="253.5" y1="232.8" x2="255.4" y2="232.8" class="tk"/>
<text x="252.4" y="234.8" class="tl" text-anchor="end">1000</text>
<line x1="253.5" y1="218.3" x2="255.4" y2="218.3" class="tk"/>
<text x="252.4" y="220.3" class="tl" text-anchor="end">2000</text>
<line x1="253.5" y1="203.8" x2="255.4" y2="203.8" class="tk"/>
<text x="252.4" y="205.8" class="tl" text-anchor="end">3000</text>
<line x1="253.5" y1="189.3" x2="255.4" y2="189.3" class="tk"/>
<text x="252.4" y="191.3" class="tl" text-anchor="end">4000</text>
<line x1="255.4" y1="250.2" x2="255.4" y2="252.1" class="tk"/>
<text x="255.4" y="257.8" class="tl" text-anchor="middle">0</text>
<line x1="270.42" y1="250.2" x2="270.42" y2="252.1" class="tk"/>
<text x="270.42" y="257.8" class="tl" text-anchor="middle">120</text>
<line x1="285.45" y1="250.2" x2="285.45" y2="252.1" class="tk"/>
<text x="285.45" y="257.8" class="tl" text-anchor="middle">240</text>
<line x1="300.47" y1="250.2" x2="300.47" y2="252.1" class="tk"/>
<text x="300.47" y="257.8" class="tl" text-anchor="middle">360</text>
<line x1="315.5" y1="250.2" x2="315.5" y2="252.1" class="tk"/>
<text x="315.5" y="257.8" class="tl" text-anchor="middle">480</text>
<line x1="330.52" y1="250.2" x2="330.52" y2="252.1" class="tk"/>
<text x="330.52" y="257.8" class="tl" text-anchor="middle">600</text>
<text x="257.9" y="182.6" class="ttl">IP08</text>
<polygon points="364.69,245.62 374.84,183.12 418.59,225.31 418.59,244.06 369.38,246.41" fill="#e4e4e4" />
<polygon points="364.4,246.4 365.49,231.99 366.58,229.65 367.68,229.27 368.77,229.21 369.86,229.2 370.95,229.2 372.04,229.2 373.14,229.2 374.23,229.2 375.32,229.2 376.41,229.2 377.5,229.2 378.6,229.2 379.69,229.2 380.78,229.2 381.87,229.2 382.96,229.2 384.06,229.2 385.15,229.2 386.24,229.2 387.33,229.2 388.42,229.2 389.52,229.2 390.61,229.2 391.7,229.2 392.79,229.2 393.88,229.2 394.98,229.2 396.07,229.2 397.16,229.2 398.25,229.2 399.34,229.2 400.44,229.2 401.53,229.2 402.62,229.2 403.71,229.2 404.8,229.2 405.9,229.2 406.99,229.2 408.08,229.2 409.17,229.2 410.26,229.2 411.36,229.2 412.45,229.2 413.54,229.2 414.63,229.2 415.72,229.2 416.82,229.2 417.91,229.2 419,229.2 419,231.8 417.91,231.8 416.82,231.8 415.72,231.8 414.63,231.8 413.54,231.8 412.45,231.8 411.36,231.8 410.26,231.8 409.17,231.8 408.08,231.8 406.99,231.8 405.9,231.8 404.8,231.8 403.71,231.8 402.62,231.8 401.53,231.8 400.44,231.8 399.34,231.8 398.25,231.8 397.16,231.8 396.07,231.8 394.98,231.8 393.88,231.8 392.79,231.8 391.7,231.8 390.61,231.8 389.52,231.8 388.42,231.8 387.33,231.8 386.24,231.8 385.15,231.8 384.06,231.8 382.96,231.8 381.87,231.8 380.78,231.8 379.69,231.8 378.6,231.8 377.5,231.8 376.41,231.8 375.32,231.8 374.23,231.8 373.14,231.8 372.04,231.8 370.95,231.8 369.86,231.8 368.77,231.81 367.68,231.86 366.58,232.18 365.49,234.17 364.4,246.4" fill="#ff0000" fill-opacity="0.3" />
<polygon points="364.4,246.4 365.49,238.78 366.58,234.93 367.68,232.99 368.77,232 369.86,231.51 370.95,231.26 372.04,231.13 373.14,231.07 374.23,231.03 375.32,231.02 376.41,231.01 377.5,231 378.6,231 379.69,231 380.78,231 381.87,231 382.96,231 384.06,231 385.15,231 386.24,231 387.33,231 388.42,231 389.52,231 390.61,231 391.7,231 392.79,231 393.88,231 394.98,231 396.07,231 397.16,231 398.25,231 399.34,231 400.44,231 401.53,231 402.62,231 403.71,231 404.8,231 405.9,231 406.99,231 408.08,231 409.17,231 410.26,231 411.36,231 412.45,231 413.54,231 414.63,231 415.72,231 416.82,231 417.91,231 419,231 419,236.5 417.91,236.5 416.82,236.5 415.72,236.5 414.63,236.5 413.54,236.5 412.45,236.5 411.36,236.5 410.26,236.5 409.17,236.5 408.08,236.5 406.99,236.5 405.9,236.5 404.8,236.5 403.71,236.5 402.62,236.5 401.53,236.5 400.44,236.5 399.34,236.5 398.25,236.5 397.16,236.5 396.07,236.5 394.98,236.5 393.88,236.5 392.79,236.5 391.7,236.5 390.61,236.5 389.52,236.5 388.42,236.5 387.33,236.5 386.24,236.5 385.15,236.5 384.06,236.5 382.96,236.5 381.87,236.5 380.78,236.5 379.69,236.5 378.6,236.5 377.5,236.5 376.41,236.51 375.32,236.51 374.23,236.52 373.14,236.54 372.04,236.58 370.95,236.66 369.86,236.83 368.77,237.15 367.68,237.78 366.58,239.03 365.49,241.5 364.4,246.4" fill="#a020f0" fill-opacity="0.25" />
<polygon points="364.4,246.4 365.49,235.84 366.58,232.29 367.68,231.1 368.77,230.7 369.86,230.57 370.95,230.52 372.04,230.51 373.14,230.5 374.23,230.5 375.32,230.5 376.41,230.5 377.5,230.5 378.6,230.5 379.69,230.5 380.78,230.5 381.87,230.5 382.96,230.5 384.06,230.5 385.15,230.5 386.24,230.5 387.33,230.5 388.42,230.5 389.52,230.5 390.61,230.5 391.7,230.5 392.79,230.5 393.88,230.5 394.98,230.5 396.07,230.5 397.16,230.5 398.25,230.5 399.34,230.5 400.44,230.5 401.53,230.5 402.62,230.5 403.71,230.5 404.8,230.5 405.9,230.5 406.99,230.5 408.08,230.5 409.17,230.5 410.26,230.5 411.36,230.5 412.45,230.5 413.54,230.5 414.63,230.5 415.72,230.5 416.82,230.5 417.91,230.5 419,230.5 419,234 417.91,234 416.82,234 415.72,234 414.63,234 413.54,234 412.45,234 411.36,234 410.26,234 409.17,234 408.08,234 406.99,234 405.9,234 404.8,234 403.71,234 402.62,234 401.53,234 400.44,234 399.34,234 398.25,234 397.16,234 396.07,234 394.98,234 393.88,234 392.79,234 391.7,234 390.61,234 389.52,234 388.42,234 387.33,234 386.24,234 385.15,234 384.06,234 382.96,234 381.87,234 380.78,234 379.69,234 378.6,234 377.5,234 376.41,234 375.32,234 374.23,234 373.14,234 372.04,234.01 370.95,234.02 369.86,234.05 368.77,234.16 367.68,234.47 366.58,235.4 365.49,238.16 364.4,246.4" fill="#0000ff" fill-opacity="0.25" />
<polyline points="364.4,246.4 365.49,231.85 366.58,230.21 367.68,230.02 368.77,230 369.86,230 370.95,230 372.04,230 373.14,230 374.23,230 375.32,230 376.41,230 377.5,230 378.6,230 379.69,230 380.78,230 381.87,230 382.96,230 384.06,230 385.15,230 386.24,230 387.33,230 388.42,230 389.52,230 390.61,230 391.7,230 392.79,230 393.88,230 394.98,230 396.07,230 397.16,230 398.25,230 399.34,230 400.44,230 401.53,230 402.62,230 403.71,230 404.8,230 405.9,230 406.99,230 408.08,230 409.17,230 410.26,230 411.36,230 412.45,230 413.54,230 414.63,230 415.72,230 416.82,230 417.91,230 419,230" fill="none" stroke="#ff0000" stroke-width="0.7" stroke-linejoin="round"/>
<polyline points="364.4,246.4 365.49,240.44 366.58,237.19 367.68,235.42 368.77,234.46 369.86,233.93 370.95,233.64 372.04,233.49 373.14,233.4 374.23,233.36 375.32,233.33 376.41,233.32 377.5,233.31 378.6,233.3 379.69,233.3 380.78,233.3 381.87,233.3 382.96,233.3 384.06,233.3 385.15,233.3 386.24,233.3 387.33,233.3 388.42,233.3 389.52,233.3 390.61,233.3 391.7,233.3 392.79,233.3 393.88,233.3 394.98,233.3 396.07,233.3 397.16,233.3 398.25,233.3 399.34,233.3 400.44,233.3 401.53,233.3 402.62,233.3 403.71,233.3 404.8,233.3 405.9,233.3 406.99,233.3 408.08,233.3 409.17,233.3 410.26,233.3 411.36,233.3 412.45,233.3 413.54,233.3 414.63,233.3 415.72,233.3 416.82,233.3 417.91,233.3 419,233.3" fill="none" stroke="#a020f0" stroke-width="0.8" stroke-linejoin="round"/>
<polyline points="364.4,246.4 365.49,237.21 366.58,233.8 367.68,232.54 368.77,232.08 369.86,231.9 370.95,231.84 372.04,231.81 373.14,231.81 374.23,231.8 375.32,231.8 376.41,231.8 377.5,231.8 378.6,231.8 379.69,231.8 380.78,231.8 381.87,231.8 382.96,231.8 384.06,231.8 385.15,231.8 386.24,231.8 387.33,231.8 388.42,231.8 389.52,231.8 390.61,231.8 391.7,231.8 392.79,231.8 393.88,231.8 394.98,231.8 396.07,231.8 397.16,231.8 398.25,231.8 399.34,231.8 400.44,231.8 401.53,231.8 402.62,231.8 403.71,231.8 404.8,231.8 405.9,231.8 406.99,231.8 408.08,231.8 409.17,231.8 410.26,231.8 411.36,231.8 412.45,231.8 413.54,231.8 414.63,231.8 415.72,231.8 416.82,231.8 417.91,231.8 419,231.8" fill="none" stroke="#0000ff" stroke-width="1.0" stroke-linejoin="round"/>
<rect x="374.56" y="199.09" width="1.5" height="1.5" fill="#111"/>
<rect x="417.38" y="226.91" width="1.5" height="1.5" fill="#111"/>
<rect x="418.31" y="225.5" width="1.5" height="1.5" fill="#111"/>
<line x1="361.3" y1="246.3" x2="361.3" y2="186.7" class="rax"/>
<line x1="359.8" y1="246.3" x2="361.3" y2="246.3" class="rtk"/>
<text transform="translate(357,246.3) rotate(-90)" class="rtl" text-anchor="middle">0.0</text>
<line x1="359.8" y1="236.37" x2="361.3" y2="236.37" class="rtk"/>
<text transform="translate(357,236.37) rotate(-90)" class="rtl" text-anchor="middle">0.5</text>
<line x1="359.8" y1="226.43" x2="361.3" y2="226.43" class="rtk"/>
<text transform="translate(357,226.43) rotate(-90)" class="rtl" text-anchor="middle">1.0</text>
<line x1="359.8" y1="216.5" x2="361.3" y2="216.5" class="rtk"/>
<text transform="translate(357,216.5) rotate(-90)" class="rtl" text-anchor="middle">1.5</text>
<line x1="359.8" y1="206.57" x2="361.3" y2="206.57" class="rtk"/>
<text transform="translate(357,206.57) rotate(-90)" class="rtl" text-anchor="middle">2.0</text>
<line x1="359.8" y1="196.63" x2="361.3" y2="196.63" class="rtk"/>
<text transform="translate(357,196.63) rotate(-90)" class="rtl" text-anchor="middle">2.5</text>
<line x1="359.8" y1="186.7" x2="361.3" y2="186.7" class="rtk"/>
<text transform="translate(357,186.7) rotate(-90)" class="rtl" text-anchor="middle">3.0</text>
<line x1="364.5" y1="248.5" x2="435" y2="248.5" class="rax"/>
<line x1="364.5" y1="248.5" x2="364.5" y2="249.9" class="rtk"/>
<text x="364.5" y="254.4" class="rtl" text-anchor="middle">0</text>
<line x1="374.57" y1="248.5" x2="374.57" y2="249.9" class="rtk"/>
<text x="374.57" y="254.4" class="rtl" text-anchor="middle">2</text>
<line x1="384.64" y1="248.5" x2="384.64" y2="249.9" class="rtk"/>
<text x="384.64" y="254.4" class="rtl" text-anchor="middle">4</text>
<line x1="394.71" y1="248.5" x2="394.71" y2="249.9" class="rtk"/>
<text x="394.71" y="254.4" class="rtl" text-anchor="middle">6</text>
<line x1="404.79" y1="248.5" x2="404.79" y2="249.9" class="rtk"/>
<text x="404.79" y="254.4" class="rtl" text-anchor="middle">8</text>
<line x1="414.86" y1="248.5" x2="414.86" y2="249.9" class="rtk"/>
<text x="414.86" y="254.4" class="rtl" text-anchor="middle">10</text>
<line x1="424.93" y1="248.5" x2="424.93" y2="249.9" class="rtk"/>
<text x="424.93" y="254.4" class="rtl" text-anchor="middle">12</text>
<line x1="435" y1="248.5" x2="435" y2="249.9" class="rtk"/>
<text x="435" y="254.4" class="rtl" text-anchor="middle">14</text>
<text x="397" y="259.9" class="ral" text-anchor="middle">Time-lag (months)</text>
<text transform="translate(350.5,213.8) rotate(-90)" class="ral" text-anchor="middle">Semi-variance (square kilometers)</text>
</g>
<g>
<line x1="479.4" y1="237.15" x2="567.1" y2="237.15" class="gmin"/>
<line x1="479.4" y1="216.85" x2="567.1" y2="216.85" class="gmin"/>
<line x1="479.4" y1="196.55" x2="567.1" y2="196.55" class="gmin"/>
<line x1="486.91" y1="186" x2="486.91" y2="250.2" class="gmin"/>
<line x1="501.94" y1="186" x2="501.94" y2="250.2" class="gmin"/>
<line x1="516.96" y1="186" x2="516.96" y2="250.2" class="gmin"/>
<line x1="531.98" y1="186" x2="531.98" y2="250.2" class="gmin"/>
<line x1="547.01" y1="186" x2="547.01" y2="250.2" class="gmin"/>
<line x1="562.03" y1="186" x2="562.03" y2="250.2" class="gmin"/>
<line x1="479.4" y1="247.3" x2="567.1" y2="247.3" class="gmaj"/>
<line x1="479.4" y1="227" x2="567.1" y2="227" class="gmaj"/>
<line x1="479.4" y1="206.7" x2="567.1" y2="206.7" class="gmaj"/>
<line x1="479.4" y1="186.4" x2="567.1" y2="186.4" class="gmaj"/>
<line x1="479.4" y1="186" x2="479.4" y2="250.2" class="gmaj"/>
<line x1="494.42" y1="186" x2="494.42" y2="250.2" class="gmaj"/>
<line x1="509.45" y1="186" x2="509.45" y2="250.2" class="gmaj"/>
<line x1="524.47" y1="186" x2="524.47" y2="250.2" class="gmaj"/>
<line x1="539.5" y1="186" x2="539.5" y2="250.2" class="gmaj"/>
<line x1="554.52" y1="186" x2="554.52" y2="250.2" class="gmaj"/>
<polygon points="479.5,246.5 479.66,199.6 479.8,186.3 480.3,186.3 480.75,199.6 481.4,215.25 482.3,226.2 483.7,230.9 485.3,229.3 485.75,234 485.9,246.5 485.9,246.7 479.5,246.7" fill="#a5afcd" fill-opacity="0.5"/>
<polyline points="479.5,246.5 479.8,238.7 480.6,240.25 481.4,244.2 482.6,245.7 483.7,244.2 484.8,241.8 485.4,236.3" fill="none" stroke="#111" stroke-width="1.05" stroke-linejoin="round"/>
<line x1="479.4" y1="186" x2="479.4" y2="250.7" class="axl"/>
<line x1="478.9" y1="250.2" x2="567.1" y2="250.2" class="axl"/>
<line x1="477.5" y1="247.3" x2="479.4" y2="247.3" class="tk"/>
<text x="476.4" y="249.3" class="tl" text-anchor="end">0</text>
<line x1="477.5" y1="227" x2="479.4" y2="227" class="tk"/>
<text x="476.4" y="229" class="tl" text-anchor="end">10</text>
<line x1="477.5" y1="206.7" x2="479.4" y2="206.7" class="tk"/>
<text x="476.4" y="208.7" class="tl" text-anchor="end">20</text>
<line x1="477.5" y1="186.4" x2="479.4" y2="186.4" class="tk"/>
<text x="476.4" y="188.4" class="tl" text-anchor="end">30</text>
<line x1="479.4" y1="250.2" x2="479.4" y2="252.1" class="tk"/>
<text x="479.4" y="257.8" class="tl" text-anchor="middle">0</text>
<line x1="494.42" y1="250.2" x2="494.42" y2="252.1" class="tk"/>
<text x="494.42" y="257.8" class="tl" text-anchor="middle">120</text>
<line x1="509.45" y1="250.2" x2="509.45" y2="252.1" class="tk"/>
<text x="509.45" y="257.8" class="tl" text-anchor="middle">240</text>
<line x1="524.47" y1="250.2" x2="524.47" y2="252.1" class="tk"/>
<text x="524.47" y="257.8" class="tl" text-anchor="middle">360</text>
<line x1="539.5" y1="250.2" x2="539.5" y2="252.1" class="tk"/>
<text x="539.5" y="257.8" class="tl" text-anchor="middle">480</text>
<line x1="554.52" y1="250.2" x2="554.52" y2="252.1" class="tk"/>
<text x="554.52" y="257.8" class="tl" text-anchor="middle">600</text>
<text x="481.9" y="182.6" class="ttl">IP09</text>
<polygon points="592.03,245.97 597.5,245.97 595.94,201.44 592.81,180.34 591.56,180.34" fill="#0000ff" fill-opacity="0.13" />
<polygon points="593.5,245.97 595.69,201.12 606,201.12 606,229.56 598.5,245.97" fill="#ff0000" fill-opacity="0.12" />
<polygon points="596.72,224.88 605.62,211.59 605.62,229.56" fill="#e4e4e4" />
<polygon points="595.94,180.34 605.62,180.34 605.62,200.66 594.69,200.66" fill="#ff0000" fill-opacity="0.3" />
<polygon points="595.94,180.34 605.62,180.34 605.62,194.41 595,194.41" fill="#a020f0" fill-opacity="0.4" />
<polygon points="590.94,180.34 593.75,180.34 592.03,245.97" fill="#a020f0" fill-opacity="0.35" />
<polyline points="592.03,245.97 595.16,180.34" fill="none" stroke="#0000ff" stroke-width="1.0" stroke-linejoin="round"/>
<polyline points="592.19,245.97 596.25,180.34" fill="none" stroke="#ff0000" stroke-width="1.0" stroke-linejoin="round"/>
<polyline points="591.72,245.97 592.5,180.34" fill="none" stroke="#a020f0" stroke-width="0.7" stroke-linejoin="round"/>
<rect x="600.19" y="196.31" width="1.5" height="1.5" fill="#111"/>
<rect x="605.03" y="210.84" width="1.5" height="1.5" fill="#111"/>
<rect x="595.66" y="224.59" width="1.5" height="1.5" fill="#111"/>
<line x1="589" y1="246.3" x2="589" y2="186.7" class="rax"/>
<line x1="587.5" y1="246.3" x2="589" y2="246.3" class="rtk"/>
<text transform="translate(584.7,246.3) rotate(-90)" class="rtl" text-anchor="middle">0</text>
<line x1="587.5" y1="234.38" x2="589" y2="234.38" class="rtk"/>
<text transform="translate(584.7,234.38) rotate(-90)" class="rtl" text-anchor="middle">1</text>
<line x1="587.5" y1="222.46" x2="589" y2="222.46" class="rtk"/>
<text transform="translate(584.7,222.46) rotate(-90)" class="rtl" text-anchor="middle">2</text>
<line x1="587.5" y1="210.54" x2="589" y2="210.54" class="rtk"/>
<text transform="translate(584.7,210.54) rotate(-90)" class="rtl" text-anchor="middle">3</text>
<line x1="587.5" y1="198.62" x2="589" y2="198.62" class="rtk"/>
<text transform="translate(584.7,198.62) rotate(-90)" class="rtl" text-anchor="middle">4</text>
<line x1="587.5" y1="186.7" x2="589" y2="186.7" class="rtk"/>
<text transform="translate(584.7,186.7) rotate(-90)" class="rtl" text-anchor="middle">5</text>
<line x1="592.2" y1="248.7" x2="663.6" y2="248.7" class="rax"/>
<line x1="592.2" y1="248.7" x2="592.2" y2="250.1" class="rtk"/>
<text x="592.2" y="254.6" class="rtl" text-anchor="middle">0</text>
<line x1="604.1" y1="248.7" x2="604.1" y2="250.1" class="rtk"/>
<text x="604.1" y="254.6" class="rtl" text-anchor="middle">5</text>
<line x1="616" y1="248.7" x2="616" y2="250.1" class="rtk"/>
<text x="616" y="254.6" class="rtl" text-anchor="middle">10</text>
<line x1="627.9" y1="248.7" x2="627.9" y2="250.1" class="rtk"/>
<text x="627.9" y="254.6" class="rtl" text-anchor="middle">15</text>
<line x1="639.8" y1="248.7" x2="639.8" y2="250.1" class="rtk"/>
<text x="639.8" y="254.6" class="rtl" text-anchor="middle">20</text>
<line x1="651.7" y1="248.7" x2="651.7" y2="250.1" class="rtk"/>
<text x="651.7" y="254.6" class="rtl" text-anchor="middle">25</text>
<line x1="663.6" y1="248.7" x2="663.6" y2="250.1" class="rtk"/>
<text x="663.6" y="254.6" class="rtl" text-anchor="middle">30</text>
<text x="624" y="260.1" class="ral" text-anchor="middle">Time-lag (days)</text>
<text transform="translate(578.2,218.7) rotate(-90)" class="ral" text-anchor="middle">Semi-variance (hectares)</text>
</g>
<g>
<line x1="30.3" y1="327.05" x2="118" y2="327.05" class="gmin"/>
<line x1="30.3" y1="309.75" x2="118" y2="309.75" class="gmin"/>
<line x1="30.3" y1="292.45" x2="118" y2="292.45" class="gmin"/>
<line x1="30.3" y1="275.15" x2="118" y2="275.15" class="gmin"/>
<line x1="37.81" y1="274.4" x2="37.81" y2="338.6" class="gmin"/>
<line x1="52.84" y1="274.4" x2="52.84" y2="338.6" class="gmin"/>
<line x1="67.86" y1="274.4" x2="67.86" y2="338.6" class="gmin"/>
<line x1="82.88" y1="274.4" x2="82.88" y2="338.6" class="gmin"/>
<line x1="97.91" y1="274.4" x2="97.91" y2="338.6" class="gmin"/>
<line x1="112.93" y1="274.4" x2="112.93" y2="338.6" class="gmin"/>
<line x1="30.3" y1="335.7" x2="118" y2="335.7" class="gmaj"/>
<line x1="30.3" y1="318.4" x2="118" y2="318.4" class="gmaj"/>
<line x1="30.3" y1="301.1" x2="118" y2="301.1" class="gmaj"/>
<line x1="30.3" y1="283.8" x2="118" y2="283.8" class="gmaj"/>
<line x1="30.3" y1="274.4" x2="30.3" y2="338.6" class="gmaj"/>
<line x1="45.32" y1="274.4" x2="45.32" y2="338.6" class="gmaj"/>
<line x1="60.35" y1="274.4" x2="60.35" y2="338.6" class="gmaj"/>
<line x1="75.37" y1="274.4" x2="75.37" y2="338.6" class="gmaj"/>
<line x1="90.4" y1="274.4" x2="90.4" y2="338.6" class="gmaj"/>
<line x1="105.42" y1="274.4" x2="105.42" y2="338.6" class="gmaj"/>
<polygon points="30.13,335 31.34,331.21 32.55,322.1 33.31,319.82 33.77,326.65 34.38,331.21 35.29,326.65 36.35,322.86 37.11,320.58 37.72,326.65 38.02,334.24 38.63,335 50.77,335 51.23,329.69 51.68,314.51 52.29,296.29 52.75,316.03 53.2,331.21 53.81,332.73 55.02,331.97 55.93,324.38 56.54,322.86 57.45,324.38 58.06,329.69 58.67,331.21 59.12,330.45 59.88,326.65 61.1,324.38 62.16,322.1 63.22,319.06 64.13,314.51 65.19,305.4 65.95,294.77 66.71,285.66 67.17,280.35 68.69,281.11 71.27,282.32 73.54,282.93 75.37,283.39 75.97,290.22 76.88,297.81 77.8,290.22 78.4,277.31 79.62,276.86 80.83,278.07 81.13,294.77 81.89,309.95 82.65,317.54 83.41,322.1 84.17,317.54 84.93,305.4 85.39,297.81 85.99,296.29 86.6,305.4 87.21,316.03 87.97,320.58 88.73,322.1 89.48,319.06 90.24,312.99 91,308.44 91.76,306.92 92.98,308.44 94.04,312.99 94.8,317.54 95.41,311.47 95.71,335 95.71,335.1 30.13,335.1" fill="#a5afcd" fill-opacity="0.5"/>
<polyline points="30.13,335 31.04,333.48 31.8,334.24 32.55,332.73 33.31,333.94 34.07,334.24 34.83,333.48 35.89,332.42 36.81,333.48 37.87,335 38.63,335.46 50.77,335.46 51.53,332.73 51.99,330.45 52.59,331.97 53.2,333.94 53.81,334.24 54.57,334.55 55.33,332.73 56.09,331.51 56.84,332.73 57.76,334.24 58.67,333.48 59.58,331.97 60.64,332.42 61.7,331.21 62.92,330.9 64.44,329.69 65.65,329.39 66.71,329.39 68.99,329.39 72.03,329.39 75.06,329.39 78.1,328.93 79.62,328.93 81.13,329.39 82.35,330.45 83.41,331.97 84.17,332.42 84.93,330.9 85.69,329.39 86.6,329.69 87.51,331.21 88.42,331.51 89.48,330.45 90.55,328.93 91.76,328.47 93.28,328.47 94.8,328.47 95.71,328.63" fill="none" stroke="#111" stroke-width="1.05" stroke-linejoin="round"/>
<line x1="30.3" y1="274.4" x2="30.3" y2="339.1" class="axl"/>
<line x1="29.8" y1="338.6" x2="118" y2="338.6" class="axl"/>
<line x1="28.4" y1="335.7" x2="30.3" y2="335.7" class="tk"/>
<text x="27.3" y="337.7" class="tl" text-anchor="end">0</text>
<line x1="28.4" y1="318.4" x2="30.3" y2="318.4" class="tk"/>
<text x="27.3" y="320.4" class="tl" text-anchor="end">5000</text>
<line x1="28.4" y1="301.1" x2="30.3" y2="301.1" class="tk"/>
<text x="27.3" y="303.1" class="tl" text-anchor="end">10000</text>
<line x1="28.4" y1="283.8" x2="30.3" y2="283.8" class="tk"/>
<text x="27.3" y="285.8" class="tl" text-anchor="end">15000</text>
<line x1="30.3" y1="338.6" x2="30.3" y2="340.5" class="tk"/>
<text x="30.3" y="346.2" class="tl" text-anchor="middle">0</text>
<line x1="45.32" y1="338.6" x2="45.32" y2="340.5" class="tk"/>
<text x="45.32" y="346.2" class="tl" text-anchor="middle">120</text>
<line x1="60.35" y1="338.6" x2="60.35" y2="340.5" class="tk"/>
<text x="60.35" y="346.2" class="tl" text-anchor="middle">240</text>
<line x1="75.37" y1="338.6" x2="75.37" y2="340.5" class="tk"/>
<text x="75.37" y="346.2" class="tl" text-anchor="middle">360</text>
<line x1="90.4" y1="338.6" x2="90.4" y2="340.5" class="tk"/>
<text x="90.4" y="346.2" class="tl" text-anchor="middle">480</text>
<line x1="105.42" y1="338.6" x2="105.42" y2="340.5" class="tk"/>
<text x="105.42" y="346.2" class="tl" text-anchor="middle">600</text>
<text x="32.8" y="271" class="ttl">IP10</text>
<polygon points="140.47,314.88 144.38,311.75 149.06,304.72 153.75,305.5 160,306.28 166.25,307.06 174.06,307.84 181.88,308.62 182.66,291.44 183.44,286.75 184.22,299.25 185,310.19 186.56,314.88 188.12,313.31 189.69,305.5 191.25,293 192.5,289.88 193.59,299.25 194.38,286.75 195.16,275.81 195.94,272.69 196.72,283.62 196.72,314.88 196.72,322.69 195.16,330.5 193.59,333.62 192.03,327.38 190.47,324.25 188.91,328.94 187.34,333.62 185.78,332.06 184.22,327.38 182.66,322.69 181.88,332.84 174.06,332.84 166.25,332.84 158.44,332.84 150.62,332.06 145.94,330.5 141.25,330.5" fill="#e4e4e4" />
<polygon points="139.38,304.72 196.72,304.72 196.72,314.88 139.38,314.88" fill="#ff0000" fill-opacity="0.25" />
<polyline points="139.38,336.44 139.38,309.41 196.72,309.41" fill="none" stroke="#0000ff" stroke-width="0.9" stroke-linejoin="round"/>
<rect x="139.25" y="329.75" width="1.5" height="1.5" fill="#111"/>
<rect x="140.5" y="320.06" width="1.5" height="1.5" fill="#111"/>
<rect x="148" y="314.91" width="1.5" height="1.5" fill="#111"/>
<rect x="149.09" y="311.31" width="1.5" height="1.5" fill="#111"/>
<rect x="180.81" y="318.81" width="1.5" height="1.5" fill="#111"/>
<rect x="181.91" y="300.38" width="1.5" height="1.5" fill="#111"/>
<rect x="183" y="304.12" width="1.5" height="1.5" fill="#111"/>
<rect x="184.25" y="316.62" width="1.5" height="1.5" fill="#111"/>
<rect x="185.19" y="321.16" width="1.5" height="1.5" fill="#111"/>
<rect x="186.28" y="323.97" width="1.5" height="1.5" fill="#111"/>
<rect x="188.16" y="317.88" width="1.5" height="1.5" fill="#111"/>
<rect x="189.25" y="309.12" width="1.5" height="1.5" fill="#111"/>
<rect x="190.19" y="308.19" width="1.5" height="1.5" fill="#111"/>
<rect x="190.97" y="301.94" width="1.5" height="1.5" fill="#111"/>
<rect x="192.38" y="302.41" width="1.5" height="1.5" fill="#111"/>
<rect x="193.31" y="308.19" width="1.5" height="1.5" fill="#111"/>
<rect x="194.41" y="298.19" width="1.5" height="1.5" fill="#111"/>
<rect x="195.66" y="289.12" width="1.5" height="1.5" fill="#111"/>
<line x1="136.3" y1="336.6" x2="136.3" y2="273.4" class="rax"/>
<line x1="134.8" y1="336.6" x2="136.3" y2="336.6" class="rtk"/>
<text transform="translate(132,336.6) rotate(-90)" class="rtl" text-anchor="middle">0</text>
<line x1="134.8" y1="320.8" x2="136.3" y2="320.8" class="rtk"/>
<text transform="translate(132,320.8) rotate(-90)" class="rtl" text-anchor="middle">5</text>
<line x1="134.8" y1="305" x2="136.3" y2="305" class="rtk"/>
<text transform="translate(132,305) rotate(-90)" class="rtl" text-anchor="middle">10</text>
<line x1="134.8" y1="289.2" x2="136.3" y2="289.2" class="rtk"/>
<text transform="translate(132,289.2) rotate(-90)" class="rtl" text-anchor="middle">15</text>
<line x1="134.8" y1="273.4" x2="136.3" y2="273.4" class="rtk"/>
<text transform="translate(132,273.4) rotate(-90)" class="rtl" text-anchor="middle">20</text>
<line x1="139.1" y1="338.7" x2="201.2" y2="338.7" class="rax"/>
<line x1="139.1" y1="338.7" x2="139.1" y2="340.1" class="rtk"/>
<text x="139.1" y="344.6" class="rtl" text-anchor="middle">0</text>
<line x1="151.52" y1="338.7" x2="151.52" y2="340.1" class="rtk"/>
<text x="151.52" y="344.6" class="rtl" text-anchor="middle">2</text>
<line x1="163.94" y1="338.7" x2="163.94" y2="340.1" class="rtk"/>
<text x="163.94" y="344.6" class="rtl" text-anchor="middle">4</text>
<line x1="176.36" y1="338.7" x2="176.36" y2="340.1" class="rtk"/>
<text x="176.36" y="344.6" class="rtl" text-anchor="middle">6</text>
<line x1="188.78" y1="338.7" x2="188.78" y2="340.1" class="rtk"/>
<text x="188.78" y="344.6" class="rtl" text-anchor="middle">8</text>
<line x1="201.2" y1="338.7" x2="201.2" y2="340.1" class="rtk"/>
<text x="201.2" y="344.6" class="rtl" text-anchor="middle">10</text>
<text x="172.6" y="350.1" class="ral" text-anchor="middle">Time-lag (months)</text>
<text transform="translate(125.5,303.7) rotate(-90)" class="ral" text-anchor="middle">Semi-variance (square kilometers)</text>
</g>
<g>
<line x1="255.4" y1="327.6" x2="343.1" y2="327.6" class="gmin"/>
<line x1="255.4" y1="311.4" x2="343.1" y2="311.4" class="gmin"/>
<line x1="255.4" y1="295.2" x2="343.1" y2="295.2" class="gmin"/>
<line x1="255.4" y1="279" x2="343.1" y2="279" class="gmin"/>
<line x1="262.91" y1="274.4" x2="262.91" y2="338.6" class="gmin"/>
<line x1="277.94" y1="274.4" x2="277.94" y2="338.6" class="gmin"/>
<line x1="292.96" y1="274.4" x2="292.96" y2="338.6" class="gmin"/>
<line x1="307.98" y1="274.4" x2="307.98" y2="338.6" class="gmin"/>
<line x1="323.01" y1="274.4" x2="323.01" y2="338.6" class="gmin"/>
<line x1="338.03" y1="274.4" x2="338.03" y2="338.6" class="gmin"/>
<line x1="255.4" y1="335.7" x2="343.1" y2="335.7" class="gmaj"/>
<line x1="255.4" y1="319.5" x2="343.1" y2="319.5" class="gmaj"/>
<line x1="255.4" y1="303.3" x2="343.1" y2="303.3" class="gmaj"/>
<line x1="255.4" y1="287.1" x2="343.1" y2="287.1" class="gmaj"/>
<line x1="255.4" y1="274.4" x2="255.4" y2="338.6" class="gmaj"/>
<line x1="270.42" y1="274.4" x2="270.42" y2="338.6" class="gmaj"/>
<line x1="285.45" y1="274.4" x2="285.45" y2="338.6" class="gmaj"/>
<line x1="300.47" y1="274.4" x2="300.47" y2="338.6" class="gmaj"/>
<line x1="315.5" y1="274.4" x2="315.5" y2="338.6" class="gmaj"/>
<line x1="330.52" y1="274.4" x2="330.52" y2="338.6" class="gmaj"/>
<polygon points="255.13,335 256.04,331.97 257.25,329.69 258.31,328.17 259.83,326.65 261.35,323.62 262.41,320.58 263.32,317.54 264.39,316.03 265.15,317.54 265.9,320.58 266.66,324.38 267.42,324.38 268.18,322.1 268.94,319.06 269.7,318.76 270.31,323.62 270.91,325.13 271.98,324.38 273.04,322.86 274.25,322.1 275.47,320.58 276.53,319.06 277.29,319.82 278.05,322.1 278.81,325.13 279.57,326.65 280.33,325.89 281.09,324.38 281.84,324.38 282.6,327.41 283.36,329.69 284.12,331.21 284.88,332.73 285.64,334.24 286.7,335 288.22,335 289.13,332.73 290.19,330.45 290.95,328.93 291.71,325.13 292.47,317.54 293.08,302.36 293.53,281.11 293.99,294.77 294.6,323.62 295.2,330.45 296.27,329.69 297.33,328.93 298.54,328.47 299.76,327.87 300.82,328.17 301.88,329.39 303.1,328.93 304.01,326.65 304.62,326.65 305.38,325.13 305.83,317.54 306.29,310.71 306.74,317.54 307.2,325.13 307.96,325.13 308.87,320.58 309.47,316.03 310.08,309.95 310.69,302.36 311.3,300.09 311.9,303.88 312.51,309.95 313.12,309.19 313.73,311.47 314.48,317.54 314.94,323.62 314.94,334.24 314.94,335.1 255.13,335.1" fill="#a5afcd" fill-opacity="0.5"/>
<polyline points="255.13,334.55 256.04,333.94 257.25,333.48 258.77,333.03 260.29,332.73 261.81,332.42 262.87,331.97 263.93,331.97 265.15,332.73 266.36,331.97 267.27,330.45 267.88,331.97 268.94,333.48 270,333.18 271.22,332.73 272.74,333.03 274.25,332.73 275.77,332.73 277.29,332.42 278.81,332.73 280.33,333.03 281.84,333.03 283.36,333.48 284.88,333.48 286.1,334.55 287.16,335 288.22,335 289.13,334.24 290.19,333.48 291.26,333.48 292.17,332.73 293.08,331.97 293.69,329.69 294.29,331.97 295.2,333.48 296.72,333.94 298.24,334.24 299.3,333.94 300.82,333.48 302.34,333.03 303.86,332.73 304.92,333.48 305.83,332.73 306.89,331.97 307.96,331.97 309.17,331.21 310.39,330.45 311.45,330.9 312.51,331.21 313.73,330.9 314.94,331.21" fill="none" stroke="#111" stroke-width="1.05" stroke-linejoin="round"/>
<line x1="255.4" y1="274.4" x2="255.4" y2="339.1" class="axl"/>
<line x1="254.9" y1="338.6" x2="343.1" y2="338.6" class="axl"/>
<line x1="253.5" y1="335.7" x2="255.4" y2="335.7" class="tk"/>
<text x="252.4" y="337.7" class="tl" text-anchor="end">0</text>
<line x1="253.5" y1="319.5" x2="255.4" y2="319.5" class="tk"/>
<text x="252.4" y="321.5" class="tl" text-anchor="end">200</text>
<line x1="253.5" y1="303.3" x2="255.4" y2="303.3" class="tk"/>
<text x="252.4" y="305.3" class="tl" text-anchor="end">400</text>
<line x1="253.5" y1="287.1" x2="255.4" y2="287.1" class="tk"/>
<text x="252.4" y="289.1" class="tl" text-anchor="end">600</text>
<line x1="255.4" y1="338.6" x2="255.4" y2="340.5" class="tk"/>
<text x="255.4" y="346.2" class="tl" text-anchor="middle">0</text>
<line x1="270.42" y1="338.6" x2="270.42" y2="340.5" class="tk"/>
<text x="270.42" y="346.2" class="tl" text-anchor="middle">120</text>
<line x1="285.45" y1="338.6" x2="285.45" y2="340.5" class="tk"/>
<text x="285.45" y="346.2" class="tl" text-anchor="middle">240</text>
<line x1="300.47" y1="338.6" x2="300.47" y2="340.5" class="tk"/>
<text x="300.47" y="346.2" class="tl" text-anchor="middle">360</text>
<line x1="315.5" y1="338.6" x2="315.5" y2="340.5" class="tk"/>
<text x="315.5" y="346.2" class="tl" text-anchor="middle">480</text>
<line x1="330.52" y1="338.6" x2="330.52" y2="340.5" class="tk"/>
<text x="330.52" y="346.2" class="tl" text-anchor="middle">600</text>
<text x="257.9" y="271" class="ttl">IP11</text>
<polygon points="364.69,335.97 366.25,327.38 369.38,319.56 372.5,307.06 375.62,299.25 378.75,291.44 381.88,289.09 385,289.88 385.94,283.62 386.25,274.25 386.88,289.88 388.91,291.44 390.47,294.56 392.81,297.69 394.38,299.25 397.5,300.81 400.62,302.38 403.75,299.25 405.31,293 406.09,289.88 406.88,293 408.44,299.25 410,302.38 413.12,303.94 416.25,307.06 419.06,308.62 419.06,330.5 416.25,333.62 413.12,332.06 410,330.5 406.88,333.62 403.75,330.5 400.62,333.62 397.5,332.06 394.38,332.06 391.25,327.38 388.12,321.12 386.56,322.69 383.44,325.81 380.31,327.38 377.19,330.5 374.06,332.06 370.94,333.62 367.81,333.62" fill="#e4e4e4" />
<polygon points="364.4,336 365.49,325.52 366.59,317.55 367.68,311.48 368.78,306.87 369.87,303.36 370.96,300.69 372.06,298.66 373.15,297.11 374.25,295.94 375.34,295.04 376.43,294.36 377.53,293.84 378.62,293.45 379.72,293.15 380.81,292.92 381.9,292.75 383,292.62 384.09,292.52 385.19,292.44 386.28,292.38 387.37,292.34 388.47,292.31 389.56,292.28 390.66,292.26 391.75,292.25 392.84,292.24 393.94,292.23 395.03,292.22 396.13,292.22 397.22,292.21 398.31,292.21 399.41,292.21 400.5,292.21 401.6,292.2 402.69,292.2 403.78,292.2 404.88,292.2 405.97,292.2 407.07,292.2 408.16,292.2 409.25,292.2 410.35,292.2 411.44,292.2 412.54,292.2 413.63,292.2 414.72,292.2 415.82,292.2 416.91,292.2 418.01,292.2 419.1,292.2 419.1,311 418.01,311 416.91,311 415.82,311 414.72,311 413.63,311 412.54,311 411.44,311 410.35,311 409.25,311 408.16,311 407.07,311 405.97,311 404.88,311 403.78,311 402.69,311 401.6,311.01 400.5,311.01 399.41,311.01 398.31,311.01 397.22,311.01 396.13,311.02 395.03,311.02 393.94,311.03 392.84,311.04 391.75,311.05 390.66,311.06 389.56,311.08 388.47,311.11 387.37,311.13 386.28,311.17 385.19,311.22 384.09,311.28 383,311.36 381.9,311.47 380.81,311.6 379.72,311.77 378.62,311.99 377.53,312.27 376.43,312.62 375.34,313.08 374.25,313.67 373.15,314.42 372.06,315.39 370.96,316.62 369.87,318.21 368.78,320.25 367.68,322.86 366.59,326.2 365.49,330.5 364.4,336" fill="#ff0000" fill-opacity="0.22" />
<polygon points="364.4,336 365.49,319.25 366.59,312.52 367.68,309.82 368.78,308.73 369.87,308.29 370.96,308.12 372.06,308.05 373.15,308.02 374.25,308.01 375.34,308 376.43,308 377.53,308 378.62,308 379.72,308 380.81,308 381.9,308 383,308 384.09,308 385.19,308 386.28,308 387.37,308 388.47,308 389.56,308 390.66,308 391.75,308 392.84,308 393.94,308 395.03,308 396.13,308 397.22,308 398.31,308 399.41,308 400.5,308 401.6,308 402.69,308 403.78,308 404.88,308 405.97,308 407.07,308 408.16,308 409.25,308 410.35,308 411.44,308 412.54,308 413.63,308 414.72,308 415.82,308 416.91,308 418.01,308 419.1,308 419.1,314.5 418.01,314.5 416.91,314.5 415.82,314.5 414.72,314.5 413.63,314.5 412.54,314.5 411.44,314.5 410.35,314.5 409.25,314.5 408.16,314.5 407.07,314.5 405.97,314.5 404.88,314.5 403.78,314.5 402.69,314.5 401.6,314.5 400.5,314.5 399.41,314.5 398.31,314.5 397.22,314.5 396.13,314.5 395.03,314.5 393.94,314.5 392.84,314.5 391.75,314.5 390.66,314.5 389.56,314.5 388.47,314.5 387.37,314.5 386.28,314.5 385.19,314.5 384.09,314.5 383,314.5 381.9,314.5 380.81,314.5 379.72,314.5 378.62,314.5 377.53,314.5 376.43,314.5 375.34,314.5 374.25,314.51 373.15,314.51 372.06,314.54 370.96,314.59 369.87,314.73 368.78,315.06 367.68,315.9 366.59,317.97 365.49,323.14 364.4,336" fill="#ff0000" fill-opacity="0.2" />
<polygon points="364.4,336 365.49,320.57 366.59,315.4 367.68,313.67 368.78,313.09 369.87,312.9 370.96,312.83 372.06,312.81 373.15,312.8 374.25,312.8 375.34,312.8 376.43,312.8 377.53,312.8 378.62,312.8 379.72,312.8 380.81,312.8 381.9,312.8 383,312.8 384.09,312.8 385.19,312.8 386.28,312.8 387.37,312.8 388.47,312.8 389.56,312.8 390.66,312.8 391.75,312.8 392.84,312.8 393.94,312.8 395.03,312.8 396.13,312.8 397.22,312.8 398.31,312.8 399.41,312.8 400.5,312.8 401.6,312.8 402.69,312.8 403.78,312.8 404.88,312.8 405.97,312.8 407.07,312.8 408.16,312.8 409.25,312.8 410.35,312.8 411.44,312.8 412.54,312.8 413.63,312.8 414.72,312.8 415.82,312.8 416.91,312.8 418.01,312.8 419.1,312.8 419.1,316.4 418.01,316.4 416.91,316.4 415.82,316.4 414.72,316.4 413.63,316.4 412.54,316.4 411.44,316.4 410.35,316.4 409.25,316.4 408.16,316.4 407.07,316.4 405.97,316.4 404.88,316.4 403.78,316.4 402.69,316.4 401.6,316.4 400.5,316.4 399.41,316.4 398.31,316.4 397.22,316.4 396.13,316.4 395.03,316.4 393.94,316.4 392.84,316.4 391.75,316.4 390.66,316.4 389.56,316.4 388.47,316.4 387.37,316.4 386.28,316.4 385.19,316.4 384.09,316.4 383,316.4 381.9,316.4 380.81,316.4 379.72,316.4 378.62,316.4 377.53,316.4 376.43,316.4 375.34,316.4 374.25,316.4 373.15,316.4 372.06,316.41 370.96,316.43 369.87,316.48 368.78,316.65 367.68,317.14 366.59,318.6 365.49,322.96 364.4,336" fill="#a020f0" fill-opacity="0.3" />
<polygon points="364.4,336 365.49,319.49 366.59,317.63 367.68,317.43 368.78,317.4 369.87,317.4 370.96,317.4 372.06,317.4 373.15,317.4 374.25,317.4 375.34,317.4 376.43,317.4 377.53,317.4 378.62,317.4 379.72,317.4 380.81,317.4 381.9,317.4 383,317.4 384.09,317.4 385.19,317.4 386.28,317.4 387.37,317.4 388.47,317.4 389.56,317.4 390.66,317.4 391.75,317.4 392.84,317.4 393.94,317.4 395.03,317.4 396.13,317.4 397.22,317.4 398.31,317.4 399.41,317.4 400.5,317.4 401.6,317.4 402.69,317.4 403.78,317.4 404.88,317.4 405.97,317.4 407.07,317.4 408.16,317.4 409.25,317.4 410.35,317.4 411.44,317.4 412.54,317.4 413.63,317.4 414.72,317.4 415.82,317.4 416.91,317.4 418.01,317.4 419.1,317.4 419.1,320.9 418.01,320.9 416.91,320.9 415.82,320.9 414.72,320.9 413.63,320.9 412.54,320.9 411.44,320.9 410.35,320.9 409.25,320.9 408.16,320.9 407.07,320.9 405.97,320.9 404.88,320.9 403.78,320.9 402.69,320.9 401.6,320.9 400.5,320.9 399.41,320.9 398.31,320.9 397.22,320.9 396.13,320.9 395.03,320.9 393.94,320.9 392.84,320.9 391.75,320.9 390.66,320.9 389.56,320.9 388.47,320.9 387.37,320.9 386.28,320.9 385.19,320.9 384.09,320.9 383,320.9 381.9,320.9 380.81,320.9 379.72,320.9 378.62,320.9 377.53,320.9 376.43,320.9 375.34,320.9 374.25,320.9 373.15,320.9 372.06,320.9 370.96,320.9 369.87,320.9 368.78,320.9 367.68,320.92 366.59,321.09 365.49,322.59 364.4,336" fill="#0000ff" fill-opacity="0.28" />
<polyline points="364.4,336 365.49,328.16 366.59,322.08 367.68,317.37 368.78,313.71 369.87,310.88 370.96,308.68 372.06,306.98 373.15,305.66 374.25,304.64 375.34,303.84 376.43,303.23 377.53,302.75 378.62,302.38 379.72,302.09 380.81,301.87 381.9,301.7 383,301.56 384.09,301.46 385.19,301.38 386.28,301.32 387.37,301.27 388.47,301.23 389.56,301.2 390.66,301.18 391.75,301.16 392.84,301.15 393.94,301.14 395.03,301.13 396.13,301.12 397.22,301.12 398.31,301.11 399.41,301.11 400.5,301.11 401.6,301.11 402.69,301.1 403.78,301.1 404.88,301.1 405.97,301.1 407.07,301.1 408.16,301.1 409.25,301.1 410.35,301.1 411.44,301.1 412.54,301.1 413.63,301.1 414.72,301.1 415.82,301.1 416.91,301.1 418.01,301.1 419.1,301.1" fill="none" stroke="#ff0000" stroke-width="0.8" stroke-linejoin="round"/>
<polyline points="364.4,336 365.49,321.23 366.59,315.29 367.68,312.9 368.78,311.94 369.87,311.56 370.96,311.4 372.06,311.34 373.15,311.32 374.25,311.31 375.34,311.3 376.43,311.3 377.53,311.3 378.62,311.3 379.72,311.3 380.81,311.3 381.9,311.3 383,311.3 384.09,311.3 385.19,311.3 386.28,311.3 387.37,311.3 388.47,311.3 389.56,311.3 390.66,311.3 391.75,311.3 392.84,311.3 393.94,311.3 395.03,311.3 396.13,311.3 397.22,311.3 398.31,311.3 399.41,311.3 400.5,311.3 401.6,311.3 402.69,311.3 403.78,311.3 404.88,311.3 405.97,311.3 407.07,311.3 408.16,311.3 409.25,311.3 410.35,311.3 411.44,311.3 412.54,311.3 413.63,311.3 414.72,311.3 415.82,311.3 416.91,311.3 418.01,311.3 419.1,311.3" fill="none" stroke="#ff0000" stroke-width="0.8" stroke-linejoin="round"/>
<polyline points="364.4,336 365.49,322.03 366.59,317.35 367.68,315.79 368.78,315.26 369.87,315.09 370.96,315.03 372.06,315.01 373.15,315 374.25,315 375.34,315 376.43,315 377.53,315 378.62,315 379.72,315 380.81,315 381.9,315 383,315 384.09,315 385.19,315 386.28,315 387.37,315 388.47,315 389.56,315 390.66,315 391.75,315 392.84,315 393.94,315 395.03,315 396.13,315 397.22,315 398.31,315 399.41,315 400.5,315 401.6,315 402.69,315 403.78,315 404.88,315 405.97,315 407.07,315 408.16,315 409.25,315 410.35,315 411.44,315 412.54,315 413.63,315 414.72,315 415.82,315 416.91,315 418.01,315 419.1,315" fill="none" stroke="#a020f0" stroke-width="0.8" stroke-linejoin="round"/>
<polyline points="364.4,336 365.49,321.08 366.59,319.41 367.68,319.22 368.78,319.2 369.87,319.2 370.96,319.2 372.06,319.2 373.15,319.2 374.25,319.2 375.34,319.2 376.43,319.2 377.53,319.2 378.62,319.2 379.72,319.2 380.81,319.2 381.9,319.2 383,319.2 384.09,319.2 385.19,319.2 386.28,319.2 387.37,319.2 388.47,319.2 389.56,319.2 390.66,319.2 391.75,319.2 392.84,319.2 393.94,319.2 395.03,319.2 396.13,319.2 397.22,319.2 398.31,319.2 399.41,319.2 400.5,319.2 401.6,319.2 402.69,319.2 403.78,319.2 404.88,319.2 405.97,319.2 407.07,319.2 408.16,319.2 409.25,319.2 410.35,319.2 411.44,319.2 412.54,319.2 413.63,319.2 414.72,319.2 415.82,319.2 416.91,319.2 418.01,319.2 419.1,319.2" fill="none" stroke="#0000ff" stroke-width="1.1" stroke-linejoin="round"/>
<rect x="363.94" y="335.22" width="1.5" height="1.5" fill="#111"/>
<rect x="364.72" y="329.75" width="1.5" height="1.5" fill="#111"/>
<rect x="365.5" y="326.62" width="1.5" height="1.5" fill="#111"/>
<rect x="367.84" y="320.38" width="1.5" height="1.5" fill="#111"/>
<rect x="370.97" y="319.59" width="1.5" height="1.5" fill="#111"/>
<rect x="373.31" y="316.94" width="1.5" height="1.5" fill="#111"/>
<rect x="376.44" y="306.31" width="1.5" height="1.5" fill="#111"/>
<rect x="378" y="303.19" width="1.5" height="1.5" fill="#111"/>
<rect x="385.03" y="300.06" width="1.5" height="1.5" fill="#111"/>
<rect x="386.59" y="300.06" width="1.5" height="1.5" fill="#111"/>
<rect x="385.81" y="289.12" width="1.5" height="1.5" fill="#111"/>
<rect x="395.19" y="308.66" width="1.5" height="1.5" fill="#111"/>
<rect x="396.75" y="312.56" width="1.5" height="1.5" fill="#111"/>
<rect x="397.53" y="313.34" width="1.5" height="1.5" fill="#111"/>
<rect x="398.31" y="311.78" width="1.5" height="1.5" fill="#111"/>
<rect x="400.66" y="309.44" width="1.5" height="1.5" fill="#111"/>
<rect x="401.44" y="311" width="1.5" height="1.5" fill="#111"/>
<rect x="404.56" y="308.66" width="1.5" height="1.5" fill="#111"/>
<rect x="405.34" y="301.94" width="1.5" height="1.5" fill="#111"/>
<rect x="406.12" y="305.53" width="1.5" height="1.5" fill="#111"/>
<rect x="407.69" y="314.12" width="1.5" height="1.5" fill="#111"/>
<rect x="409.25" y="308.66" width="1.5" height="1.5" fill="#111"/>
<rect x="410.81" y="309.44" width="1.5" height="1.5" fill="#111"/>
<rect x="413.94" y="319.59" width="1.5" height="1.5" fill="#111"/>
<rect x="415.5" y="318.81" width="1.5" height="1.5" fill="#111"/>
<rect x="417.06" y="317.56" width="1.5" height="1.5" fill="#111"/>
<rect x="418.31" y="323.5" width="1.5" height="1.5" fill="#111"/>
<line x1="361.4" y1="336.4" x2="361.4" y2="276.4" class="rax"/>
<line x1="359.9" y1="336.4" x2="361.4" y2="336.4" class="rtk"/>
<text transform="translate(357.1,336.4) rotate(-90)" class="rtl" text-anchor="middle">0</text>
<line x1="359.9" y1="321.4" x2="361.4" y2="321.4" class="rtk"/>
<text transform="translate(357.1,321.4) rotate(-90)" class="rtl" text-anchor="middle">20</text>
<line x1="359.9" y1="306.4" x2="361.4" y2="306.4" class="rtk"/>
<text transform="translate(357.1,306.4) rotate(-90)" class="rtl" text-anchor="middle">40</text>
<line x1="359.9" y1="291.4" x2="361.4" y2="291.4" class="rtk"/>
<text transform="translate(357.1,291.4) rotate(-90)" class="rtl" text-anchor="middle">60</text>
<line x1="359.9" y1="276.4" x2="361.4" y2="276.4" class="rtk"/>
<text transform="translate(357.1,276.4) rotate(-90)" class="rtl" text-anchor="middle">80</text>
<line x1="364.5" y1="338.7" x2="432.8" y2="338.7" class="rax"/>
<line x1="364.5" y1="338.7" x2="364.5" y2="340.1" class="rtk"/>
<text x="364.5" y="344.6" class="rtl" text-anchor="middle">0</text>
<line x1="378.16" y1="338.7" x2="378.16" y2="340.1" class="rtk"/>
<text x="378.16" y="344.6" class="rtl" text-anchor="middle">2</text>
<line x1="391.82" y1="338.7" x2="391.82" y2="340.1" class="rtk"/>
<text x="391.82" y="344.6" class="rtl" text-anchor="middle">4</text>
<line x1="405.48" y1="338.7" x2="405.48" y2="340.1" class="rtk"/>
<text x="405.48" y="344.6" class="rtl" text-anchor="middle">6</text>
<line x1="419.14" y1="338.7" x2="419.14" y2="340.1" class="rtk"/>
<text x="419.14" y="344.6" class="rtl" text-anchor="middle">8</text>
<line x1="432.8" y1="338.7" x2="432.8" y2="340.1" class="rtk"/>
<text x="432.8" y="344.6" class="rtl" text-anchor="middle">10</text>
<text x="397.6" y="350.1" class="ral" text-anchor="middle">Time-lag (months)</text>
<text transform="translate(350.6,308.7) rotate(-90)" class="ral" text-anchor="middle">Semi-variance (hectares)</text>
</g>
<g>
<line x1="479.4" y1="327.22" x2="567.1" y2="327.22" class="gmin"/>
<line x1="479.4" y1="310.26" x2="567.1" y2="310.26" class="gmin"/>
<line x1="479.4" y1="293.3" x2="567.1" y2="293.3" class="gmin"/>
<line x1="479.4" y1="276.34" x2="567.1" y2="276.34" class="gmin"/>
<line x1="486.91" y1="274.4" x2="486.91" y2="338.6" class="gmin"/>
<line x1="501.94" y1="274.4" x2="501.94" y2="338.6" class="gmin"/>
<line x1="516.96" y1="274.4" x2="516.96" y2="338.6" class="gmin"/>
<line x1="531.98" y1="274.4" x2="531.98" y2="338.6" class="gmin"/>
<line x1="547.01" y1="274.4" x2="547.01" y2="338.6" class="gmin"/>
<line x1="562.03" y1="274.4" x2="562.03" y2="338.6" class="gmin"/>
<line x1="479.4" y1="335.7" x2="567.1" y2="335.7" class="gmaj"/>
<line x1="479.4" y1="318.74" x2="567.1" y2="318.74" class="gmaj"/>
<line x1="479.4" y1="301.78" x2="567.1" y2="301.78" class="gmaj"/>
<line x1="479.4" y1="284.82" x2="567.1" y2="284.82" class="gmaj"/>
<line x1="479.4" y1="274.4" x2="479.4" y2="338.6" class="gmaj"/>
<line x1="494.42" y1="274.4" x2="494.42" y2="338.6" class="gmaj"/>
<line x1="509.45" y1="274.4" x2="509.45" y2="338.6" class="gmaj"/>
<line x1="524.47" y1="274.4" x2="524.47" y2="338.6" class="gmaj"/>
<line x1="539.5" y1="274.4" x2="539.5" y2="338.6" class="gmaj"/>
<line x1="554.52" y1="274.4" x2="554.52" y2="338.6" class="gmaj"/>
<polygon points="479.73,335 480.8,333.48 481.86,330.45 482.77,326.65 483.83,323.62 484.59,326.65 485.2,332.73 485.81,333.48 486.41,317.54 486.87,294.77 487.32,284.15 487.63,302.36 488.08,329.69 488.84,331.97 489.45,325.13 490.06,308.44 490.66,306.92 491.42,308.44 492.18,314.51 492.94,322.1 493.7,325.13 494.46,324.38 495.52,325.13 496.43,322.1 497.49,319.82 498.25,317.54 499.16,316.03 500.08,313.75 500.99,313.75 501.59,316.03 502.2,322.1 502.81,328.17 503.57,331.97 504.33,330.45 505.09,322.1 505.84,320.58 506.76,321.34 507.36,317.54 508.12,311.47 508.88,302.36 509.49,291.74 510.1,279.59 510.55,291.74 511.01,317.54 511.31,331.21 511.92,334.24 513.13,333.48 514.19,332.73 515.26,331.97 516.17,330.45 517.23,326.65 517.99,322.1 518.75,323.62 519.51,328.17 520.27,331.21 521.33,331.97 522.24,329.69 523.3,326.65 524.06,325.13 524.97,326.65 525.58,329.69 526.49,331.21 527.4,330.45 528.31,325.13 529.22,322.1 530.13,321.34 531.05,322.86 531.96,317.54 532.56,311.47 533.17,309.95 533.63,316.03 534.23,326.65 534.99,330.45 535.9,329.69 536.97,325.89 537.73,320.58 538.48,314.51 539.24,308.44 540,303.88 540.76,301.6 541.52,302.36 542.28,311.47 542.74,334.24 542.74,335.1 479.73,335.1" fill="#a5afcd" fill-opacity="0.5"/>
<polyline points="479.73,334.55 480.8,334.24 482.31,333.94 483.83,333.94 485.35,333.48 486.11,331.97 486.56,329.69 487.02,328.93 487.63,331.97 488.23,334.24 489.15,332.73 490.06,331.51 490.97,330.9 492.18,331.21 493.4,331.66 494.61,331.97 495.98,332.42 497.49,332.73 499.01,333.03 500.53,333.18 502.05,333.48 503.57,333.94 504.63,333.18 505.84,332.73 507.06,331.97 508.12,330.45 508.88,328.93 509.64,328.17 510.4,329.39 511.16,332.73 511.92,334.24 513.13,334.55 514.19,334.24 515.71,333.94 517.23,333.94 518.75,333.94 520.27,334.24 521.79,334.24 523.3,333.94 524.82,334.24 526.34,333.48 527.86,333.03 528.92,332.42 529.83,331.97 530.89,331.51 531.96,331.97 532.87,331.97 533.93,333.48 534.69,334.24 535.9,333.48 536.97,332.42 538.03,331.51 539.24,330.45 540.46,329.39 541.52,328.47 542.58,328.47" fill="none" stroke="#111" stroke-width="1.05" stroke-linejoin="round"/>
<line x1="479.4" y1="274.4" x2="479.4" y2="339.1" class="axl"/>
<line x1="478.9" y1="338.6" x2="567.1" y2="338.6" class="axl"/>
<line x1="477.5" y1="335.7" x2="479.4" y2="335.7" class="tk"/>
<text x="476.4" y="337.7" class="tl" text-anchor="end">0</text>
<line x1="477.5" y1="318.74" x2="479.4" y2="318.74" class="tk"/>
<text x="476.4" y="320.74" class="tl" text-anchor="end">20</text>
<line x1="477.5" y1="301.78" x2="479.4" y2="301.78" class="tk"/>
<text x="476.4" y="303.78" class="tl" text-anchor="end">40</text>
<line x1="477.5" y1="284.82" x2="479.4" y2="284.82" class="tk"/>
<text x="476.4" y="286.82" class="tl" text-anchor="end">60</text>
<line x1="479.4" y1="338.6" x2="479.4" y2="340.5" class="tk"/>
<text x="479.4" y="346.2" class="tl" text-anchor="middle">0</text>
<line x1="494.42" y1="338.6" x2="494.42" y2="340.5" class="tk"/>
<text x="494.42" y="346.2" class="tl" text-anchor="middle">120</text>
<line x1="509.45" y1="338.6" x2="509.45" y2="340.5" class="tk"/>
<text x="509.45" y="346.2" class="tl" text-anchor="middle">240</text>
<line x1="524.47" y1="338.6" x2="524.47" y2="340.5" class="tk"/>
<text x="524.47" y="346.2" class="tl" text-anchor="middle">360</text>
<line x1="539.5" y1="338.6" x2="539.5" y2="340.5" class="tk"/>
<text x="539.5" y="346.2" class="tl" text-anchor="middle">480</text>
<line x1="554.52" y1="338.6" x2="554.52" y2="340.5" class="tk"/>
<text x="554.52" y="346.2" class="tl" text-anchor="middle">600</text>
<text x="481.9" y="271" class="ttl">IP12</text>
<polygon points="593.25,335.97 614.34,271.12 615.91,271.91 663.09,316.75 663.09,336.44 593.25,336.44" fill="#e7e7e7" />
<polygon points="592.47,335.97 594.03,299.25 595.59,280.5 597.16,270.34 663.09,270.34 663.09,292.22 602.62,292.22 597.94,294.56 594.81,307.06 593.25,327.38" fill="#eca7c0" fill-opacity="0.8" />
<polygon points="596.38,292.22 663.09,292.22 663.09,296.44 596.38,296.44" fill="#e4c8f6" fill-opacity="0.65" />
<polygon points="593.25,303.16 663.09,303.16 663.09,312.53 593.25,312.53" fill="#ff0000" fill-opacity="0.15" />
<polygon points="592.94,310.97 663.09,310.97 663.09,318 592.94,318" fill="#a020f0" fill-opacity="0.22" />
<polygon points="592.94,312.53 663.09,312.53 663.09,315.66 592.94,315.66" fill="#0000ff" fill-opacity="0.2" />
<polyline points="592.47,335.97 594.03,313.31 595.59,296.12 597.16,285.19 599.5,275.81 601.84,270.34" fill="none" stroke="#ff0000" stroke-width="0.8" stroke-linejoin="round"/>
<polyline points="592.5,336 593.91,308.75 595.32,294 596.74,286.02 598.15,281.7 599.56,279.36 600.97,278.09 602.38,277.41 603.8,277.04 605.21,276.84 606.62,276.73 608.03,276.67 609.44,276.64 610.86,276.62 612.27,276.61 613.68,276.61 615.09,276.6 616.5,276.6 617.92,276.6 619.33,276.6 620.74,276.6 622.15,276.6 623.56,276.6 624.98,276.6 626.39,276.6 627.8,276.6 629.21,276.6 630.62,276.6 632.04,276.6 633.45,276.6 634.86,276.6 636.27,276.6 637.68,276.6 639.1,276.6 640.51,276.6 641.92,276.6 643.33,276.6 644.74,276.6 646.16,276.6 647.57,276.6 648.98,276.6 650.39,276.6 651.8,276.6 653.22,276.6 654.63,276.6 656.04,276.6 657.45,276.6 658.86,276.6 660.28,276.6 661.69,276.6 663.1,276.6" fill="none" stroke="#a020f0" stroke-width="0.8" stroke-linejoin="round"/>
<polyline points="592.5,336 593.91,310.98 595.32,309.49 596.74,309.41 598.15,309.4 599.56,309.4 600.97,309.4 602.38,309.4 603.8,309.4 605.21,309.4 606.62,309.4 608.03,309.4 609.44,309.4 610.86,309.4 612.27,309.4 613.68,309.4 615.09,309.4 616.5,309.4 617.92,309.4 619.33,309.4 620.74,309.4 622.15,309.4 623.56,309.4 624.98,309.4 626.39,309.4 627.8,309.4 629.21,309.4 630.62,309.4 632.04,309.4 633.45,309.4 634.86,309.4 636.27,309.4 637.68,309.4 639.1,309.4 640.51,309.4 641.92,309.4 643.33,309.4 644.74,309.4 646.16,309.4 647.57,309.4 648.98,309.4 650.39,309.4 651.8,309.4 653.22,309.4 654.63,309.4 656.04,309.4 657.45,309.4 658.86,309.4 660.28,309.4 661.69,309.4 663.1,309.4" fill="none" stroke="#ff0000" stroke-width="0.8" stroke-linejoin="round"/>
<polyline points="592.5,336 593.91,314.49 595.32,314.11 596.74,314.1 598.15,314.1 599.56,314.1 600.97,314.1 602.38,314.1 603.8,314.1 605.21,314.1 606.62,314.1 608.03,314.1 609.44,314.1 610.86,314.1 612.27,314.1 613.68,314.1 615.09,314.1 616.5,314.1 617.92,314.1 619.33,314.1 620.74,314.1 622.15,314.1 623.56,314.1 624.98,314.1 626.39,314.1 627.8,314.1 629.21,314.1 630.62,314.1 632.04,314.1 633.45,314.1 634.86,314.1 636.27,314.1 637.68,314.1 639.1,314.1 640.51,314.1 641.92,314.1 643.33,314.1 644.74,314.1 646.16,314.1 647.57,314.1 648.98,314.1 650.39,314.1 651.8,314.1 653.22,314.1 654.63,314.1 656.04,314.1 657.45,314.1 658.86,314.1 660.28,314.1 661.69,314.1 663.1,314.1" fill="none" stroke="#0000ff" stroke-width="1.3" stroke-linejoin="round"/>
<rect x="614.06" y="289.59" width="1.5" height="1.5" fill="#111"/>
<rect x="613.12" y="293.19" width="1.5" height="1.5" fill="#111"/>
<rect x="617.5" y="296.94" width="1.5" height="1.5" fill="#111"/>
<rect x="618.44" y="299.59" width="1.5" height="1.5" fill="#111"/>
<rect x="615.31" y="300.06" width="1.5" height="1.5" fill="#111"/>
<rect x="616.25" y="305.53" width="1.5" height="1.5" fill="#111"/>
<rect x="662.34" y="324.59" width="1.5" height="1.5" fill="#111"/>
<line x1="589" y1="336.4" x2="589" y2="277.6" class="rax"/>
<line x1="587.5" y1="336.4" x2="589" y2="336.4" class="rtk"/>
<text transform="translate(584.7,336.4) rotate(-90)" class="rtl" text-anchor="middle">0</text>
<line x1="587.5" y1="326.6" x2="589" y2="326.6" class="rtk"/>
<text transform="translate(584.7,326.6) rotate(-90)" class="rtl" text-anchor="middle">1</text>
<line x1="587.5" y1="316.8" x2="589" y2="316.8" class="rtk"/>
<text transform="translate(584.7,316.8) rotate(-90)" class="rtl" text-anchor="middle">2</text>
<line x1="587.5" y1="307" x2="589" y2="307" class="rtk"/>
<text transform="translate(584.7,307) rotate(-90)" class="rtl" text-anchor="middle">3</text>
<line x1="587.5" y1="297.2" x2="589" y2="297.2" class="rtk"/>
<text transform="translate(584.7,297.2) rotate(-90)" class="rtl" text-anchor="middle">4</text>
<line x1="587.5" y1="287.4" x2="589" y2="287.4" class="rtk"/>
<text transform="translate(584.7,287.4) rotate(-90)" class="rtl" text-anchor="middle">5</text>
<line x1="587.5" y1="277.6" x2="589" y2="277.6" class="rtk"/>
<text transform="translate(584.7,277.6) rotate(-90)" class="rtl" text-anchor="middle">6</text>
<line x1="592.2" y1="338.6" x2="656.6" y2="338.6" class="rax"/>
<line x1="592.2" y1="338.6" x2="592.2" y2="340" class="rtk"/>
<text x="592.2" y="344.5" class="rtl" text-anchor="middle">0</text>
<line x1="605.08" y1="338.6" x2="605.08" y2="340" class="rtk"/>
<text x="605.08" y="344.5" class="rtl" text-anchor="middle">2</text>
<line x1="617.96" y1="338.6" x2="617.96" y2="340" class="rtk"/>
<text x="617.96" y="344.5" class="rtl" text-anchor="middle">4</text>
<line x1="630.84" y1="338.6" x2="630.84" y2="340" class="rtk"/>
<text x="630.84" y="344.5" class="rtl" text-anchor="middle">6</text>
<line x1="643.72" y1="338.6" x2="643.72" y2="340" class="rtk"/>
<text x="643.72" y="344.5" class="rtl" text-anchor="middle">8</text>
<line x1="656.6" y1="338.6" x2="656.6" y2="340" class="rtk"/>
<text x="656.6" y="344.5" class="rtl" text-anchor="middle">10</text>
<text x="625.7" y="350" class="ral" text-anchor="middle">Time-lag (months)</text>
<text transform="translate(578.2,308.2) rotate(-90)" class="ral" text-anchor="middle">Semi-variance (hectares)</text>
</g>
<g>
<line x1="30.3" y1="415.6" x2="118" y2="415.6" class="gmin"/>
<line x1="30.3" y1="399.8" x2="118" y2="399.8" class="gmin"/>
<line x1="30.3" y1="384" x2="118" y2="384" class="gmin"/>
<line x1="30.3" y1="368.2" x2="118" y2="368.2" class="gmin"/>
<line x1="37.81" y1="362.2" x2="37.81" y2="426.4" class="gmin"/>
<line x1="52.84" y1="362.2" x2="52.84" y2="426.4" class="gmin"/>
<line x1="67.86" y1="362.2" x2="67.86" y2="426.4" class="gmin"/>
<line x1="82.88" y1="362.2" x2="82.88" y2="426.4" class="gmin"/>
<line x1="97.91" y1="362.2" x2="97.91" y2="426.4" class="gmin"/>
<line x1="112.93" y1="362.2" x2="112.93" y2="426.4" class="gmin"/>
<line x1="30.3" y1="423.5" x2="118" y2="423.5" class="gmaj"/>
<line x1="30.3" y1="407.7" x2="118" y2="407.7" class="gmaj"/>
<line x1="30.3" y1="391.9" x2="118" y2="391.9" class="gmaj"/>
<line x1="30.3" y1="376.1" x2="118" y2="376.1" class="gmaj"/>
<line x1="30.3" y1="362.2" x2="30.3" y2="426.4" class="gmaj"/>
<line x1="45.32" y1="362.2" x2="45.32" y2="426.4" class="gmaj"/>
<line x1="60.35" y1="362.2" x2="60.35" y2="426.4" class="gmaj"/>
<line x1="75.37" y1="362.2" x2="75.37" y2="426.4" class="gmaj"/>
<line x1="90.4" y1="362.2" x2="90.4" y2="426.4" class="gmaj"/>
<line x1="105.42" y1="362.2" x2="105.42" y2="426.4" class="gmaj"/>
<polygon points="30.13,423.46 31.04,419.21 32.55,413.13 34.07,407.06 35.59,400.99 37.11,394.92 38.63,389.6 39.84,384.29 40.45,382.77 41.06,388.84 41.97,378.22 42.73,370.63 43.49,369.11 44.7,368.35 45.91,367.89 47.43,367.29 48.95,366.83 50.01,366.07 51.08,365.31 51.99,365.77 52.59,369.11 53.2,375.18 53.81,372.15 54.42,379.74 55.33,385.81 56.24,393.4 57.15,400.99 58.06,407.06 58.97,411.62 59.88,414.65 61.1,416.93 62.16,418.45 63.22,419.97 64.13,419.21 64.74,413.13 65.35,407.82 65.95,405.54 66.86,404.79 67.78,405.54 68.38,408.58 68.99,413.13 69.9,419.21 70.81,421.48 72.03,423 72.03,422.9 30.13,422.9" fill="#a9c5a1" fill-opacity="0.5"/>
<polyline points="30.13,423 31.04,421.48 32.25,419.97 33.77,418.45 35.29,417.69 36.81,417.39 38.32,416.93 39.39,417.69 40.45,419.21 41.66,419.97 42.88,418.9 44.4,418.45 45.91,418.14 47.43,417.99 48.95,417.69 50.47,417.39 51.99,416.93 52.59,414.65 53.2,411.62 54.11,409.34 55.02,410.1 55.93,412.38 56.84,414.65 58.06,416.17 59.27,417.69 60.49,419.21 61.7,420.73 62.92,421.48 64.13,421.03 65.04,418.45 65.95,416.93 66.86,417.39 67.78,417.69 68.69,417.99 69.75,419.21 70.81,421.48 72.03,422.7" fill="none" stroke="#111" stroke-width="1.05" stroke-linejoin="round"/>
<line x1="30.3" y1="362.2" x2="30.3" y2="426.9" class="axl"/>
<line x1="29.8" y1="426.4" x2="118" y2="426.4" class="axl"/>
<line x1="28.4" y1="423.5" x2="30.3" y2="423.5" class="tk"/>
<text x="27.3" y="425.5" class="tl" text-anchor="end">0</text>
<line x1="28.4" y1="407.7" x2="30.3" y2="407.7" class="tk"/>
<text x="27.3" y="409.7" class="tl" text-anchor="end">50</text>
<line x1="28.4" y1="391.9" x2="30.3" y2="391.9" class="tk"/>
<text x="27.3" y="393.9" class="tl" text-anchor="end">100</text>
<line x1="28.4" y1="376.1" x2="30.3" y2="376.1" class="tk"/>
<text x="27.3" y="378.1" class="tl" text-anchor="end">150</text>
<line x1="30.3" y1="426.4" x2="30.3" y2="428.3" class="tk"/>
<text x="30.3" y="434" class="tl" text-anchor="middle">0</text>
<line x1="45.32" y1="426.4" x2="45.32" y2="428.3" class="tk"/>
<text x="45.32" y="434" class="tl" text-anchor="middle">120</text>
<line x1="60.35" y1="426.4" x2="60.35" y2="428.3" class="tk"/>
<text x="60.35" y="434" class="tl" text-anchor="middle">240</text>
<line x1="75.37" y1="426.4" x2="75.37" y2="428.3" class="tk"/>
<text x="75.37" y="434" class="tl" text-anchor="middle">360</text>
<line x1="90.4" y1="426.4" x2="90.4" y2="428.3" class="tk"/>
<text x="90.4" y="434" class="tl" text-anchor="middle">480</text>
<line x1="105.42" y1="426.4" x2="105.42" y2="428.3" class="tk"/>
<text x="105.42" y="434" class="tl" text-anchor="middle">600</text>
<text x="32.8" y="358.8" class="ttl">IP13</text>
<polygon points="139.69,423.19 144.38,416.94 147.5,412.25 150.62,402.88 152.19,398.19 153.75,397.41 156.88,398.19 160,397.41 163.12,395.06 166.25,391.94 174.06,384.91 181.88,377.88 189.69,370.84 197.5,363.81 202.19,359.91 203.75,362.25 206.09,374.75 208.44,387.25 210,396.62 210,407.56 208.44,406 203.75,406 197.5,407.56 189.69,409.12 181.88,409.91 174.06,410.69 166.25,412.25 160,415.38 156.88,418.5 153.75,419.28 150.62,416.94 147.5,415.38 144.38,418.5 141.25,423.19" fill="#e4e4e4" />
<rect x="138.94" y="422.44" width="1.5" height="1.5" fill="#111"/>
<rect x="140.5" y="420.09" width="1.5" height="1.5" fill="#111"/>
<rect x="142.84" y="414.31" width="1.5" height="1.5" fill="#111"/>
<rect x="144.88" y="410.72" width="1.5" height="1.5" fill="#111"/>
<rect x="146.75" y="409.94" width="1.5" height="1.5" fill="#111"/>
<rect x="148" y="409.62" width="1.5" height="1.5" fill="#111"/>
<rect x="151.75" y="403.69" width="1.5" height="1.5" fill="#111"/>
<rect x="153.78" y="404" width="1.5" height="1.5" fill="#111"/>
<rect x="155.34" y="404.47" width="1.5" height="1.5" fill="#111"/>
<rect x="156.91" y="404.47" width="1.5" height="1.5" fill="#111"/>
<rect x="158.94" y="402.44" width="1.5" height="1.5" fill="#111"/>
<rect x="161.12" y="400.56" width="1.5" height="1.5" fill="#111"/>
<rect x="199.88" y="377.12" width="1.5" height="1.5" fill="#111"/>
<rect x="201.75" y="375.88" width="1.5" height="1.5" fill="#111"/>
<rect x="204.25" y="379.47" width="1.5" height="1.5" fill="#111"/>
<rect x="206.44" y="387.75" width="1.5" height="1.5" fill="#111"/>
<rect x="208.94" y="395.56" width="1.5" height="1.5" fill="#111"/>
<rect x="139.4" y="406.1" width="70.3" height="5.6" fill="#b03cbe" fill-opacity="0.55"/>
<polyline points="139.4,423.6 139.4,408.5" fill="none" stroke="#e02050" stroke-width="0.9" stroke-linejoin="round"/>
<polyline points="139.4,408.5 209.7,408.5" fill="none" stroke="#d70a46" stroke-width="1.0" stroke-linejoin="round"/>
<line x1="136.3" y1="423.6" x2="136.3" y2="361" class="rax"/>
<line x1="134.8" y1="423.6" x2="136.3" y2="423.6" class="rtk"/>
<text transform="translate(132,423.6) rotate(-90)" class="rtl" text-anchor="middle">0</text>
<line x1="134.8" y1="413.17" x2="136.3" y2="413.17" class="rtk"/>
<text transform="translate(132,413.17) rotate(-90)" class="rtl" text-anchor="middle">10</text>
<line x1="134.8" y1="402.73" x2="136.3" y2="402.73" class="rtk"/>
<text transform="translate(132,402.73) rotate(-90)" class="rtl" text-anchor="middle">20</text>
<line x1="134.8" y1="392.3" x2="136.3" y2="392.3" class="rtk"/>
<text transform="translate(132,392.3) rotate(-90)" class="rtl" text-anchor="middle">30</text>
<line x1="134.8" y1="381.87" x2="136.3" y2="381.87" class="rtk"/>
<text transform="translate(132,381.87) rotate(-90)" class="rtl" text-anchor="middle">40</text>
<line x1="134.8" y1="371.43" x2="136.3" y2="371.43" class="rtk"/>
<text transform="translate(132,371.43) rotate(-90)" class="rtl" text-anchor="middle">50</text>
<line x1="134.8" y1="361" x2="136.3" y2="361" class="rtk"/>
<text transform="translate(132,361) rotate(-90)" class="rtl" text-anchor="middle">60</text>
<line x1="139.1" y1="426.3" x2="197" y2="426.3" class="rax"/>
<line x1="139.1" y1="426.3" x2="139.1" y2="427.7" class="rtk"/>
<text x="139.1" y="432.2" class="rtl" text-anchor="middle">0</text>
<line x1="158.4" y1="426.3" x2="158.4" y2="427.7" class="rtk"/>
<text x="158.4" y="432.2" class="rtl" text-anchor="middle">2</text>
<line x1="177.7" y1="426.3" x2="177.7" y2="427.7" class="rtk"/>
<text x="177.7" y="432.2" class="rtl" text-anchor="middle">4</text>
<line x1="197" y1="426.3" x2="197" y2="427.7" class="rtk"/>
<text x="197" y="432.2" class="rtl" text-anchor="middle">6</text>
<text x="172.6" y="437.7" class="ral" text-anchor="middle">Time-lag (months)</text>
<text transform="translate(125.5,394.7) rotate(-90)" class="ral" text-anchor="middle">Semi-variance (hectares)</text>
</g>
<g>
<line x1="255.4" y1="412.73" x2="343.1" y2="412.73" class="gmin"/>
<line x1="255.4" y1="391.18" x2="343.1" y2="391.18" class="gmin"/>
<line x1="255.4" y1="369.62" x2="343.1" y2="369.62" class="gmin"/>
<line x1="262.91" y1="362.2" x2="262.91" y2="426.4" class="gmin"/>
<line x1="277.94" y1="362.2" x2="277.94" y2="426.4" class="gmin"/>
<line x1="292.96" y1="362.2" x2="292.96" y2="426.4" class="gmin"/>
<line x1="307.98" y1="362.2" x2="307.98" y2="426.4" class="gmin"/>
<line x1="323.01" y1="362.2" x2="323.01" y2="426.4" class="gmin"/>
<line x1="338.03" y1="362.2" x2="338.03" y2="426.4" class="gmin"/>
<line x1="255.4" y1="423.5" x2="343.1" y2="423.5" class="gmaj"/>
<line x1="255.4" y1="401.95" x2="343.1" y2="401.95" class="gmaj"/>
<line x1="255.4" y1="380.4" x2="343.1" y2="380.4" class="gmaj"/>
<line x1="255.4" y1="362.2" x2="255.4" y2="426.4" class="gmaj"/>
<line x1="270.42" y1="362.2" x2="270.42" y2="426.4" class="gmaj"/>
<line x1="285.45" y1="362.2" x2="285.45" y2="426.4" class="gmaj"/>
<line x1="300.47" y1="362.2" x2="300.47" y2="426.4" class="gmaj"/>
<line x1="315.5" y1="362.2" x2="315.5" y2="426.4" class="gmaj"/>
<line x1="330.52" y1="362.2" x2="330.52" y2="426.4" class="gmaj"/>
<polygon points="255.13,423.46 260.59,423.46 262.11,421.48 264.39,419.21 266.66,416.93 268.94,414.65 271.22,412.38 273.49,410.1 275.77,407.82 278.05,405.24 280.33,402.81 282.6,400.23 284.58,397.19 285.18,394.92 285.49,382.77 285.79,375.18 286.25,382.77 286.7,394.16 287.61,393.4 288.37,375.18 288.83,369.11 289.28,376.7 289.74,387.33 290.65,393.4 291.41,397.19 291.86,400.99 292.02,423.46 292.02,422.9 255.13,422.9" fill="#a5afcd" fill-opacity="0.5"/>
<polyline points="255.13,423.76 257.55,423.76 260.59,423.46 262.11,422.85 265.15,422.24 268.18,421.79 271.22,421.33 274.25,420.73 277.29,420.27 280.33,419.81 283.36,419.36 285.64,418.9 287.16,418.45 288.22,417.99 289.44,417.99 290.95,417.99 292.02,417.99" fill="none" stroke="#111" stroke-width="1.05" stroke-linejoin="round"/>
<line x1="255.4" y1="362.2" x2="255.4" y2="426.9" class="axl"/>
<line x1="254.9" y1="426.4" x2="343.1" y2="426.4" class="axl"/>
<line x1="253.5" y1="423.5" x2="255.4" y2="423.5" class="tk"/>
<text x="252.4" y="425.5" class="tl" text-anchor="end">0</text>
<line x1="253.5" y1="401.95" x2="255.4" y2="401.95" class="tk"/>
<text x="252.4" y="403.95" class="tl" text-anchor="end">10000</text>
<line x1="253.5" y1="380.4" x2="255.4" y2="380.4" class="tk"/>
<text x="252.4" y="382.4" class="tl" text-anchor="end">20000</text>
<line x1="255.4" y1="426.4" x2="255.4" y2="428.3" class="tk"/>
<text x="255.4" y="434" class="tl" text-anchor="middle">0</text>
<line x1="270.42" y1="426.4" x2="270.42" y2="428.3" class="tk"/>
<text x="270.42" y="434" class="tl" text-anchor="middle">120</text>
<line x1="285.45" y1="426.4" x2="285.45" y2="428.3" class="tk"/>
<text x="285.45" y="434" class="tl" text-anchor="middle">240</text>
<line x1="300.47" y1="426.4" x2="300.47" y2="428.3" class="tk"/>
<text x="300.47" y="434" class="tl" text-anchor="middle">360</text>
<line x1="315.5" y1="426.4" x2="315.5" y2="428.3" class="tk"/>
<text x="315.5" y="434" class="tl" text-anchor="middle">480</text>
<line x1="330.52" y1="426.4" x2="330.52" y2="428.3" class="tk"/>
<text x="330.52" y="434" class="tl" text-anchor="middle">600</text>
<text x="257.9" y="358.8" class="ttl">IP14</text>
<rect x="363.85" y="390.75" width="1.5" height="1.5" fill="#111"/>
<line x1="361.2" y1="423.6" x2="361.2" y2="358" class="rax"/>
<line x1="359.7" y1="423.6" x2="361.2" y2="423.6" class="rtk"/>
<text transform="translate(356.9,423.6) rotate(-90)" class="rtl" text-anchor="middle">-1.0</text>
<line x1="359.7" y1="407.2" x2="361.2" y2="407.2" class="rtk"/>
<text transform="translate(356.9,407.2) rotate(-90)" class="rtl" text-anchor="middle">-0.5</text>
<line x1="359.7" y1="390.8" x2="361.2" y2="390.8" class="rtk"/>
<text transform="translate(356.9,390.8) rotate(-90)" class="rtl" text-anchor="middle">0.0</text>
<line x1="359.7" y1="374.4" x2="361.2" y2="374.4" class="rtk"/>
<text transform="translate(356.9,374.4) rotate(-90)" class="rtl" text-anchor="middle">0.5</text>
<line x1="359.7" y1="358" x2="361.2" y2="358" class="rtk"/>
<text transform="translate(356.9,358) rotate(-90)" class="rtl" text-anchor="middle">1.0</text>
<line x1="364.5" y1="426.3" x2="430.9" y2="426.3" class="rax"/>
<line x1="364.5" y1="426.3" x2="364.5" y2="427.7" class="rtk"/>
<text x="364.5" y="432.2" class="rtl" text-anchor="middle">0</text>
<line x1="375.57" y1="426.3" x2="375.57" y2="427.7" class="rtk"/>
<text x="375.57" y="432.2" class="rtl" text-anchor="middle">1</text>
<line x1="386.63" y1="426.3" x2="386.63" y2="427.7" class="rtk"/>
<text x="386.63" y="432.2" class="rtl" text-anchor="middle">2</text>
<line x1="397.7" y1="426.3" x2="397.7" y2="427.7" class="rtk"/>
<text x="397.7" y="432.2" class="rtl" text-anchor="middle">3</text>
<line x1="408.77" y1="426.3" x2="408.77" y2="427.7" class="rtk"/>
<text x="408.77" y="432.2" class="rtl" text-anchor="middle">4</text>
<line x1="419.83" y1="426.3" x2="419.83" y2="427.7" class="rtk"/>
<text x="419.83" y="432.2" class="rtl" text-anchor="middle">5</text>
<line x1="430.9" y1="426.3" x2="430.9" y2="427.7" class="rtk"/>
<text x="430.9" y="432.2" class="rtl" text-anchor="middle">6</text>
<text x="397.6" y="437.7" class="ral" text-anchor="middle">Time-lag (months)</text>
<text transform="translate(350.4,393.1) rotate(-90)" class="ral" text-anchor="middle">Semi-variance (square microns)</text>
</g>
<text transform="translate(7.05,218.0) rotate(-90)" class="big" text-anchor="middle">Semi−variance (ha)</text>
<text transform="translate(231.8,218.0) rotate(-90)" class="big" text-anchor="middle">Semi−variance (ha)</text>
<text transform="translate(459.1,218.0) rotate(-90)" class="big" text-anchor="middle">Semi−variance (ha)</text>
<text x="71.9" y="445" class="big" text-anchor="middle">Time lag (days)</text>
<text x="294.2" y="445" class="big" text-anchor="middle">Time lag (days)</text>
<text x="522.4" y="359" class="big" text-anchor="middle">Time lag (days)</text>
<text x="487.2" y="388.2" class="lgt">Range stability</text>
<rect x="487.7" y="392.9" width="10.1" height="10.6" fill="#cbd9c3"/>
<rect x="487.7" y="404.6" width="10.1" height="10.4" fill="#c7cddf"/>
<text x="502.1" y="400.5" class="lgl">Effective sample size &gt; 10</text>
<text x="502.1" y="411.8" class="lgl">Very low effective sample size</text>
</svg></body></html>
